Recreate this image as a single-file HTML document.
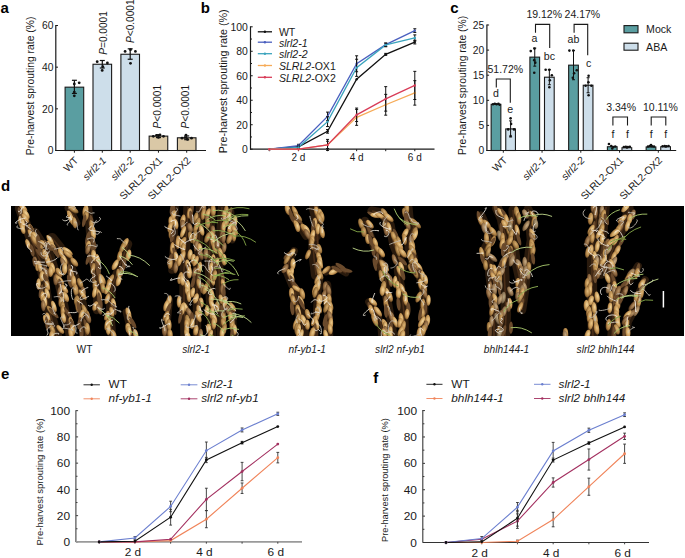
<!DOCTYPE html>
<html><head><meta charset="utf-8"><style>
html,body{margin:0;padding:0;background:#fff;width:685px;height:558px;overflow:hidden}
svg{display:block}
text{font-family:"Liberation Sans", sans-serif}
</style></head><body>
<svg width="685" height="558" viewBox="0 0 685 558" font-family='"Liberation Sans", sans-serif'>
<rect width="685" height="558" fill="#fff"/>
<text x="0.40" y="12.80" font-size="15" text-anchor="start" font-weight="bold" fill="#000">a</text>
<text transform="translate(34.10,85.90) rotate(-90)" font-size="10.35" text-anchor="middle" font-weight="normal" fill="#1a1a1a">Pre-harvest sprouting rate (%)</text>
<line x1="55.80" y1="150.50" x2="58.00" y2="150.50" stroke="#1a1a1a" stroke-width="1"/>
<text x="53.40" y="154.30" font-size="10.3" text-anchor="end" font-weight="normal" fill="#1a1a1a">0</text>
<line x1="55.80" y1="108.83" x2="58.00" y2="108.83" stroke="#1a1a1a" stroke-width="1"/>
<text x="53.40" y="112.63" font-size="10.3" text-anchor="end" font-weight="normal" fill="#1a1a1a">20</text>
<line x1="55.80" y1="67.17" x2="58.00" y2="67.17" stroke="#1a1a1a" stroke-width="1"/>
<text x="53.40" y="70.97" font-size="10.3" text-anchor="end" font-weight="normal" fill="#1a1a1a">40</text>
<line x1="55.80" y1="25.50" x2="58.00" y2="25.50" stroke="#1a1a1a" stroke-width="1"/>
<text x="53.40" y="29.30" font-size="10.3" text-anchor="end" font-weight="normal" fill="#1a1a1a">60</text>
<rect x="65.10" y="87.17" width="18.60" height="63.33" fill="#5a9ea1" stroke="#1a1a1a" stroke-width="1.1"/>
<rect x="93.00" y="64.25" width="18.60" height="86.25" fill="#cddeea" stroke="#1a1a1a" stroke-width="1.1"/>
<rect x="120.90" y="54.25" width="18.60" height="96.25" fill="#cddeea" stroke="#1a1a1a" stroke-width="1.1"/>
<rect x="149.15" y="136.12" width="18.60" height="14.38" fill="#dac8a6" stroke="#1a1a1a" stroke-width="1.1"/>
<rect x="177.40" y="137.79" width="18.60" height="12.71" fill="#dac8a6" stroke="#1a1a1a" stroke-width="1.1"/>
<line x1="74.40" y1="80.29" x2="74.40" y2="93.42" stroke="#111" stroke-width="1.2"/>
<line x1="71.90" y1="80.29" x2="76.90" y2="80.29" stroke="#111" stroke-width="1.2"/>
<line x1="71.90" y1="93.42" x2="76.90" y2="93.42" stroke="#111" stroke-width="1.2"/>
<circle cx="74.30" cy="84.00" r="1.4" fill="#111"/>
<circle cx="79.20" cy="82.80" r="1.4" fill="#111"/>
<circle cx="74.30" cy="92.10" r="1.4" fill="#111"/>
<circle cx="74.30" cy="95.80" r="1.4" fill="#111"/>
<line x1="102.30" y1="60.50" x2="102.30" y2="68.00" stroke="#111" stroke-width="1.2"/>
<line x1="99.80" y1="60.50" x2="104.80" y2="60.50" stroke="#111" stroke-width="1.2"/>
<line x1="99.80" y1="68.00" x2="104.80" y2="68.00" stroke="#111" stroke-width="1.2"/>
<circle cx="97.20" cy="61.70" r="1.4" fill="#111"/>
<circle cx="107.40" cy="63.00" r="1.4" fill="#111"/>
<circle cx="102.20" cy="70.40" r="1.4" fill="#111"/>
<circle cx="102.80" cy="66.70" r="1.4" fill="#111"/>
<line x1="130.20" y1="48.83" x2="130.20" y2="59.25" stroke="#111" stroke-width="1.2"/>
<line x1="127.70" y1="48.83" x2="132.70" y2="48.83" stroke="#111" stroke-width="1.2"/>
<line x1="127.70" y1="59.25" x2="132.70" y2="59.25" stroke="#111" stroke-width="1.2"/>
<circle cx="125.10" cy="51.40" r="1.4" fill="#111"/>
<circle cx="135.40" cy="51.40" r="1.4" fill="#111"/>
<circle cx="130.50" cy="49.70" r="1.4" fill="#111"/>
<circle cx="130.50" cy="63.30" r="1.4" fill="#111"/>
<line x1="158.45" y1="134.67" x2="158.45" y2="137.58" stroke="#111" stroke-width="1.2"/>
<line x1="155.95" y1="134.67" x2="160.95" y2="134.67" stroke="#111" stroke-width="1.2"/>
<line x1="155.95" y1="137.58" x2="160.95" y2="137.58" stroke="#111" stroke-width="1.2"/>
<circle cx="153.30" cy="136.33" r="1.4" fill="#111"/>
<circle cx="163.50" cy="136.33" r="1.4" fill="#111"/>
<circle cx="156.50" cy="135.29" r="1.4" fill="#111"/>
<circle cx="160.00" cy="134.88" r="1.4" fill="#111"/>
<circle cx="158.40" cy="137.38" r="1.4" fill="#111"/>
<line x1="186.70" y1="135.92" x2="186.70" y2="139.67" stroke="#111" stroke-width="1.2"/>
<line x1="184.20" y1="135.92" x2="189.20" y2="135.92" stroke="#111" stroke-width="1.2"/>
<line x1="184.20" y1="139.67" x2="189.20" y2="139.67" stroke="#111" stroke-width="1.2"/>
<circle cx="182.00" cy="138.21" r="1.4" fill="#111"/>
<circle cx="191.50" cy="138.21" r="1.4" fill="#111"/>
<circle cx="186.00" cy="135.08" r="1.4" fill="#111"/>
<circle cx="187.50" cy="139.46" r="1.4" fill="#111"/>
<circle cx="185.00" cy="137.58" r="1.4" fill="#111"/>
<line x1="55.30" y1="150.50" x2="206.00" y2="150.50" stroke="#1a1a1a" stroke-width="1.2"/>
<line x1="55.80" y1="25.00" x2="55.80" y2="151.00" stroke="#1a1a1a" stroke-width="1.2"/>
<line x1="74.40" y1="150.50" x2="74.40" y2="152.70" stroke="#1a1a1a" stroke-width="1"/>
<text transform="translate(79.00,161.10) rotate(-45)" font-size="10.3" text-anchor="end" font-weight="normal" fill="#1a1a1a">WT</text>
<line x1="102.30" y1="150.50" x2="102.30" y2="152.70" stroke="#1a1a1a" stroke-width="1"/>
<text transform="translate(106.90,161.10) rotate(-45)" font-size="10.3" text-anchor="end" font-weight="normal" fill="#1a1a1a" font-style="italic">slrl2-1</text>
<line x1="130.20" y1="150.50" x2="130.20" y2="152.70" stroke="#1a1a1a" stroke-width="1"/>
<text transform="translate(134.80,161.10) rotate(-45)" font-size="10.3" text-anchor="end" font-weight="normal" fill="#1a1a1a" font-style="italic">slrl2-2</text>
<line x1="158.45" y1="150.50" x2="158.45" y2="152.70" stroke="#1a1a1a" stroke-width="1"/>
<text transform="translate(163.05,161.10) rotate(-45)" font-size="10.3" text-anchor="end" font-weight="normal" fill="#1a1a1a">SLRL2-OX1</text>
<line x1="186.70" y1="150.50" x2="186.70" y2="152.70" stroke="#1a1a1a" stroke-width="1"/>
<text transform="translate(191.30,161.10) rotate(-45)" font-size="10.3" text-anchor="end" font-weight="normal" fill="#1a1a1a">SLRL2-OX2</text>
<text transform="translate(107.00,54.70) rotate(-90)" font-size="10.1" text-anchor="start" font-weight="normal" fill="#1a1a1a"><tspan font-style="italic">P</tspan>=0.0001</text>
<text transform="translate(134.20,43.00) rotate(-90)" font-size="10.1" text-anchor="start" font-weight="normal" fill="#1a1a1a"><tspan font-style="italic">P</tspan>&lt;0.0001</text>
<text transform="translate(161.20,128.40) rotate(-90)" font-size="10.1" text-anchor="start" font-weight="normal" fill="#1a1a1a"><tspan font-style="italic">P</tspan>&lt;0.0001</text>
<text transform="translate(189.30,128.40) rotate(-90)" font-size="10.1" text-anchor="start" font-weight="normal" fill="#1a1a1a"><tspan font-style="italic">P</tspan>&lt;0.0001</text>
<text x="200.70" y="12.50" font-size="15" text-anchor="start" font-weight="bold" fill="#000">b</text>
<text transform="translate(227.40,81.30) rotate(-90)" font-size="10.75" text-anchor="middle" font-weight="normal" fill="#1a1a1a">Pre-harvest sprouting rate (%)</text>
<line x1="250.50" y1="149.20" x2="252.70" y2="149.20" stroke="#1a1a1a" stroke-width="1"/>
<text x="247.80" y="153.20" font-size="10.4" text-anchor="end" font-weight="normal" fill="#1a1a1a">0</text>
<line x1="250.50" y1="136.96" x2="252.00" y2="136.96" stroke="#1a1a1a" stroke-width="1"/>
<line x1="250.50" y1="124.72" x2="252.70" y2="124.72" stroke="#1a1a1a" stroke-width="1"/>
<text x="247.80" y="128.72" font-size="10.4" text-anchor="end" font-weight="normal" fill="#1a1a1a">20</text>
<line x1="250.50" y1="112.48" x2="252.00" y2="112.48" stroke="#1a1a1a" stroke-width="1"/>
<line x1="250.50" y1="100.24" x2="252.70" y2="100.24" stroke="#1a1a1a" stroke-width="1"/>
<text x="247.80" y="104.24" font-size="10.4" text-anchor="end" font-weight="normal" fill="#1a1a1a">40</text>
<line x1="250.50" y1="88.00" x2="252.00" y2="88.00" stroke="#1a1a1a" stroke-width="1"/>
<line x1="250.50" y1="75.76" x2="252.70" y2="75.76" stroke="#1a1a1a" stroke-width="1"/>
<text x="247.80" y="79.76" font-size="10.4" text-anchor="end" font-weight="normal" fill="#1a1a1a">60</text>
<line x1="250.50" y1="63.52" x2="252.00" y2="63.52" stroke="#1a1a1a" stroke-width="1"/>
<line x1="250.50" y1="51.28" x2="252.70" y2="51.28" stroke="#1a1a1a" stroke-width="1"/>
<text x="247.80" y="55.28" font-size="10.4" text-anchor="end" font-weight="normal" fill="#1a1a1a">80</text>
<line x1="250.50" y1="39.04" x2="252.00" y2="39.04" stroke="#1a1a1a" stroke-width="1"/>
<line x1="250.50" y1="26.80" x2="252.70" y2="26.80" stroke="#1a1a1a" stroke-width="1"/>
<text x="247.80" y="30.80" font-size="10.4" text-anchor="end" font-weight="normal" fill="#1a1a1a">100</text>
<line x1="250.50" y1="26.30" x2="250.50" y2="149.70" stroke="#1a1a1a" stroke-width="1.2"/>
<line x1="250.00" y1="149.20" x2="434.50" y2="149.20" stroke="#1a1a1a" stroke-width="1.2"/>
<line x1="269.40" y1="149.20" x2="269.40" y2="151.20" stroke="#1a1a1a" stroke-width="1"/>
<line x1="298.48" y1="149.20" x2="298.48" y2="151.20" stroke="#1a1a1a" stroke-width="1"/>
<line x1="327.56" y1="149.20" x2="327.56" y2="151.20" stroke="#1a1a1a" stroke-width="1"/>
<line x1="356.64" y1="149.20" x2="356.64" y2="151.20" stroke="#1a1a1a" stroke-width="1"/>
<line x1="385.72" y1="149.20" x2="385.72" y2="151.20" stroke="#1a1a1a" stroke-width="1"/>
<line x1="414.80" y1="149.20" x2="414.80" y2="151.20" stroke="#1a1a1a" stroke-width="1"/>
<text x="298.48" y="160.80" font-size="10" text-anchor="middle" font-weight="normal" fill="#1a1a1a">2 d</text>
<text x="356.64" y="160.80" font-size="10" text-anchor="middle" font-weight="normal" fill="#1a1a1a">4 d</text>
<text x="414.80" y="160.80" font-size="10" text-anchor="middle" font-weight="normal" fill="#1a1a1a">6 d</text>
<polyline points="269.40,149.20 298.48,146.75 327.56,131.33 356.64,79.19 385.72,54.34 414.80,42.10" fill="none" stroke="#111" stroke-width="1.3"/>
<polyline points="269.40,149.20 298.48,145.53 327.56,116.40 356.64,63.76 385.72,44.67 414.80,30.59" fill="none" stroke="#4a5fbf" stroke-width="1.3"/>
<polyline points="269.40,149.20 298.48,147.36 327.56,121.66 356.64,67.80 385.72,44.92 414.80,37.94" fill="none" stroke="#3ba4bd" stroke-width="1.3"/>
<polyline points="269.40,149.20 298.48,149.20 327.56,144.92 356.64,117.38 385.72,104.77 414.80,92.90" fill="none" stroke="#f6ab58" stroke-width="1.3"/>
<polyline points="269.40,149.20 298.48,149.20 327.56,144.92 356.64,114.81 385.72,98.89 414.80,85.43" fill="none" stroke="#d83c58" stroke-width="1.3"/>
<circle cx="269.40" cy="149.20" r="1.2" fill="#111"/>
<line x1="298.48" y1="145.53" x2="298.48" y2="147.98" stroke="#111" stroke-width="1"/>
<line x1="296.98" y1="145.53" x2="299.98" y2="145.53" stroke="#111" stroke-width="1"/>
<line x1="296.98" y1="147.98" x2="299.98" y2="147.98" stroke="#111" stroke-width="1"/>
<circle cx="298.48" cy="146.75" r="1.2" fill="#111"/>
<line x1="327.56" y1="129.49" x2="327.56" y2="133.17" stroke="#111" stroke-width="1"/>
<line x1="326.06" y1="129.49" x2="329.06" y2="129.49" stroke="#111" stroke-width="1"/>
<line x1="326.06" y1="133.17" x2="329.06" y2="133.17" stroke="#111" stroke-width="1"/>
<circle cx="327.56" cy="131.33" r="1.2" fill="#111"/>
<circle cx="356.64" cy="79.19" r="1.2" fill="#111"/>
<line x1="385.72" y1="53.36" x2="385.72" y2="55.32" stroke="#111" stroke-width="1"/>
<line x1="384.22" y1="53.36" x2="387.22" y2="53.36" stroke="#111" stroke-width="1"/>
<line x1="384.22" y1="55.32" x2="387.22" y2="55.32" stroke="#111" stroke-width="1"/>
<circle cx="385.72" cy="54.34" r="1.2" fill="#111"/>
<line x1="414.80" y1="40.26" x2="414.80" y2="43.94" stroke="#111" stroke-width="1"/>
<line x1="413.30" y1="40.26" x2="416.30" y2="40.26" stroke="#111" stroke-width="1"/>
<line x1="413.30" y1="43.94" x2="416.30" y2="43.94" stroke="#111" stroke-width="1"/>
<circle cx="414.80" cy="42.10" r="1.2" fill="#111"/>
<circle cx="269.40" cy="149.20" r="1.2" fill="#4a5fbf"/>
<line x1="298.48" y1="144.30" x2="298.48" y2="146.75" stroke="#111" stroke-width="1"/>
<line x1="296.98" y1="144.30" x2="299.98" y2="144.30" stroke="#111" stroke-width="1"/>
<line x1="296.98" y1="146.75" x2="299.98" y2="146.75" stroke="#111" stroke-width="1"/>
<circle cx="298.48" cy="145.53" r="1.2" fill="#4a5fbf"/>
<line x1="327.56" y1="112.11" x2="327.56" y2="120.68" stroke="#111" stroke-width="1"/>
<line x1="326.06" y1="112.11" x2="329.06" y2="112.11" stroke="#111" stroke-width="1"/>
<line x1="326.06" y1="120.68" x2="329.06" y2="120.68" stroke="#111" stroke-width="1"/>
<circle cx="327.56" cy="116.40" r="1.2" fill="#4a5fbf"/>
<line x1="356.64" y1="55.81" x2="356.64" y2="71.72" stroke="#111" stroke-width="1"/>
<line x1="355.14" y1="55.81" x2="358.14" y2="55.81" stroke="#111" stroke-width="1"/>
<line x1="355.14" y1="71.72" x2="358.14" y2="71.72" stroke="#111" stroke-width="1"/>
<circle cx="356.64" cy="63.76" r="1.2" fill="#4a5fbf"/>
<line x1="385.72" y1="43.08" x2="385.72" y2="46.26" stroke="#111" stroke-width="1"/>
<line x1="384.22" y1="43.08" x2="387.22" y2="43.08" stroke="#111" stroke-width="1"/>
<line x1="384.22" y1="46.26" x2="387.22" y2="46.26" stroke="#111" stroke-width="1"/>
<circle cx="385.72" cy="44.67" r="1.2" fill="#4a5fbf"/>
<line x1="414.80" y1="28.76" x2="414.80" y2="32.43" stroke="#111" stroke-width="1"/>
<line x1="413.30" y1="28.76" x2="416.30" y2="28.76" stroke="#111" stroke-width="1"/>
<line x1="413.30" y1="32.43" x2="416.30" y2="32.43" stroke="#111" stroke-width="1"/>
<circle cx="414.80" cy="30.59" r="1.2" fill="#4a5fbf"/>
<circle cx="269.40" cy="149.20" r="1.2" fill="#3ba4bd"/>
<line x1="298.48" y1="146.14" x2="298.48" y2="148.59" stroke="#111" stroke-width="1"/>
<line x1="296.98" y1="146.14" x2="299.98" y2="146.14" stroke="#111" stroke-width="1"/>
<line x1="296.98" y1="148.59" x2="299.98" y2="148.59" stroke="#111" stroke-width="1"/>
<circle cx="298.48" cy="147.36" r="1.2" fill="#3ba4bd"/>
<line x1="327.56" y1="116.76" x2="327.56" y2="126.56" stroke="#111" stroke-width="1"/>
<line x1="326.06" y1="116.76" x2="329.06" y2="116.76" stroke="#111" stroke-width="1"/>
<line x1="326.06" y1="126.56" x2="329.06" y2="126.56" stroke="#111" stroke-width="1"/>
<circle cx="327.56" cy="121.66" r="1.2" fill="#3ba4bd"/>
<line x1="356.64" y1="59.24" x2="356.64" y2="76.37" stroke="#111" stroke-width="1"/>
<line x1="355.14" y1="59.24" x2="358.14" y2="59.24" stroke="#111" stroke-width="1"/>
<line x1="355.14" y1="76.37" x2="358.14" y2="76.37" stroke="#111" stroke-width="1"/>
<circle cx="356.64" cy="67.80" r="1.2" fill="#3ba4bd"/>
<line x1="385.72" y1="43.08" x2="385.72" y2="46.75" stroke="#111" stroke-width="1"/>
<line x1="384.22" y1="43.08" x2="387.22" y2="43.08" stroke="#111" stroke-width="1"/>
<line x1="384.22" y1="46.75" x2="387.22" y2="46.75" stroke="#111" stroke-width="1"/>
<circle cx="385.72" cy="44.92" r="1.2" fill="#3ba4bd"/>
<line x1="414.80" y1="34.88" x2="414.80" y2="41.00" stroke="#111" stroke-width="1"/>
<line x1="413.30" y1="34.88" x2="416.30" y2="34.88" stroke="#111" stroke-width="1"/>
<line x1="413.30" y1="41.00" x2="416.30" y2="41.00" stroke="#111" stroke-width="1"/>
<circle cx="414.80" cy="37.94" r="1.2" fill="#3ba4bd"/>
<circle cx="269.40" cy="149.20" r="1.2" fill="#f6ab58"/>
<circle cx="298.48" cy="149.20" r="1.2" fill="#f6ab58"/>
<line x1="327.56" y1="139.41" x2="327.56" y2="150.42" stroke="#111" stroke-width="1"/>
<line x1="326.06" y1="139.41" x2="329.06" y2="139.41" stroke="#111" stroke-width="1"/>
<line x1="326.06" y1="150.42" x2="329.06" y2="150.42" stroke="#111" stroke-width="1"/>
<circle cx="327.56" cy="144.92" r="1.2" fill="#f6ab58"/>
<line x1="356.64" y1="109.42" x2="356.64" y2="125.33" stroke="#111" stroke-width="1"/>
<line x1="355.14" y1="109.42" x2="358.14" y2="109.42" stroke="#111" stroke-width="1"/>
<line x1="355.14" y1="125.33" x2="358.14" y2="125.33" stroke="#111" stroke-width="1"/>
<circle cx="356.64" cy="117.38" r="1.2" fill="#f6ab58"/>
<line x1="385.72" y1="94.36" x2="385.72" y2="115.17" stroke="#111" stroke-width="1"/>
<line x1="384.22" y1="94.36" x2="387.22" y2="94.36" stroke="#111" stroke-width="1"/>
<line x1="384.22" y1="115.17" x2="387.22" y2="115.17" stroke="#111" stroke-width="1"/>
<circle cx="385.72" cy="104.77" r="1.2" fill="#f6ab58"/>
<line x1="414.80" y1="80.66" x2="414.80" y2="105.14" stroke="#111" stroke-width="1"/>
<line x1="413.30" y1="80.66" x2="416.30" y2="80.66" stroke="#111" stroke-width="1"/>
<line x1="413.30" y1="105.14" x2="416.30" y2="105.14" stroke="#111" stroke-width="1"/>
<circle cx="414.80" cy="92.90" r="1.2" fill="#f6ab58"/>
<circle cx="269.40" cy="149.20" r="1.2" fill="#d83c58"/>
<circle cx="298.48" cy="149.20" r="1.2" fill="#d83c58"/>
<line x1="327.56" y1="141.24" x2="327.56" y2="148.59" stroke="#111" stroke-width="1"/>
<line x1="326.06" y1="141.24" x2="329.06" y2="141.24" stroke="#111" stroke-width="1"/>
<line x1="326.06" y1="148.59" x2="329.06" y2="148.59" stroke="#111" stroke-width="1"/>
<circle cx="327.56" cy="144.92" r="1.2" fill="#d83c58"/>
<line x1="356.64" y1="108.07" x2="356.64" y2="121.54" stroke="#111" stroke-width="1"/>
<line x1="355.14" y1="108.07" x2="358.14" y2="108.07" stroke="#111" stroke-width="1"/>
<line x1="355.14" y1="121.54" x2="358.14" y2="121.54" stroke="#111" stroke-width="1"/>
<circle cx="356.64" cy="114.81" r="1.2" fill="#d83c58"/>
<line x1="385.72" y1="86.65" x2="385.72" y2="111.13" stroke="#111" stroke-width="1"/>
<line x1="384.22" y1="86.65" x2="387.22" y2="86.65" stroke="#111" stroke-width="1"/>
<line x1="384.22" y1="111.13" x2="387.22" y2="111.13" stroke="#111" stroke-width="1"/>
<circle cx="385.72" cy="98.89" r="1.2" fill="#d83c58"/>
<line x1="414.80" y1="71.35" x2="414.80" y2="99.51" stroke="#111" stroke-width="1"/>
<line x1="413.30" y1="71.35" x2="416.30" y2="71.35" stroke="#111" stroke-width="1"/>
<line x1="413.30" y1="99.51" x2="416.30" y2="99.51" stroke="#111" stroke-width="1"/>
<circle cx="414.80" cy="85.43" r="1.2" fill="#d83c58"/>
<line x1="257.80" y1="31.80" x2="272.00" y2="31.80" stroke="#111" stroke-width="1.3"/>
<circle cx="264.90" cy="31.80" r="1.2" fill="#111"/>
<text x="278.90" y="36.30" font-size="10.55" text-anchor="start" font-weight="normal" fill="#1a1a1a">WT</text>
<line x1="257.80" y1="42.20" x2="272.00" y2="42.20" stroke="#4a5fbf" stroke-width="1.3"/>
<circle cx="264.90" cy="42.20" r="1.2" fill="#4a5fbf"/>
<text x="278.90" y="46.70" font-size="10.55" text-anchor="start" font-weight="normal" fill="#1a1a1a"><tspan font-style="italic">slrl2-1</tspan></text>
<line x1="257.80" y1="53.70" x2="272.00" y2="53.70" stroke="#3ba4bd" stroke-width="1.3"/>
<circle cx="264.90" cy="53.70" r="1.2" fill="#3ba4bd"/>
<text x="278.90" y="58.20" font-size="10.55" text-anchor="start" font-weight="normal" fill="#1a1a1a"><tspan font-style="italic">slrl2-2</tspan></text>
<line x1="257.80" y1="65.50" x2="272.00" y2="65.50" stroke="#f6ab58" stroke-width="1.3"/>
<circle cx="264.90" cy="65.50" r="1.2" fill="#f6ab58"/>
<text x="278.90" y="70.00" font-size="10.55" text-anchor="start" font-weight="normal" fill="#1a1a1a"><tspan font-style="italic">SLRL2</tspan>-OX1</text>
<line x1="257.80" y1="77.30" x2="272.00" y2="77.30" stroke="#d83c58" stroke-width="1.3"/>
<circle cx="264.90" cy="77.30" r="1.2" fill="#d83c58"/>
<text x="278.90" y="81.80" font-size="10.55" text-anchor="start" font-weight="normal" fill="#1a1a1a"><tspan font-style="italic">SLRL2</tspan>-OX2</text>
<text x="450.20" y="12.70" font-size="15" text-anchor="start" font-weight="bold" fill="#000">c</text>
<text transform="translate(466.20,85.30) rotate(-90)" font-size="10.4" text-anchor="middle" font-weight="normal" fill="#1a1a1a">Pre-harvest sprouting rate (%)</text>
<line x1="486.90" y1="150.50" x2="489.10" y2="150.50" stroke="#1a1a1a" stroke-width="1"/>
<text x="484.30" y="154.30" font-size="10.3" text-anchor="end" font-weight="normal" fill="#1a1a1a">0</text>
<line x1="486.90" y1="125.40" x2="489.10" y2="125.40" stroke="#1a1a1a" stroke-width="1"/>
<text x="484.30" y="129.20" font-size="10.3" text-anchor="end" font-weight="normal" fill="#1a1a1a">5</text>
<line x1="486.90" y1="100.30" x2="489.10" y2="100.30" stroke="#1a1a1a" stroke-width="1"/>
<text x="484.30" y="104.10" font-size="10.3" text-anchor="end" font-weight="normal" fill="#1a1a1a">10</text>
<line x1="486.90" y1="75.20" x2="489.10" y2="75.20" stroke="#1a1a1a" stroke-width="1"/>
<text x="484.30" y="79.00" font-size="10.3" text-anchor="end" font-weight="normal" fill="#1a1a1a">15</text>
<line x1="486.90" y1="50.10" x2="489.10" y2="50.10" stroke="#1a1a1a" stroke-width="1"/>
<text x="484.30" y="53.90" font-size="10.3" text-anchor="end" font-weight="normal" fill="#1a1a1a">20</text>
<line x1="486.90" y1="25.00" x2="489.10" y2="25.00" stroke="#1a1a1a" stroke-width="1"/>
<text x="484.30" y="28.80" font-size="10.3" text-anchor="end" font-weight="normal" fill="#1a1a1a">25</text>
<rect x="491.15" y="104.32" width="9.70" height="46.18" fill="#5a9ea1" stroke="#1a1a1a" stroke-width="1.1"/>
<rect x="505.75" y="128.91" width="9.70" height="21.59" fill="#cddeea" stroke="#1a1a1a" stroke-width="1.1"/>
<line x1="510.60" y1="120.88" x2="510.60" y2="136.95" stroke="#111" stroke-width="1"/>
<line x1="509.10" y1="120.88" x2="512.10" y2="120.88" stroke="#111" stroke-width="1"/>
<line x1="509.10" y1="136.95" x2="512.10" y2="136.95" stroke="#111" stroke-width="1"/>
<circle cx="493.00" cy="104.32" r="1.3" fill="#111"/>
<circle cx="494.80" cy="103.81" r="1.3" fill="#111"/>
<circle cx="496.60" cy="104.32" r="1.3" fill="#111"/>
<circle cx="498.40" cy="103.81" r="1.3" fill="#111"/>
<circle cx="499.60" cy="104.82" r="1.3" fill="#111"/>
<circle cx="510.60" cy="118.37" r="1.3" fill="#111"/>
<circle cx="508.20" cy="129.42" r="1.3" fill="#111"/>
<circle cx="514.00" cy="129.42" r="1.3" fill="#111"/>
<circle cx="510.60" cy="135.94" r="1.3" fill="#111"/>
<circle cx="511.10" cy="123.89" r="1.3" fill="#111"/>
<rect x="529.90" y="57.13" width="9.70" height="93.37" fill="#5a9ea1" stroke="#1a1a1a" stroke-width="1.1"/>
<rect x="544.50" y="77.21" width="9.70" height="73.29" fill="#cddeea" stroke="#1a1a1a" stroke-width="1.1"/>
<line x1="534.75" y1="48.09" x2="534.75" y2="66.16" stroke="#111" stroke-width="1"/>
<line x1="533.25" y1="48.09" x2="536.25" y2="48.09" stroke="#111" stroke-width="1"/>
<line x1="533.25" y1="66.16" x2="536.25" y2="66.16" stroke="#111" stroke-width="1"/>
<line x1="549.35" y1="69.68" x2="549.35" y2="84.74" stroke="#111" stroke-width="1"/>
<line x1="547.85" y1="69.68" x2="550.85" y2="69.68" stroke="#111" stroke-width="1"/>
<line x1="547.85" y1="84.74" x2="550.85" y2="84.74" stroke="#111" stroke-width="1"/>
<circle cx="530.75" cy="51.10" r="1.3" fill="#111"/>
<circle cx="534.45" cy="48.59" r="1.3" fill="#111"/>
<circle cx="534.25" cy="60.14" r="1.3" fill="#111"/>
<circle cx="534.25" cy="72.69" r="1.3" fill="#111"/>
<circle cx="535.25" cy="62.65" r="1.3" fill="#111"/>
<circle cx="545.65" cy="69.68" r="1.3" fill="#111"/>
<circle cx="549.35" cy="69.68" r="1.3" fill="#111"/>
<circle cx="549.85" cy="80.22" r="1.3" fill="#111"/>
<circle cx="549.35" cy="87.25" r="1.3" fill="#111"/>
<circle cx="551.85" cy="75.20" r="1.3" fill="#111"/>
<rect x="568.65" y="65.16" width="9.70" height="85.34" fill="#5a9ea1" stroke="#1a1a1a" stroke-width="1.1"/>
<rect x="583.25" y="85.24" width="9.70" height="65.26" fill="#cddeea" stroke="#1a1a1a" stroke-width="1.1"/>
<line x1="573.50" y1="50.60" x2="573.50" y2="79.72" stroke="#111" stroke-width="1"/>
<line x1="572.00" y1="50.60" x2="575.00" y2="50.60" stroke="#111" stroke-width="1"/>
<line x1="572.00" y1="79.72" x2="575.00" y2="79.72" stroke="#111" stroke-width="1"/>
<line x1="588.10" y1="77.71" x2="588.10" y2="92.77" stroke="#111" stroke-width="1"/>
<line x1="586.60" y1="77.71" x2="589.60" y2="77.71" stroke="#111" stroke-width="1"/>
<line x1="586.60" y1="92.77" x2="589.60" y2="92.77" stroke="#111" stroke-width="1"/>
<circle cx="569.40" cy="50.60" r="1.3" fill="#111"/>
<circle cx="573.30" cy="50.60" r="1.3" fill="#111"/>
<circle cx="576.80" cy="70.18" r="1.3" fill="#111"/>
<circle cx="572.80" cy="77.71" r="1.3" fill="#111"/>
<circle cx="574.10" cy="73.19" r="1.3" fill="#111"/>
<circle cx="588.60" cy="75.70" r="1.3" fill="#111"/>
<circle cx="588.40" cy="82.23" r="1.3" fill="#111"/>
<circle cx="591.40" cy="85.74" r="1.3" fill="#111"/>
<circle cx="588.60" cy="95.28" r="1.3" fill="#111"/>
<circle cx="585.60" cy="85.74" r="1.3" fill="#111"/>
<rect x="607.40" y="146.74" width="9.70" height="3.76" fill="#5a9ea1" stroke="#1a1a1a" stroke-width="1.1"/>
<rect x="622.00" y="147.74" width="9.70" height="2.76" fill="#cddeea" stroke="#1a1a1a" stroke-width="1.1"/>
<circle cx="608.95" cy="143.97" r="1.3" fill="#111"/>
<circle cx="611.25" cy="145.98" r="1.3" fill="#111"/>
<circle cx="613.25" cy="146.99" r="1.3" fill="#111"/>
<circle cx="615.25" cy="146.48" r="1.3" fill="#111"/>
<circle cx="612.25" cy="148.49" r="1.3" fill="#111"/>
<circle cx="623.85" cy="146.99" r="1.3" fill="#111"/>
<circle cx="625.85" cy="146.74" r="1.3" fill="#111"/>
<circle cx="627.85" cy="146.99" r="1.3" fill="#111"/>
<circle cx="629.85" cy="146.74" r="1.3" fill="#111"/>
<circle cx="626.85" cy="147.49" r="1.3" fill="#111"/>
<rect x="646.15" y="146.99" width="9.70" height="3.51" fill="#5a9ea1" stroke="#1a1a1a" stroke-width="1.1"/>
<rect x="660.75" y="146.74" width="9.70" height="3.76" fill="#cddeea" stroke="#1a1a1a" stroke-width="1.1"/>
<circle cx="648.00" cy="146.48" r="1.3" fill="#111"/>
<circle cx="650.00" cy="145.98" r="1.3" fill="#111"/>
<circle cx="652.00" cy="146.23" r="1.3" fill="#111"/>
<circle cx="654.00" cy="146.48" r="1.3" fill="#111"/>
<circle cx="651.00" cy="144.98" r="1.3" fill="#111"/>
<circle cx="662.60" cy="146.23" r="1.3" fill="#111"/>
<circle cx="664.60" cy="145.98" r="1.3" fill="#111"/>
<circle cx="666.60" cy="146.23" r="1.3" fill="#111"/>
<circle cx="668.60" cy="145.98" r="1.3" fill="#111"/>
<circle cx="665.60" cy="146.48" r="1.3" fill="#111"/>
<line x1="486.90" y1="24.50" x2="486.90" y2="151.00" stroke="#1a1a1a" stroke-width="1.2"/>
<line x1="486.40" y1="150.50" x2="676.20" y2="150.50" stroke="#1a1a1a" stroke-width="1.2"/>
<line x1="503.30" y1="150.50" x2="503.30" y2="152.70" stroke="#1a1a1a" stroke-width="1"/>
<text transform="translate(507.90,161.00) rotate(-45)" font-size="10.3" text-anchor="end" font-weight="normal" fill="#1a1a1a">WT</text>
<line x1="542.05" y1="150.50" x2="542.05" y2="152.70" stroke="#1a1a1a" stroke-width="1"/>
<text transform="translate(546.65,161.00) rotate(-45)" font-size="10.3" text-anchor="end" font-weight="normal" fill="#1a1a1a" font-style="italic">slrl2-1</text>
<line x1="580.80" y1="150.50" x2="580.80" y2="152.70" stroke="#1a1a1a" stroke-width="1"/>
<text transform="translate(585.40,161.00) rotate(-45)" font-size="10.3" text-anchor="end" font-weight="normal" fill="#1a1a1a" font-style="italic">slrl2-2</text>
<line x1="619.55" y1="150.50" x2="619.55" y2="152.70" stroke="#1a1a1a" stroke-width="1"/>
<text transform="translate(624.15,161.00) rotate(-45)" font-size="10.3" text-anchor="end" font-weight="normal" fill="#1a1a1a">SLRL2-OX1</text>
<line x1="658.30" y1="150.50" x2="658.30" y2="152.70" stroke="#1a1a1a" stroke-width="1"/>
<text transform="translate(662.90,161.00) rotate(-45)" font-size="10.3" text-anchor="end" font-weight="normal" fill="#1a1a1a">SLRL2-OX2</text>
<text x="496.00" y="97.10" font-size="10.6" text-anchor="middle" font-weight="normal" fill="#1a1a1a">d</text>
<text x="510.30" y="113.20" font-size="10.6" text-anchor="middle" font-weight="normal" fill="#1a1a1a">e</text>
<text x="534.50" y="41.60" font-size="10.6" text-anchor="middle" font-weight="normal" fill="#1a1a1a">a</text>
<text x="549.40" y="59.90" font-size="10.6" text-anchor="middle" font-weight="normal" fill="#1a1a1a">bc</text>
<text x="573.50" y="43.00" font-size="10.6" text-anchor="middle" font-weight="normal" fill="#1a1a1a">ab</text>
<text x="588.60" y="67.40" font-size="10.6" text-anchor="middle" font-weight="normal" fill="#1a1a1a">c</text>
<text x="612.90" y="138.40" font-size="10.6" text-anchor="middle" font-weight="normal" fill="#1a1a1a">f</text>
<text x="627.50" y="138.40" font-size="10.6" text-anchor="middle" font-weight="normal" fill="#1a1a1a">f</text>
<text x="651.20" y="138.40" font-size="10.6" text-anchor="middle" font-weight="normal" fill="#1a1a1a">f</text>
<text x="665.80" y="138.40" font-size="10.6" text-anchor="middle" font-weight="normal" fill="#1a1a1a">f</text>
<rect x="624.00" y="25.60" width="14.00" height="7.20" fill="#5a9ea1" stroke="#1a1a1a" stroke-width="1.1"/>
<rect x="624.00" y="43.20" width="14.00" height="7.00" fill="#cddeea" stroke="#1a1a1a" stroke-width="1.1"/>
<text x="646.10" y="33.20" font-size="10.6" text-anchor="start" font-weight="normal" fill="#1a1a1a">Mock</text>
<text x="646.10" y="50.70" font-size="10.6" text-anchor="start" font-weight="normal" fill="#1a1a1a">ABA</text>
<polyline points="496.3,87.4 496.3,79.0 510.3,79.0 510.3,102.7" fill="none" stroke="#1a1a1a" stroke-width="1.1"/>
<text x="505.30" y="72.60" font-size="10.5" text-anchor="middle" font-weight="normal" fill="#1a1a1a">51.72%</text>
<polyline points="535.5,32.7 535.5,24.4 549.7,24.4 549.7,48.0" fill="none" stroke="#1a1a1a" stroke-width="1.1"/>
<text x="544.20" y="18.40" font-size="10.5" text-anchor="middle" font-weight="normal" fill="#1a1a1a">19.12%</text>
<polyline points="574.1,32.7 574.1,24.4 587.7,24.4 587.7,55.2" fill="none" stroke="#1a1a1a" stroke-width="1.1"/>
<text x="582.40" y="18.40" font-size="10.5" text-anchor="middle" font-weight="normal" fill="#1a1a1a">24.17%</text>
<polyline points="612.9,125.6 612.9,117.0 627.5,117.0 627.5,125.6" fill="none" stroke="#1a1a1a" stroke-width="1.1"/>
<text x="621.10" y="111.00" font-size="10.5" text-anchor="middle" font-weight="normal" fill="#1a1a1a">3.34%</text>
<polyline points="651.2,125.6 651.2,117.0 665.8,117.0 665.8,125.6" fill="none" stroke="#1a1a1a" stroke-width="1.1"/>
<text x="660.40" y="111.00" font-size="10.5" text-anchor="middle" font-weight="normal" fill="#1a1a1a">10.11%</text>
<text x="1.00" y="191.20" font-size="15" text-anchor="start" font-weight="bold" fill="#000">d</text>
<rect x="11" y="206" width="673" height="130" fill="#000"/>
<defs>
<radialGradient id="g0" cx="0.42" cy="0.38" r="0.65"><stop offset="0" stop-color="#ecc98a"/><stop offset="0.6" stop-color="#c19252"/><stop offset="1" stop-color="#6e4a22"/></radialGradient>
<radialGradient id="g1" cx="0.42" cy="0.38" r="0.65"><stop offset="0" stop-color="#e0b878"/><stop offset="0.6" stop-color="#b08448"/><stop offset="1" stop-color="#62401c"/></radialGradient>
<radialGradient id="g2" cx="0.42" cy="0.38" r="0.65"><stop offset="0" stop-color="#f3d69c"/><stop offset="0.6" stop-color="#c99c5a"/><stop offset="1" stop-color="#7a5428"/></radialGradient>
<radialGradient id="g3" cx="0.42" cy="0.38" r="0.65"><stop offset="0" stop-color="#d6ac6e"/><stop offset="0.6" stop-color="#a27a42"/><stop offset="1" stop-color="#563a18"/></radialGradient>
<radialGradient id="g4" cx="0.42" cy="0.38" r="0.65"><stop offset="0" stop-color="#c8ac84"/><stop offset="0.6" stop-color="#957550"/><stop offset="1" stop-color="#4e3a24"/></radialGradient>
<radialGradient id="g5" cx="0.42" cy="0.38" r="0.65"><stop offset="0" stop-color="#b89466"/><stop offset="0.6" stop-color="#86603a"/><stop offset="1" stop-color="#442c16"/></radialGradient>
<radialGradient id="g6" cx="0.42" cy="0.38" r="0.65"><stop offset="0" stop-color="#bca882"/><stop offset="0.6" stop-color="#8a7456"/><stop offset="1" stop-color="#483a28"/></radialGradient>
<clipPath id="pc"><rect x="11" y="206" width="673" height="130"/></clipPath>
</defs>
<g clip-path="url(#pc)">
<path d="M20.0,208.0 L31.0,239.0 L41.0,263.0 L45.0,287.0 L48.0,306.0 L55.0,330.0 L57.0,336.0" fill="none" stroke="#4a3018" stroke-width="10.2" stroke-linecap="round" stroke-linejoin="round" opacity="0.55"/>
<path d="M52.0,238.0 L60.0,248.0 L68.0,262.0 L76.0,282.0 L82.0,305.0 L86.0,336.0" fill="none" stroke="#4a3018" stroke-width="10.2" stroke-linecap="round" stroke-linejoin="round" opacity="0.55"/>
<path d="M35.0,232.0 L50.0,255.0 L58.0,280.0 L64.0,305.0 L70.0,336.0" fill="none" stroke="#4a3018" stroke-width="8.5" stroke-linecap="round" stroke-linejoin="round" opacity="0.55"/>
<path d="M68.0,208.0 L73.0,215.0 L77.0,223.0" fill="none" stroke="#4a3018" stroke-width="6.8" stroke-linecap="round" stroke-linejoin="round" opacity="0.55"/>
<path d="M88.0,208.0 L90.0,230.0 L92.0,260.0" fill="none" stroke="#4a3018" stroke-width="8.5" stroke-linecap="round" stroke-linejoin="round" opacity="0.55"/>
<path d="M95.0,258.0 L98.0,285.0 L97.0,310.0" fill="none" stroke="#4a3018" stroke-width="8.5" stroke-linecap="round" stroke-linejoin="round" opacity="0.55"/>
<path d="M128.0,244.0 L120.0,265.0 L112.0,287.0 L110.0,310.0 L112.0,336.0" fill="none" stroke="#4a3018" stroke-width="8.5" stroke-linecap="round" stroke-linejoin="round" opacity="0.55"/>
<path d="M126.0,312.0 L132.0,336.0" fill="none" stroke="#4a3018" stroke-width="6.8" stroke-linecap="round" stroke-linejoin="round" opacity="0.55"/>
<path d="M175.0,207.0 L174.0,240.0 L172.0,270.0" fill="none" stroke="#4a3018" stroke-width="7.6" stroke-linecap="round" stroke-linejoin="round" opacity="0.55"/>
<path d="M188.0,207.0 L186.0,240.0 L184.0,270.0 L184.0,300.0 L185.0,336.0" fill="none" stroke="#4a3018" stroke-width="9.3" stroke-linecap="round" stroke-linejoin="round" opacity="0.55"/>
<path d="M200.0,207.0 L199.0,240.0 L197.0,270.0 L197.0,300.0 L197.0,336.0" fill="none" stroke="#4a3018" stroke-width="8.5" stroke-linecap="round" stroke-linejoin="round" opacity="0.55"/>
<path d="M212.0,207.0 L210.0,240.0 L209.0,270.0 L210.0,300.0 L212.0,336.0" fill="none" stroke="#4a3018" stroke-width="8.5" stroke-linecap="round" stroke-linejoin="round" opacity="0.55"/>
<path d="M222.0,207.0 L220.0,240.0 L219.0,270.0 L220.0,300.0 L221.0,336.0" fill="none" stroke="#4a3018" stroke-width="8.5" stroke-linecap="round" stroke-linejoin="round" opacity="0.55"/>
<path d="M231.0,212.0 L232.0,240.0" fill="none" stroke="#4a3018" stroke-width="6.8" stroke-linecap="round" stroke-linejoin="round" opacity="0.55"/>
<path d="M230.0,305.0 L233.0,320.0 L234.0,336.0" fill="none" stroke="#4a3018" stroke-width="6.8" stroke-linecap="round" stroke-linejoin="round" opacity="0.55"/>
<path d="M170.0,300.0 L168.0,320.0 L167.0,336.0" fill="none" stroke="#4a3018" stroke-width="6.0" stroke-linecap="round" stroke-linejoin="round" opacity="0.55"/>
<path d="M289.0,208.0 L294.0,218.0 L301.0,228.0 L306.0,236.0" fill="none" stroke="#4a3018" stroke-width="7.6" stroke-linecap="round" stroke-linejoin="round" opacity="0.55"/>
<path d="M314.0,208.0 L317.0,222.0 L316.0,236.0" fill="none" stroke="#4a3018" stroke-width="10.2" stroke-linecap="round" stroke-linejoin="round" opacity="0.55"/>
<path d="M313.0,240.0 L314.0,258.0 L316.0,275.0" fill="none" stroke="#4a3018" stroke-width="10.2" stroke-linecap="round" stroke-linejoin="round" opacity="0.55"/>
<path d="M294.0,251.0 L289.0,261.0 L287.0,273.0 L292.0,285.0 L298.0,291.0" fill="none" stroke="#4a3018" stroke-width="7.6" stroke-linecap="round" stroke-linejoin="round" opacity="0.55"/>
<path d="M295.0,292.0 L298.0,305.0 L302.0,318.0 L303.0,336.0" fill="none" stroke="#4a3018" stroke-width="11.9" stroke-linecap="round" stroke-linejoin="round" opacity="0.55"/>
<path d="M317.0,210.0 L318.0,260.0 L317.0,336.0" fill="none" stroke="#4a3018" stroke-width="1.7" stroke-linecap="round" stroke-linejoin="round" opacity="0.55"/>
<path d="M326.0,272.0 L337.0,268.0 L346.0,273.0" fill="none" stroke="#4a3018" stroke-width="6.8" stroke-linecap="round" stroke-linejoin="round" opacity="0.55"/>
<path d="M327.0,285.0 L328.0,305.0 L329.0,336.0" fill="none" stroke="#4a3018" stroke-width="8.5" stroke-linecap="round" stroke-linejoin="round" opacity="0.55"/>
<path d="M320.0,278.0 L317.0,300.0 L315.0,336.0" fill="none" stroke="#4a3018" stroke-width="6.8" stroke-linecap="round" stroke-linejoin="round" opacity="0.55"/>
<path d="M365.0,221.0 L369.0,233.0 L376.0,251.0 L379.0,262.0 L384.0,271.0" fill="none" stroke="#4a3018" stroke-width="8.5" stroke-linecap="round" stroke-linejoin="round" opacity="0.55"/>
<path d="M372.0,211.0 L382.0,213.0 L390.0,225.0 L394.0,245.0 L398.0,255.0 L403.0,267.0" fill="none" stroke="#4a3018" stroke-width="9.3" stroke-linecap="round" stroke-linejoin="round" opacity="0.55"/>
<path d="M408.0,208.0 L409.0,219.0 L414.0,227.0 L409.0,238.0 L409.0,248.0 L413.0,257.0 L413.0,267.0 L418.0,273.0" fill="none" stroke="#4a3018" stroke-width="9.3" stroke-linecap="round" stroke-linejoin="round" opacity="0.55"/>
<path d="M369.0,302.0 L376.0,313.0 L381.0,324.0 L382.0,336.0" fill="none" stroke="#4a3018" stroke-width="7.6" stroke-linecap="round" stroke-linejoin="round" opacity="0.55"/>
<path d="M380.0,266.0 L386.0,281.0 L386.0,295.0 L388.0,304.0 L392.0,327.0 L393.0,336.0" fill="none" stroke="#4a3018" stroke-width="8.5" stroke-linecap="round" stroke-linejoin="round" opacity="0.55"/>
<path d="M398.0,270.0 L402.0,295.0 L404.0,313.0 L405.0,336.0" fill="none" stroke="#4a3018" stroke-width="8.5" stroke-linecap="round" stroke-linejoin="round" opacity="0.55"/>
<path d="M413.0,266.0 L419.0,273.0 L423.0,288.0 L424.0,304.0 L424.0,317.0 L421.0,336.0" fill="none" stroke="#4a3018" stroke-width="8.5" stroke-linecap="round" stroke-linejoin="round" opacity="0.55"/>
<path d="M481.0,216.0 L491.0,238.0 L484.0,251.0 L489.0,262.0 L490.0,275.0 L492.0,290.0 L494.0,310.0 L494.0,336.0" fill="none" stroke="#4a3018" stroke-width="9.3" stroke-linecap="round" stroke-linejoin="round" opacity="0.55"/>
<path d="M497.0,208.0 L502.0,219.0 L504.0,230.0 L507.0,241.0 L509.0,255.0 L504.0,266.0 L505.0,290.0 L506.0,315.0 L505.0,336.0" fill="none" stroke="#4a3018" stroke-width="10.2" stroke-linecap="round" stroke-linejoin="round" opacity="0.55"/>
<path d="M513.0,210.0 L514.0,222.0 L515.0,233.0 L514.0,245.0 L516.0,262.0 L520.0,280.0 L521.0,300.0" fill="none" stroke="#4a3018" stroke-width="9.3" stroke-linecap="round" stroke-linejoin="round" opacity="0.55"/>
<path d="M528.0,209.0 L533.0,219.0 L530.0,229.0 L531.0,240.0 L529.0,252.0 L527.0,270.0 L525.0,290.0 L522.0,310.0" fill="none" stroke="#4a3018" stroke-width="8.5" stroke-linecap="round" stroke-linejoin="round" opacity="0.55"/>
<path d="M597.0,207.0 L596.0,226.0 L593.0,240.0 L592.0,260.0 L592.0,290.0 L592.0,315.0 L593.0,336.0" fill="none" stroke="#4a3018" stroke-width="10.2" stroke-linecap="round" stroke-linejoin="round" opacity="0.55"/>
<path d="M606.0,207.0 L603.0,240.0 L600.0,260.0 L601.0,275.0" fill="none" stroke="#4a3018" stroke-width="7.6" stroke-linecap="round" stroke-linejoin="round" opacity="0.55"/>
<path d="M629.0,208.0 L626.0,219.0 L622.0,230.0 L618.0,238.0 L613.0,249.0 L607.0,265.0 L612.0,282.0 L614.0,300.0 L613.0,320.0 L612.0,336.0" fill="none" stroke="#4a3018" stroke-width="9.3" stroke-linecap="round" stroke-linejoin="round" opacity="0.55"/>
<path d="M638.0,266.0 L629.0,281.0 L622.0,292.0 L618.0,302.0" fill="none" stroke="#4a3018" stroke-width="7.6" stroke-linecap="round" stroke-linejoin="round" opacity="0.55"/>
<path d="M645.0,280.0 L640.0,291.0 L636.0,307.0 L628.0,322.0 L626.0,336.0" fill="none" stroke="#4a3018" stroke-width="7.6" stroke-linecap="round" stroke-linejoin="round" opacity="0.55"/>
<path d="M566.0,331.0 L567.0,336.0" fill="none" stroke="#4a3018" stroke-width="3.4" stroke-linecap="round" stroke-linejoin="round" opacity="0.55"/>
<path d="M20.0,208.0 L31.0,239.0 L41.0,263.0 L45.0,287.0 L48.0,306.0 L55.0,330.0 L57.0,336.0" fill="none" stroke="#4a2e18" stroke-width="1.6" stroke-linejoin="round"/>
<path d="M52.0,238.0 L60.0,248.0 L68.0,262.0 L76.0,282.0 L82.0,305.0 L86.0,336.0" fill="none" stroke="#4a2e18" stroke-width="1.6" stroke-linejoin="round"/>
<path d="M35.0,232.0 L50.0,255.0 L58.0,280.0 L64.0,305.0 L70.0,336.0" fill="none" stroke="#4a2e18" stroke-width="1.6" stroke-linejoin="round"/>
<path d="M68.0,208.0 L73.0,215.0 L77.0,223.0" fill="none" stroke="#4a2e18" stroke-width="1.6" stroke-linejoin="round"/>
<path d="M88.0,208.0 L90.0,230.0 L92.0,260.0" fill="none" stroke="#4a2e18" stroke-width="1.6" stroke-linejoin="round"/>
<path d="M95.0,258.0 L98.0,285.0 L97.0,310.0" fill="none" stroke="#4a2e18" stroke-width="1.6" stroke-linejoin="round"/>
<path d="M128.0,244.0 L120.0,265.0 L112.0,287.0 L110.0,310.0 L112.0,336.0" fill="none" stroke="#4a2e18" stroke-width="1.6" stroke-linejoin="round"/>
<path d="M126.0,312.0 L132.0,336.0" fill="none" stroke="#4a2e18" stroke-width="1.6" stroke-linejoin="round"/>
<path d="M175.0,207.0 L174.0,240.0 L172.0,270.0" fill="none" stroke="#4a2e18" stroke-width="1.6" stroke-linejoin="round"/>
<path d="M188.0,207.0 L186.0,240.0 L184.0,270.0 L184.0,300.0 L185.0,336.0" fill="none" stroke="#4a2e18" stroke-width="1.6" stroke-linejoin="round"/>
<path d="M200.0,207.0 L199.0,240.0 L197.0,270.0 L197.0,300.0 L197.0,336.0" fill="none" stroke="#4a2e18" stroke-width="1.6" stroke-linejoin="round"/>
<path d="M212.0,207.0 L210.0,240.0 L209.0,270.0 L210.0,300.0 L212.0,336.0" fill="none" stroke="#4a2e18" stroke-width="1.6" stroke-linejoin="round"/>
<path d="M222.0,207.0 L220.0,240.0 L219.0,270.0 L220.0,300.0 L221.0,336.0" fill="none" stroke="#4a2e18" stroke-width="1.6" stroke-linejoin="round"/>
<path d="M231.0,212.0 L232.0,240.0" fill="none" stroke="#4a2e18" stroke-width="1.6" stroke-linejoin="round"/>
<path d="M230.0,305.0 L233.0,320.0 L234.0,336.0" fill="none" stroke="#4a2e18" stroke-width="1.6" stroke-linejoin="round"/>
<path d="M170.0,300.0 L168.0,320.0 L167.0,336.0" fill="none" stroke="#4a2e18" stroke-width="1.6" stroke-linejoin="round"/>
<path d="M289.0,208.0 L294.0,218.0 L301.0,228.0 L306.0,236.0" fill="none" stroke="#4a2e18" stroke-width="1.6" stroke-linejoin="round"/>
<path d="M314.0,208.0 L317.0,222.0 L316.0,236.0" fill="none" stroke="#4a2e18" stroke-width="1.6" stroke-linejoin="round"/>
<path d="M313.0,240.0 L314.0,258.0 L316.0,275.0" fill="none" stroke="#4a2e18" stroke-width="1.6" stroke-linejoin="round"/>
<path d="M294.0,251.0 L289.0,261.0 L287.0,273.0 L292.0,285.0 L298.0,291.0" fill="none" stroke="#4a2e18" stroke-width="1.6" stroke-linejoin="round"/>
<path d="M295.0,292.0 L298.0,305.0 L302.0,318.0 L303.0,336.0" fill="none" stroke="#4a2e18" stroke-width="1.6" stroke-linejoin="round"/>
<path d="M317.0,210.0 L318.0,260.0 L317.0,336.0" fill="none" stroke="#4a2e18" stroke-width="1.6" stroke-linejoin="round"/>
<path d="M326.0,272.0 L337.0,268.0 L346.0,273.0" fill="none" stroke="#4a2e18" stroke-width="1.6" stroke-linejoin="round"/>
<path d="M327.0,285.0 L328.0,305.0 L329.0,336.0" fill="none" stroke="#4a2e18" stroke-width="1.6" stroke-linejoin="round"/>
<path d="M320.0,278.0 L317.0,300.0 L315.0,336.0" fill="none" stroke="#4a2e18" stroke-width="1.6" stroke-linejoin="round"/>
<path d="M365.0,221.0 L369.0,233.0 L376.0,251.0 L379.0,262.0 L384.0,271.0" fill="none" stroke="#4a2e18" stroke-width="1.6" stroke-linejoin="round"/>
<path d="M372.0,211.0 L382.0,213.0 L390.0,225.0 L394.0,245.0 L398.0,255.0 L403.0,267.0" fill="none" stroke="#4a2e18" stroke-width="1.6" stroke-linejoin="round"/>
<path d="M408.0,208.0 L409.0,219.0 L414.0,227.0 L409.0,238.0 L409.0,248.0 L413.0,257.0 L413.0,267.0 L418.0,273.0" fill="none" stroke="#4a2e18" stroke-width="1.6" stroke-linejoin="round"/>
<path d="M369.0,302.0 L376.0,313.0 L381.0,324.0 L382.0,336.0" fill="none" stroke="#4a2e18" stroke-width="1.6" stroke-linejoin="round"/>
<path d="M380.0,266.0 L386.0,281.0 L386.0,295.0 L388.0,304.0 L392.0,327.0 L393.0,336.0" fill="none" stroke="#4a2e18" stroke-width="1.6" stroke-linejoin="round"/>
<path d="M398.0,270.0 L402.0,295.0 L404.0,313.0 L405.0,336.0" fill="none" stroke="#4a2e18" stroke-width="1.6" stroke-linejoin="round"/>
<path d="M413.0,266.0 L419.0,273.0 L423.0,288.0 L424.0,304.0 L424.0,317.0 L421.0,336.0" fill="none" stroke="#4a2e18" stroke-width="1.6" stroke-linejoin="round"/>
<path d="M481.0,216.0 L491.0,238.0 L484.0,251.0 L489.0,262.0 L490.0,275.0 L492.0,290.0 L494.0,310.0 L494.0,336.0" fill="none" stroke="#4a2e18" stroke-width="1.6" stroke-linejoin="round"/>
<path d="M497.0,208.0 L502.0,219.0 L504.0,230.0 L507.0,241.0 L509.0,255.0 L504.0,266.0 L505.0,290.0 L506.0,315.0 L505.0,336.0" fill="none" stroke="#4a2e18" stroke-width="1.6" stroke-linejoin="round"/>
<path d="M513.0,210.0 L514.0,222.0 L515.0,233.0 L514.0,245.0 L516.0,262.0 L520.0,280.0 L521.0,300.0" fill="none" stroke="#4a2e18" stroke-width="1.6" stroke-linejoin="round"/>
<path d="M528.0,209.0 L533.0,219.0 L530.0,229.0 L531.0,240.0 L529.0,252.0 L527.0,270.0 L525.0,290.0 L522.0,310.0" fill="none" stroke="#4a2e18" stroke-width="1.6" stroke-linejoin="round"/>
<path d="M597.0,207.0 L596.0,226.0 L593.0,240.0 L592.0,260.0 L592.0,290.0 L592.0,315.0 L593.0,336.0" fill="none" stroke="#4a2e18" stroke-width="1.6" stroke-linejoin="round"/>
<path d="M606.0,207.0 L603.0,240.0 L600.0,260.0 L601.0,275.0" fill="none" stroke="#4a2e18" stroke-width="1.6" stroke-linejoin="round"/>
<path d="M629.0,208.0 L626.0,219.0 L622.0,230.0 L618.0,238.0 L613.0,249.0 L607.0,265.0 L612.0,282.0 L614.0,300.0 L613.0,320.0 L612.0,336.0" fill="none" stroke="#4a2e18" stroke-width="1.6" stroke-linejoin="round"/>
<path d="M638.0,266.0 L629.0,281.0 L622.0,292.0 L618.0,302.0" fill="none" stroke="#4a2e18" stroke-width="1.6" stroke-linejoin="round"/>
<path d="M645.0,280.0 L640.0,291.0 L636.0,307.0 L628.0,322.0 L626.0,336.0" fill="none" stroke="#4a2e18" stroke-width="1.6" stroke-linejoin="round"/>
<path d="M566.0,331.0 L567.0,336.0" fill="none" stroke="#4a2e18" stroke-width="1.6" stroke-linejoin="round"/>
<ellipse cx="23.3" cy="208.0" rx="5.1" ry="2.5" transform="rotate(45 23.3 208.0)" fill="url(#g0)"/>
<ellipse cx="20.3" cy="213.1" rx="6.2" ry="1.9" transform="rotate(72 20.3 213.1)" fill="#6a4a2c"/>
<ellipse cx="26.0" cy="214.3" rx="5.6" ry="2.7" transform="rotate(59 26.0 214.3)" fill="url(#g2)"/>
<ellipse cx="25.3" cy="218.2" rx="5.4" ry="2.5" transform="rotate(56 25.3 218.2)" fill="url(#g0)"/>
<ellipse cx="20.7" cy="222.2" rx="6.0" ry="2.7" transform="rotate(81 20.7 222.2)" fill="url(#g3)"/>
<ellipse cx="22.6" cy="224.0" rx="5.3" ry="2.4" transform="rotate(82 22.6 224.0)" fill="url(#g2)"/>
<ellipse cx="22.7" cy="229.0" rx="5.1" ry="2.3" transform="rotate(73 22.7 229.0)" fill="url(#g2)"/>
<ellipse cx="31.2" cy="229.3" rx="5.9" ry="2.5" transform="rotate(66 31.2 229.3)" fill="url(#g3)"/>
<ellipse cx="32.1" cy="230.7" rx="6.1" ry="1.8" transform="rotate(73 32.1 230.7)" fill="#6a4a2c"/>
<ellipse cx="31.3" cy="234.8" rx="6.0" ry="2.3" transform="rotate(60 31.3 234.8)" fill="url(#g0)"/>
<ellipse cx="35.4" cy="236.8" rx="5.1" ry="2.7" transform="rotate(54 35.4 236.8)" fill="url(#g0)"/>
<ellipse cx="28.0" cy="244.2" rx="5.4" ry="2.3" transform="rotate(69 28.0 244.2)" fill="url(#g0)"/>
<ellipse cx="35.0" cy="242.7" rx="6.8" ry="2.1" transform="rotate(53 35.0 242.7)" fill="#6a4a2c"/>
<ellipse cx="39.2" cy="245.0" rx="5.9" ry="2.3" transform="rotate(49 39.2 245.0)" fill="url(#g1)"/>
<ellipse cx="32.1" cy="250.6" rx="6.2" ry="2.1" transform="rotate(78 32.1 250.6)" fill="#6a4a2c"/>
<ellipse cx="41.0" cy="252.3" rx="7.2" ry="1.7" transform="rotate(61 41.0 252.3)" fill="#6a4a2c"/>
<ellipse cx="40.0" cy="253.9" rx="6.3" ry="1.9" transform="rotate(50 40.0 253.9)" fill="#6a4a2c"/>
<ellipse cx="34.9" cy="261.8" rx="5.2" ry="2.5" transform="rotate(83 34.9 261.8)" fill="url(#g5)"/>
<ellipse cx="36.1" cy="264.1" rx="6.3" ry="1.8" transform="rotate(66 36.1 264.1)" fill="#6a4a2c"/>
<ellipse cx="37.8" cy="265.8" rx="5.3" ry="2.5" transform="rotate(98 37.8 265.8)" fill="url(#g2)"/>
<ellipse cx="39.8" cy="267.4" rx="5.1" ry="2.4" transform="rotate(78 39.8 267.4)" fill="url(#g0)"/>
<ellipse cx="47.2" cy="271.3" rx="6.2" ry="2.0" transform="rotate(56 47.2 271.3)" fill="#6a4a2c"/>
<ellipse cx="45.8" cy="273.3" rx="6.2" ry="2.3" transform="rotate(74 45.8 273.3)" fill="url(#g5)"/>
<ellipse cx="41.8" cy="276.2" rx="5.2" ry="2.5" transform="rotate(95 41.8 276.2)" fill="url(#g2)"/>
<ellipse cx="46.3" cy="279.5" rx="6.3" ry="2.0" transform="rotate(63 46.3 279.5)" fill="#6a4a2c"/>
<ellipse cx="38.5" cy="284.0" rx="5.8" ry="2.3" transform="rotate(92 38.5 284.0)" fill="url(#g2)"/>
<ellipse cx="47.3" cy="285.7" rx="5.0" ry="2.3" transform="rotate(74 47.3 285.7)" fill="url(#g0)"/>
<ellipse cx="41.1" cy="291.2" rx="7.0" ry="2.0" transform="rotate(102 41.1 291.2)" fill="#6a4a2c"/>
<ellipse cx="47.3" cy="293.4" rx="5.5" ry="2.3" transform="rotate(71 47.3 293.4)" fill="url(#g2)"/>
<ellipse cx="42.4" cy="296.5" rx="5.2" ry="2.4" transform="rotate(90 42.4 296.5)" fill="url(#g0)"/>
<ellipse cx="44.7" cy="300.1" rx="6.4" ry="1.7" transform="rotate(101 44.7 300.1)" fill="#6a4a2c"/>
<ellipse cx="44.6" cy="301.8" rx="5.7" ry="2.6" transform="rotate(84 44.6 301.8)" fill="url(#g2)"/>
<ellipse cx="43.2" cy="305.6" rx="5.8" ry="2.3" transform="rotate(87 43.2 305.6)" fill="url(#g5)"/>
<ellipse cx="53.9" cy="306.4" rx="6.0" ry="2.3" transform="rotate(71 53.9 306.4)" fill="url(#g2)"/>
<ellipse cx="51.0" cy="310.7" rx="6.2" ry="2.4" transform="rotate(50 51.0 310.7)" fill="url(#g3)"/>
<ellipse cx="53.7" cy="313.0" rx="6.9" ry="1.9" transform="rotate(47 53.7 313.0)" fill="#6a4a2c"/>
<ellipse cx="47.8" cy="318.2" rx="5.9" ry="2.6" transform="rotate(79 47.8 318.2)" fill="url(#g0)"/>
<ellipse cx="46.0" cy="320.2" rx="5.6" ry="2.6" transform="rotate(68 46.0 320.2)" fill="url(#g2)"/>
<ellipse cx="46.8" cy="323.3" rx="7.2" ry="1.7" transform="rotate(85 46.8 323.3)" fill="#6a4a2c"/>
<ellipse cx="50.8" cy="326.5" rx="6.9" ry="1.9" transform="rotate(79 50.8 326.5)" fill="#6a4a2c"/>
<ellipse cx="52.4" cy="329.8" rx="6.1" ry="2.3" transform="rotate(69 52.4 329.8)" fill="url(#g3)"/>
<ellipse cx="60.3" cy="329.4" rx="5.3" ry="2.4" transform="rotate(51 60.3 329.4)" fill="url(#g0)"/>
<ellipse cx="51.6" cy="336.9" rx="6.1" ry="2.7" transform="rotate(91 51.6 336.9)" fill="url(#g0)"/>
<ellipse cx="50.2" cy="240.3" rx="6.2" ry="2.4" transform="rotate(58 50.2 240.3)" fill="url(#g2)"/>
<ellipse cx="50.1" cy="245.2" rx="5.2" ry="2.3" transform="rotate(55 50.1 245.2)" fill="url(#g2)"/>
<ellipse cx="52.8" cy="246.7" rx="5.5" ry="2.6" transform="rotate(61 52.8 246.7)" fill="url(#g0)"/>
<ellipse cx="53.9" cy="249.1" rx="5.5" ry="2.4" transform="rotate(59 53.9 249.1)" fill="url(#g5)"/>
<ellipse cx="55.8" cy="252.5" rx="6.2" ry="1.9" transform="rotate(58 55.8 252.5)" fill="#6a4a2c"/>
<ellipse cx="60.7" cy="252.5" rx="5.2" ry="2.5" transform="rotate(71 60.7 252.5)" fill="url(#g0)"/>
<ellipse cx="67.6" cy="251.2" rx="6.2" ry="2.4" transform="rotate(37 67.6 251.2)" fill="url(#g2)"/>
<ellipse cx="68.2" cy="254.6" rx="5.8" ry="2.3" transform="rotate(39 68.2 254.6)" fill="url(#g1)"/>
<ellipse cx="64.3" cy="260.1" rx="5.6" ry="2.6" transform="rotate(66 64.3 260.1)" fill="url(#g2)"/>
<ellipse cx="63.4" cy="263.5" rx="6.2" ry="2.4" transform="rotate(66 63.4 263.5)" fill="url(#g5)"/>
<ellipse cx="74.3" cy="262.2" rx="5.3" ry="2.7" transform="rotate(51 74.3 262.2)" fill="url(#g1)"/>
<ellipse cx="64.7" cy="268.7" rx="6.2" ry="2.7" transform="rotate(91 64.7 268.7)" fill="url(#g2)"/>
<ellipse cx="70.0" cy="270.7" rx="6.5" ry="1.8" transform="rotate(80 70.0 270.7)" fill="#6a4a2c"/>
<ellipse cx="71.2" cy="274.2" rx="5.7" ry="2.5" transform="rotate(79 71.2 274.2)" fill="url(#g2)"/>
<ellipse cx="70.8" cy="275.6" rx="5.5" ry="2.5" transform="rotate(80 70.8 275.6)" fill="url(#g5)"/>
<ellipse cx="69.6" cy="281.2" rx="6.7" ry="2.1" transform="rotate(74 69.6 281.2)" fill="#6a4a2c"/>
<ellipse cx="73.5" cy="281.3" rx="6.0" ry="2.6" transform="rotate(89 73.5 281.3)" fill="url(#g0)"/>
<ellipse cx="80.1" cy="283.2" rx="5.5" ry="2.6" transform="rotate(67 80.1 283.2)" fill="url(#g3)"/>
<ellipse cx="75.7" cy="288.8" rx="6.1" ry="2.4" transform="rotate(74 75.7 288.8)" fill="url(#g0)"/>
<ellipse cx="75.3" cy="289.8" rx="5.9" ry="2.3" transform="rotate(85 75.3 289.8)" fill="url(#g1)"/>
<ellipse cx="83.1" cy="292.2" rx="5.6" ry="2.7" transform="rotate(85 83.1 292.2)" fill="url(#g5)"/>
<ellipse cx="82.8" cy="294.7" rx="6.2" ry="2.3" transform="rotate(56 82.8 294.7)" fill="url(#g0)"/>
<ellipse cx="77.5" cy="300.3" rx="5.1" ry="2.3" transform="rotate(82 77.5 300.3)" fill="url(#g3)"/>
<ellipse cx="76.8" cy="302.6" rx="5.9" ry="2.7" transform="rotate(77 76.8 302.6)" fill="url(#g3)"/>
<ellipse cx="77.8" cy="306.3" rx="6.2" ry="2.5" transform="rotate(87 77.8 306.3)" fill="url(#g1)"/>
<ellipse cx="78.9" cy="307.8" rx="6.7" ry="2.0" transform="rotate(76 78.9 307.8)" fill="#6a4a2c"/>
<ellipse cx="84.6" cy="310.0" rx="6.2" ry="2.3" transform="rotate(67 84.6 310.0)" fill="url(#g3)"/>
<ellipse cx="81.4" cy="314.5" rx="5.6" ry="2.3" transform="rotate(110 81.4 314.5)" fill="url(#g2)"/>
<ellipse cx="87.8" cy="316.3" rx="5.8" ry="2.3" transform="rotate(82 87.8 316.3)" fill="url(#g3)"/>
<ellipse cx="88.1" cy="317.9" rx="5.6" ry="2.7" transform="rotate(70 88.1 317.9)" fill="url(#g5)"/>
<ellipse cx="79.4" cy="323.1" rx="6.2" ry="1.9" transform="rotate(99 79.4 323.1)" fill="#6a4a2c"/>
<ellipse cx="86.2" cy="326.0" rx="7.2" ry="1.7" transform="rotate(75 86.2 326.0)" fill="#6a4a2c"/>
<ellipse cx="87.2" cy="328.7" rx="6.2" ry="2.7" transform="rotate(87 87.2 328.7)" fill="url(#g1)"/>
<ellipse cx="81.2" cy="331.4" rx="6.8" ry="2.1" transform="rotate(83 81.2 331.4)" fill="#6a4a2c"/>
<ellipse cx="81.4" cy="334.8" rx="7.0" ry="1.7" transform="rotate(99 81.4 334.8)" fill="#6a4a2c"/>
<ellipse cx="34.3" cy="236.8" rx="5.1" ry="2.7" transform="rotate(73 34.3 236.8)" fill="url(#g2)"/>
<ellipse cx="34.0" cy="239.5" rx="6.0" ry="2.5" transform="rotate(66 34.0 239.5)" fill="url(#g1)"/>
<ellipse cx="38.4" cy="241.3" rx="7.2" ry="2.1" transform="rotate(83 38.4 241.3)" fill="#6a4a2c"/>
<ellipse cx="44.0" cy="243.8" rx="5.1" ry="2.4" transform="rotate(36 44.0 243.8)" fill="url(#g1)"/>
<ellipse cx="48.0" cy="245.4" rx="6.5" ry="1.8" transform="rotate(55 48.0 245.4)" fill="#6a4a2c"/>
<ellipse cx="45.2" cy="253.9" rx="5.2" ry="2.3" transform="rotate(66 45.2 253.9)" fill="url(#g0)"/>
<ellipse cx="45.9" cy="256.5" rx="5.4" ry="2.3" transform="rotate(54 45.9 256.5)" fill="url(#g2)"/>
<ellipse cx="46.7" cy="257.9" rx="5.6" ry="2.4" transform="rotate(83 46.7 257.9)" fill="url(#g0)"/>
<ellipse cx="48.2" cy="262.1" rx="5.5" ry="2.6" transform="rotate(75 48.2 262.1)" fill="url(#g0)"/>
<ellipse cx="52.3" cy="268.0" rx="5.5" ry="2.7" transform="rotate(79 52.3 268.0)" fill="url(#g2)"/>
<ellipse cx="50.7" cy="271.4" rx="5.5" ry="2.6" transform="rotate(91 50.7 271.4)" fill="url(#g0)"/>
<ellipse cx="59.0" cy="272.5" rx="5.1" ry="2.6" transform="rotate(60 59.0 272.5)" fill="url(#g1)"/>
<ellipse cx="55.9" cy="279.5" rx="5.8" ry="2.7" transform="rotate(94 55.9 279.5)" fill="url(#g5)"/>
<ellipse cx="59.9" cy="280.1" rx="6.1" ry="2.6" transform="rotate(49 59.9 280.1)" fill="url(#g0)"/>
<ellipse cx="60.7" cy="284.7" rx="6.4" ry="1.8" transform="rotate(74 60.7 284.7)" fill="#6a4a2c"/>
<ellipse cx="64.5" cy="289.1" rx="5.1" ry="2.5" transform="rotate(54 64.5 289.1)" fill="url(#g0)"/>
<ellipse cx="59.6" cy="292.5" rx="6.2" ry="2.5" transform="rotate(95 59.6 292.5)" fill="url(#g5)"/>
<ellipse cx="65.7" cy="296.9" rx="5.5" ry="2.7" transform="rotate(65 65.7 296.9)" fill="url(#g0)"/>
<ellipse cx="61.1" cy="301.8" rx="5.5" ry="2.7" transform="rotate(97 61.1 301.8)" fill="url(#g1)"/>
<ellipse cx="62.6" cy="306.6" rx="5.7" ry="2.3" transform="rotate(90 62.6 306.6)" fill="url(#g3)"/>
<ellipse cx="62.8" cy="310.2" rx="5.2" ry="2.3" transform="rotate(98 62.8 310.2)" fill="url(#g1)"/>
<ellipse cx="67.9" cy="312.9" rx="6.9" ry="1.7" transform="rotate(56 67.9 312.9)" fill="#6a4a2c"/>
<ellipse cx="63.5" cy="317.7" rx="5.5" ry="2.4" transform="rotate(79 63.5 317.7)" fill="url(#g2)"/>
<ellipse cx="71.1" cy="322.3" rx="5.4" ry="2.6" transform="rotate(75 71.1 322.3)" fill="url(#g0)"/>
<ellipse cx="72.6" cy="325.1" rx="7.0" ry="2.1" transform="rotate(71 72.6 325.1)" fill="#6a4a2c"/>
<ellipse cx="72.5" cy="330.0" rx="5.5" ry="2.7" transform="rotate(79 72.5 330.0)" fill="url(#g1)"/>
<ellipse cx="70.8" cy="333.4" rx="5.8" ry="2.5" transform="rotate(80 70.8 333.4)" fill="url(#g0)"/>
<ellipse cx="72.7" cy="207.7" rx="5.2" ry="2.7" transform="rotate(59 72.7 207.7)" fill="url(#g0)"/>
<ellipse cx="73.3" cy="209.5" rx="6.0" ry="2.6" transform="rotate(34 73.3 209.5)" fill="url(#g3)"/>
<ellipse cx="70.1" cy="216.0" rx="6.0" ry="2.4" transform="rotate(67 70.1 216.0)" fill="url(#g2)"/>
<ellipse cx="70.3" cy="217.1" rx="5.8" ry="2.3" transform="rotate(66 70.3 217.1)" fill="url(#g0)"/>
<ellipse cx="71.8" cy="220.0" rx="5.8" ry="2.6" transform="rotate(68 71.8 220.0)" fill="url(#g2)"/>
<ellipse cx="74.5" cy="222.8" rx="5.7" ry="2.5" transform="rotate(81 74.5 222.8)" fill="url(#g1)"/>
<ellipse cx="85.7" cy="210.3" rx="5.1" ry="2.6" transform="rotate(97 85.7 210.3)" fill="url(#g2)"/>
<ellipse cx="84.8" cy="212.0" rx="5.5" ry="2.5" transform="rotate(94 84.8 212.0)" fill="url(#g0)"/>
<ellipse cx="86.0" cy="215.8" rx="5.4" ry="2.7" transform="rotate(99 86.0 215.8)" fill="url(#g3)"/>
<ellipse cx="84.2" cy="220.8" rx="6.4" ry="1.8" transform="rotate(102 84.2 220.8)" fill="#6a4a2c"/>
<ellipse cx="91.8" cy="221.3" rx="6.7" ry="1.8" transform="rotate(78 91.8 221.3)" fill="#6a4a2c"/>
<ellipse cx="91.5" cy="226.0" rx="6.0" ry="2.3" transform="rotate(81 91.5 226.0)" fill="url(#g1)"/>
<ellipse cx="92.7" cy="229.9" rx="5.8" ry="2.7" transform="rotate(73 92.7 229.9)" fill="url(#g0)"/>
<ellipse cx="93.1" cy="232.4" rx="5.8" ry="2.4" transform="rotate(80 93.1 232.4)" fill="url(#g1)"/>
<ellipse cx="93.1" cy="234.2" rx="5.5" ry="2.6" transform="rotate(79 93.1 234.2)" fill="url(#g2)"/>
<ellipse cx="87.7" cy="238.0" rx="7.2" ry="2.0" transform="rotate(104 87.7 238.0)" fill="#6a4a2c"/>
<ellipse cx="93.4" cy="242.4" rx="7.2" ry="2.1" transform="rotate(71 93.4 242.4)" fill="#6a4a2c"/>
<ellipse cx="88.1" cy="245.9" rx="5.3" ry="2.6" transform="rotate(102 88.1 245.9)" fill="url(#g2)"/>
<ellipse cx="87.9" cy="249.1" rx="5.5" ry="2.4" transform="rotate(105 87.9 249.1)" fill="url(#g5)"/>
<ellipse cx="93.7" cy="251.2" rx="7.2" ry="2.0" transform="rotate(75 93.7 251.2)" fill="#6a4a2c"/>
<ellipse cx="93.8" cy="255.8" rx="5.9" ry="2.7" transform="rotate(83 93.8 255.8)" fill="url(#g2)"/>
<ellipse cx="88.1" cy="259.1" rx="6.0" ry="1.8" transform="rotate(108 88.1 259.1)" fill="#6a4a2c"/>
<ellipse cx="97.8" cy="260.0" rx="6.0" ry="2.4" transform="rotate(78 97.8 260.0)" fill="url(#g0)"/>
<ellipse cx="91.4" cy="263.0" rx="6.4" ry="1.9" transform="rotate(84 91.4 263.0)" fill="#6a4a2c"/>
<ellipse cx="98.0" cy="267.0" rx="6.2" ry="1.7" transform="rotate(65 98.0 267.0)" fill="#6a4a2c"/>
<ellipse cx="92.9" cy="268.6" rx="5.8" ry="2.4" transform="rotate(102 92.9 268.6)" fill="url(#g3)"/>
<ellipse cx="98.7" cy="273.2" rx="7.0" ry="1.9" transform="rotate(72 98.7 273.2)" fill="#6a4a2c"/>
<ellipse cx="93.7" cy="276.7" rx="6.6" ry="1.8" transform="rotate(93 93.7 276.7)" fill="#6a4a2c"/>
<ellipse cx="102.1" cy="279.3" rx="6.1" ry="2.7" transform="rotate(62 102.1 279.3)" fill="url(#g1)"/>
<ellipse cx="101.2" cy="281.6" rx="6.0" ry="2.5" transform="rotate(75 101.2 281.6)" fill="url(#g2)"/>
<ellipse cx="94.7" cy="285.0" rx="5.3" ry="2.3" transform="rotate(91 94.7 285.0)" fill="url(#g3)"/>
<ellipse cx="102.8" cy="288.0" rx="5.3" ry="2.4" transform="rotate(84 102.8 288.0)" fill="url(#g3)"/>
<ellipse cx="94.7" cy="291.8" rx="6.2" ry="2.4" transform="rotate(103 94.7 291.8)" fill="url(#g2)"/>
<ellipse cx="99.2" cy="294.7" rx="5.9" ry="2.3" transform="rotate(71 99.2 294.7)" fill="url(#g0)"/>
<ellipse cx="99.3" cy="299.3" rx="7.0" ry="1.9" transform="rotate(84 99.3 299.3)" fill="#6a4a2c"/>
<ellipse cx="100.4" cy="302.9" rx="6.8" ry="2.1" transform="rotate(82 100.4 302.9)" fill="#6a4a2c"/>
<ellipse cx="95.2" cy="306.0" rx="5.0" ry="2.6" transform="rotate(109 95.2 306.0)" fill="url(#g0)"/>
<ellipse cx="99.2" cy="309.4" rx="5.6" ry="2.3" transform="rotate(70 99.2 309.4)" fill="url(#g5)"/>
<ellipse cx="124.9" cy="243.4" rx="6.1" ry="2.6" transform="rotate(121 124.9 243.4)" fill="url(#g0)"/>
<ellipse cx="122.4" cy="247.5" rx="6.2" ry="2.4" transform="rotate(114 122.4 247.5)" fill="url(#g3)"/>
<ellipse cx="128.4" cy="255.1" rx="5.7" ry="2.7" transform="rotate(104 128.4 255.1)" fill="url(#g2)"/>
<ellipse cx="119.5" cy="256.0" rx="5.2" ry="2.4" transform="rotate(101 119.5 256.0)" fill="url(#g1)"/>
<ellipse cx="124.2" cy="263.8" rx="6.5" ry="2.1" transform="rotate(95 124.2 263.8)" fill="#6a4a2c"/>
<ellipse cx="115.2" cy="264.7" rx="5.9" ry="2.6" transform="rotate(118 115.2 264.7)" fill="url(#g2)"/>
<ellipse cx="120.9" cy="271.9" rx="5.4" ry="2.5" transform="rotate(93 120.9 271.9)" fill="url(#g5)"/>
<ellipse cx="118.4" cy="274.2" rx="5.5" ry="2.3" transform="rotate(84 118.4 274.2)" fill="url(#g3)"/>
<ellipse cx="118.5" cy="280.8" rx="5.6" ry="2.6" transform="rotate(105 118.5 280.8)" fill="url(#g2)"/>
<ellipse cx="110.3" cy="279.8" rx="6.2" ry="2.5" transform="rotate(121 110.3 279.8)" fill="url(#g3)"/>
<ellipse cx="108.7" cy="285.5" rx="6.2" ry="2.4" transform="rotate(108 108.7 285.5)" fill="url(#g2)"/>
<ellipse cx="107.2" cy="289.4" rx="5.3" ry="2.7" transform="rotate(111 107.2 289.4)" fill="url(#g2)"/>
<ellipse cx="108.6" cy="296.6" rx="6.4" ry="2.1" transform="rotate(101 108.6 296.6)" fill="#6a4a2c"/>
<ellipse cx="107.2" cy="298.9" rx="5.5" ry="2.4" transform="rotate(106 107.2 298.9)" fill="url(#g0)"/>
<ellipse cx="113.5" cy="304.0" rx="5.8" ry="2.6" transform="rotate(81 113.5 304.0)" fill="url(#g2)"/>
<ellipse cx="114.3" cy="309.0" rx="6.0" ry="1.8" transform="rotate(78 114.3 309.0)" fill="#6a4a2c"/>
<ellipse cx="111.7" cy="311.9" rx="5.0" ry="2.3" transform="rotate(77 111.7 311.9)" fill="url(#g0)"/>
<ellipse cx="106.9" cy="315.7" rx="5.1" ry="2.3" transform="rotate(110 106.9 315.7)" fill="url(#g0)"/>
<ellipse cx="108.7" cy="322.5" rx="5.6" ry="2.7" transform="rotate(103 108.7 322.5)" fill="url(#g1)"/>
<ellipse cx="106.7" cy="325.3" rx="5.3" ry="2.3" transform="rotate(98 106.7 325.3)" fill="url(#g2)"/>
<ellipse cx="108.3" cy="329.5" rx="5.4" ry="2.5" transform="rotate(91 108.3 329.5)" fill="url(#g2)"/>
<ellipse cx="113.5" cy="334.7" rx="5.5" ry="2.7" transform="rotate(70 113.5 334.7)" fill="url(#g1)"/>
<ellipse cx="128.4" cy="313.1" rx="5.9" ry="2.6" transform="rotate(72 128.4 313.1)" fill="url(#g0)"/>
<ellipse cx="129.5" cy="318.4" rx="5.7" ry="2.4" transform="rotate(76 129.5 318.4)" fill="url(#g0)"/>
<ellipse cx="132.5" cy="322.3" rx="7.0" ry="2.0" transform="rotate(60 132.5 322.3)" fill="#6a4a2c"/>
<ellipse cx="128.0" cy="328.1" rx="5.1" ry="2.7" transform="rotate(85 128.0 328.1)" fill="url(#g2)"/>
<ellipse cx="129.2" cy="330.7" rx="5.0" ry="2.4" transform="rotate(78 129.2 330.7)" fill="url(#g2)"/>
<ellipse cx="135.6" cy="334.3" rx="5.4" ry="2.6" transform="rotate(78 135.6 334.3)" fill="url(#g2)"/>
<ellipse cx="172.2" cy="208.4" rx="6.8" ry="2.1" transform="rotate(102 172.2 208.4)" fill="#6a4a2c"/>
<ellipse cx="173.3" cy="211.4" rx="6.3" ry="1.8" transform="rotate(95 173.3 211.4)" fill="#6a4a2c"/>
<ellipse cx="173.4" cy="215.3" rx="5.2" ry="2.6" transform="rotate(107 173.4 215.3)" fill="url(#g0)"/>
<ellipse cx="170.7" cy="221.7" rx="5.5" ry="2.4" transform="rotate(87 170.7 221.7)" fill="url(#g0)"/>
<ellipse cx="175.6" cy="223.7" rx="5.6" ry="2.6" transform="rotate(76 175.6 223.7)" fill="url(#g2)"/>
<ellipse cx="170.0" cy="227.3" rx="5.4" ry="2.4" transform="rotate(104 170.0 227.3)" fill="url(#g0)"/>
<ellipse cx="170.9" cy="233.9" rx="5.0" ry="2.4" transform="rotate(92 170.9 233.9)" fill="url(#g1)"/>
<ellipse cx="172.1" cy="236.1" rx="6.5" ry="2.1" transform="rotate(98 172.1 236.1)" fill="#6a4a2c"/>
<ellipse cx="178.4" cy="240.8" rx="5.2" ry="2.4" transform="rotate(86 178.4 240.8)" fill="url(#g1)"/>
<ellipse cx="177.7" cy="243.4" rx="5.5" ry="2.3" transform="rotate(88 177.7 243.4)" fill="url(#g0)"/>
<ellipse cx="172.3" cy="248.1" rx="6.1" ry="2.3" transform="rotate(93 172.3 248.1)" fill="url(#g0)"/>
<ellipse cx="175.4" cy="253.7" rx="6.8" ry="1.9" transform="rotate(67 175.4 253.7)" fill="#6a4a2c"/>
<ellipse cx="176.3" cy="257.4" rx="5.7" ry="2.5" transform="rotate(78 176.3 257.4)" fill="url(#g2)"/>
<ellipse cx="169.9" cy="259.3" rx="6.3" ry="2.0" transform="rotate(111 169.9 259.3)" fill="#6a4a2c"/>
<ellipse cx="170.2" cy="263.6" rx="5.3" ry="2.4" transform="rotate(95 170.2 263.6)" fill="url(#g1)"/>
<ellipse cx="175.7" cy="267.4" rx="6.1" ry="2.6" transform="rotate(95 175.7 267.4)" fill="url(#g5)"/>
<ellipse cx="191.7" cy="209.4" rx="6.6" ry="2.0" transform="rotate(97 191.7 209.4)" fill="#6a4a2c"/>
<ellipse cx="189.3" cy="213.3" rx="5.3" ry="2.4" transform="rotate(98 189.3 213.3)" fill="url(#g0)"/>
<ellipse cx="191.6" cy="217.2" rx="6.8" ry="2.1" transform="rotate(78 191.6 217.2)" fill="#6a4a2c"/>
<ellipse cx="182.8" cy="220.4" rx="5.9" ry="2.7" transform="rotate(101 182.8 220.4)" fill="url(#g0)"/>
<ellipse cx="182.6" cy="224.9" rx="5.1" ry="2.5" transform="rotate(91 182.6 224.9)" fill="url(#g5)"/>
<ellipse cx="190.0" cy="228.1" rx="5.2" ry="2.7" transform="rotate(75 190.0 228.1)" fill="url(#g5)"/>
<ellipse cx="183.0" cy="231.8" rx="6.2" ry="2.3" transform="rotate(111 183.0 231.8)" fill="url(#g2)"/>
<ellipse cx="190.8" cy="237.4" rx="6.0" ry="2.6" transform="rotate(75 190.8 237.4)" fill="url(#g3)"/>
<ellipse cx="183.1" cy="241.7" rx="5.1" ry="2.4" transform="rotate(115 183.1 241.7)" fill="url(#g1)"/>
<ellipse cx="182.0" cy="244.4" rx="5.6" ry="2.7" transform="rotate(92 182.0 244.4)" fill="url(#g0)"/>
<ellipse cx="183.2" cy="248.0" rx="5.7" ry="2.5" transform="rotate(100 183.2 248.0)" fill="url(#g1)"/>
<ellipse cx="190.0" cy="254.6" rx="5.4" ry="2.6" transform="rotate(95 190.0 254.6)" fill="url(#g2)"/>
<ellipse cx="182.3" cy="256.4" rx="6.1" ry="2.6" transform="rotate(111 182.3 256.4)" fill="url(#g0)"/>
<ellipse cx="179.4" cy="260.7" rx="5.9" ry="2.4" transform="rotate(101 179.4 260.7)" fill="url(#g0)"/>
<ellipse cx="188.0" cy="265.1" rx="5.7" ry="2.7" transform="rotate(77 188.0 265.1)" fill="url(#g2)"/>
<ellipse cx="188.8" cy="270.1" rx="7.1" ry="1.9" transform="rotate(80 188.8 270.1)" fill="#6a4a2c"/>
<ellipse cx="189.3" cy="272.5" rx="6.0" ry="2.7" transform="rotate(89 189.3 272.5)" fill="url(#g2)"/>
<ellipse cx="180.2" cy="278.0" rx="6.1" ry="2.6" transform="rotate(104 180.2 278.0)" fill="url(#g0)"/>
<ellipse cx="182.2" cy="280.1" rx="5.7" ry="2.7" transform="rotate(82 182.2 280.1)" fill="url(#g2)"/>
<ellipse cx="188.0" cy="285.7" rx="5.9" ry="2.4" transform="rotate(86 188.0 285.7)" fill="url(#g2)"/>
<ellipse cx="187.6" cy="288.4" rx="6.2" ry="2.3" transform="rotate(66 187.6 288.4)" fill="url(#g2)"/>
<ellipse cx="187.8" cy="292.3" rx="5.3" ry="2.6" transform="rotate(70 187.8 292.3)" fill="url(#g2)"/>
<ellipse cx="188.9" cy="296.5" rx="5.7" ry="2.4" transform="rotate(88 188.9 296.5)" fill="url(#g2)"/>
<ellipse cx="179.0" cy="301.8" rx="6.0" ry="2.3" transform="rotate(91 179.0 301.8)" fill="url(#g2)"/>
<ellipse cx="185.4" cy="307.1" rx="5.3" ry="2.4" transform="rotate(63 185.4 307.1)" fill="url(#g2)"/>
<ellipse cx="182.2" cy="309.2" rx="6.1" ry="2.7" transform="rotate(95 182.2 309.2)" fill="url(#g2)"/>
<ellipse cx="189.3" cy="312.7" rx="5.5" ry="2.6" transform="rotate(67 189.3 312.7)" fill="url(#g5)"/>
<ellipse cx="180.4" cy="316.8" rx="7.1" ry="1.7" transform="rotate(102 180.4 316.8)" fill="#6a4a2c"/>
<ellipse cx="187.7" cy="320.5" rx="5.8" ry="2.6" transform="rotate(78 187.7 320.5)" fill="url(#g3)"/>
<ellipse cx="186.7" cy="324.4" rx="5.2" ry="2.5" transform="rotate(89 186.7 324.4)" fill="url(#g0)"/>
<ellipse cx="186.7" cy="330.0" rx="5.9" ry="2.5" transform="rotate(89 186.7 330.0)" fill="url(#g0)"/>
<ellipse cx="187.6" cy="335.4" rx="6.1" ry="2.6" transform="rotate(66 187.6 335.4)" fill="url(#g2)"/>
<ellipse cx="203.6" cy="207.6" rx="5.9" ry="2.7" transform="rotate(83 203.6 207.6)" fill="url(#g5)"/>
<ellipse cx="203.2" cy="214.3" rx="5.8" ry="2.4" transform="rotate(98 203.2 214.3)" fill="url(#g1)"/>
<ellipse cx="195.9" cy="217.7" rx="5.6" ry="2.5" transform="rotate(101 195.9 217.7)" fill="url(#g3)"/>
<ellipse cx="197.6" cy="222.8" rx="5.5" ry="2.6" transform="rotate(107 197.6 222.8)" fill="url(#g3)"/>
<ellipse cx="196.1" cy="227.0" rx="5.9" ry="2.4" transform="rotate(110 196.1 227.0)" fill="url(#g1)"/>
<ellipse cx="201.6" cy="230.4" rx="5.5" ry="2.5" transform="rotate(75 201.6 230.4)" fill="url(#g2)"/>
<ellipse cx="195.2" cy="235.6" rx="5.0" ry="2.3" transform="rotate(92 195.2 235.6)" fill="url(#g3)"/>
<ellipse cx="194.3" cy="239.5" rx="5.5" ry="2.5" transform="rotate(91 194.3 239.5)" fill="url(#g3)"/>
<ellipse cx="196.2" cy="245.2" rx="6.2" ry="2.3" transform="rotate(101 196.2 245.2)" fill="url(#g5)"/>
<ellipse cx="199.7" cy="248.7" rx="5.5" ry="2.7" transform="rotate(85 199.7 248.7)" fill="url(#g2)"/>
<ellipse cx="200.6" cy="254.5" rx="5.7" ry="2.6" transform="rotate(70 200.6 254.5)" fill="url(#g5)"/>
<ellipse cx="193.3" cy="259.1" rx="5.1" ry="2.6" transform="rotate(92 193.3 259.1)" fill="url(#g2)"/>
<ellipse cx="195.6" cy="261.0" rx="5.6" ry="2.5" transform="rotate(114 195.6 261.0)" fill="url(#g0)"/>
<ellipse cx="199.6" cy="267.7" rx="6.1" ry="2.5" transform="rotate(97 199.6 267.7)" fill="url(#g0)"/>
<ellipse cx="194.4" cy="272.5" rx="5.3" ry="2.3" transform="rotate(102 194.4 272.5)" fill="url(#g5)"/>
<ellipse cx="198.6" cy="277.0" rx="6.1" ry="1.7" transform="rotate(96 198.6 277.0)" fill="#6a4a2c"/>
<ellipse cx="193.2" cy="281.7" rx="6.3" ry="1.9" transform="rotate(103 193.2 281.7)" fill="#6a4a2c"/>
<ellipse cx="199.3" cy="284.4" rx="5.8" ry="2.6" transform="rotate(74 199.3 284.4)" fill="url(#g1)"/>
<ellipse cx="202.0" cy="287.9" rx="5.4" ry="2.4" transform="rotate(93 202.0 287.9)" fill="url(#g5)"/>
<ellipse cx="192.5" cy="292.6" rx="5.1" ry="2.3" transform="rotate(102 192.5 292.6)" fill="url(#g2)"/>
<ellipse cx="195.9" cy="298.4" rx="5.4" ry="2.7" transform="rotate(107 195.9 298.4)" fill="url(#g2)"/>
<ellipse cx="201.2" cy="302.5" rx="5.0" ry="2.5" transform="rotate(84 201.2 302.5)" fill="url(#g0)"/>
<ellipse cx="199.3" cy="306.6" rx="6.6" ry="1.7" transform="rotate(86 199.3 306.6)" fill="#6a4a2c"/>
<ellipse cx="199.1" cy="311.0" rx="6.1" ry="2.6" transform="rotate(77 199.1 311.0)" fill="url(#g0)"/>
<ellipse cx="198.3" cy="316.6" rx="6.2" ry="2.5" transform="rotate(68 198.3 316.6)" fill="url(#g0)"/>
<ellipse cx="192.1" cy="318.9" rx="6.9" ry="2.1" transform="rotate(88 192.1 318.9)" fill="#6a4a2c"/>
<ellipse cx="192.2" cy="323.7" rx="5.1" ry="2.4" transform="rotate(95 192.2 323.7)" fill="url(#g2)"/>
<ellipse cx="195.8" cy="330.4" rx="5.1" ry="2.6" transform="rotate(98 195.8 330.4)" fill="url(#g0)"/>
<ellipse cx="200.6" cy="334.8" rx="6.0" ry="2.5" transform="rotate(93 200.6 334.8)" fill="url(#g5)"/>
<ellipse cx="213.1" cy="210.5" rx="5.9" ry="2.7" transform="rotate(89 213.1 210.5)" fill="url(#g1)"/>
<ellipse cx="207.4" cy="213.8" rx="6.0" ry="2.5" transform="rotate(113 207.4 213.8)" fill="url(#g0)"/>
<ellipse cx="207.0" cy="219.8" rx="5.0" ry="2.3" transform="rotate(88 207.0 219.8)" fill="url(#g5)"/>
<ellipse cx="207.5" cy="223.6" rx="5.3" ry="2.6" transform="rotate(92 207.5 223.6)" fill="url(#g3)"/>
<ellipse cx="213.1" cy="230.7" rx="5.2" ry="2.4" transform="rotate(84 213.1 230.7)" fill="url(#g5)"/>
<ellipse cx="212.8" cy="235.8" rx="5.1" ry="2.4" transform="rotate(66 212.8 235.8)" fill="url(#g0)"/>
<ellipse cx="207.4" cy="237.4" rx="5.8" ry="2.6" transform="rotate(114 207.4 237.4)" fill="url(#g3)"/>
<ellipse cx="213.1" cy="242.5" rx="6.1" ry="2.6" transform="rotate(78 213.1 242.5)" fill="url(#g2)"/>
<ellipse cx="214.7" cy="247.9" rx="6.2" ry="2.6" transform="rotate(73 214.7 247.9)" fill="url(#g1)"/>
<ellipse cx="205.8" cy="254.0" rx="5.7" ry="2.7" transform="rotate(91 205.8 254.0)" fill="url(#g5)"/>
<ellipse cx="213.1" cy="260.2" rx="6.2" ry="2.6" transform="rotate(93 213.1 260.2)" fill="url(#g2)"/>
<ellipse cx="213.9" cy="263.3" rx="6.5" ry="1.7" transform="rotate(86 213.9 263.3)" fill="#6a4a2c"/>
<ellipse cx="211.1" cy="268.2" rx="6.0" ry="2.5" transform="rotate(96 211.1 268.2)" fill="url(#g2)"/>
<ellipse cx="213.2" cy="275.4" rx="7.0" ry="1.7" transform="rotate(85 213.2 275.4)" fill="#6a4a2c"/>
<ellipse cx="212.5" cy="279.7" rx="6.1" ry="2.3" transform="rotate(78 212.5 279.7)" fill="url(#g2)"/>
<ellipse cx="207.6" cy="284.3" rx="6.8" ry="2.1" transform="rotate(107 207.6 284.3)" fill="#6a4a2c"/>
<ellipse cx="205.0" cy="289.0" rx="5.8" ry="2.7" transform="rotate(108 205.0 289.0)" fill="url(#g1)"/>
<ellipse cx="212.0" cy="294.2" rx="6.1" ry="2.3" transform="rotate(74 212.0 294.2)" fill="url(#g0)"/>
<ellipse cx="211.1" cy="299.1" rx="5.3" ry="2.6" transform="rotate(93 211.1 299.1)" fill="url(#g2)"/>
<ellipse cx="212.2" cy="305.0" rx="5.3" ry="2.4" transform="rotate(65 212.2 305.0)" fill="url(#g2)"/>
<ellipse cx="207.0" cy="310.8" rx="5.7" ry="2.5" transform="rotate(91 207.0 310.8)" fill="url(#g2)"/>
<ellipse cx="212.0" cy="312.7" rx="6.0" ry="2.6" transform="rotate(95 212.0 312.7)" fill="url(#g2)"/>
<ellipse cx="214.3" cy="318.7" rx="5.1" ry="2.6" transform="rotate(74 214.3 318.7)" fill="url(#g2)"/>
<ellipse cx="213.7" cy="323.3" rx="6.1" ry="2.5" transform="rotate(89 213.7 323.3)" fill="url(#g0)"/>
<ellipse cx="208.6" cy="328.8" rx="5.0" ry="2.7" transform="rotate(85 208.6 328.8)" fill="url(#g2)"/>
<ellipse cx="210.3" cy="334.7" rx="5.2" ry="2.3" transform="rotate(106 210.3 334.7)" fill="url(#g2)"/>
<ellipse cx="226.3" cy="210.9" rx="5.4" ry="2.6" transform="rotate(91 226.3 210.9)" fill="url(#g3)"/>
<ellipse cx="224.8" cy="216.1" rx="5.6" ry="2.5" transform="rotate(78 224.8 216.1)" fill="url(#g2)"/>
<ellipse cx="225.7" cy="219.9" rx="6.1" ry="2.7" transform="rotate(73 225.7 219.9)" fill="url(#g2)"/>
<ellipse cx="225.2" cy="222.9" rx="5.7" ry="2.6" transform="rotate(101 225.2 222.9)" fill="url(#g1)"/>
<ellipse cx="223.4" cy="227.6" rx="6.0" ry="2.3" transform="rotate(91 223.4 227.6)" fill="url(#g0)"/>
<ellipse cx="222.0" cy="235.4" rx="5.6" ry="2.3" transform="rotate(97 222.0 235.4)" fill="url(#g5)"/>
<ellipse cx="223.4" cy="237.7" rx="5.8" ry="2.5" transform="rotate(93 223.4 237.7)" fill="url(#g5)"/>
<ellipse cx="217.3" cy="244.6" rx="5.0" ry="2.7" transform="rotate(90 217.3 244.6)" fill="url(#g5)"/>
<ellipse cx="224.1" cy="247.7" rx="5.5" ry="2.4" transform="rotate(97 224.1 247.7)" fill="url(#g5)"/>
<ellipse cx="220.6" cy="253.5" rx="5.9" ry="2.5" transform="rotate(76 220.6 253.5)" fill="url(#g0)"/>
<ellipse cx="224.0" cy="259.5" rx="6.1" ry="2.7" transform="rotate(86 224.0 259.5)" fill="url(#g2)"/>
<ellipse cx="216.5" cy="262.7" rx="5.4" ry="2.4" transform="rotate(104 216.5 262.7)" fill="url(#g2)"/>
<ellipse cx="214.4" cy="268.2" rx="7.0" ry="2.1" transform="rotate(99 214.4 268.2)" fill="#6a4a2c"/>
<ellipse cx="214.5" cy="275.9" rx="5.8" ry="2.6" transform="rotate(101 214.5 275.9)" fill="url(#g1)"/>
<ellipse cx="223.1" cy="279.2" rx="6.3" ry="1.8" transform="rotate(83 223.1 279.2)" fill="#6a4a2c"/>
<ellipse cx="223.1" cy="284.2" rx="5.4" ry="2.3" transform="rotate(79 223.1 284.2)" fill="url(#g0)"/>
<ellipse cx="222.4" cy="289.5" rx="6.2" ry="2.4" transform="rotate(90 222.4 289.5)" fill="url(#g5)"/>
<ellipse cx="224.0" cy="292.1" rx="6.0" ry="1.7" transform="rotate(87 224.0 292.1)" fill="#6a4a2c"/>
<ellipse cx="221.2" cy="299.4" rx="5.1" ry="2.4" transform="rotate(75 221.2 299.4)" fill="url(#g0)"/>
<ellipse cx="224.6" cy="302.3" rx="6.0" ry="2.7" transform="rotate(95 224.6 302.3)" fill="url(#g0)"/>
<ellipse cx="217.2" cy="306.9" rx="5.6" ry="2.5" transform="rotate(87 217.2 306.9)" fill="url(#g3)"/>
<ellipse cx="223.3" cy="311.9" rx="7.2" ry="2.1" transform="rotate(70 223.3 311.9)" fill="#6a4a2c"/>
<ellipse cx="223.5" cy="317.5" rx="5.6" ry="2.5" transform="rotate(79 223.5 317.5)" fill="url(#g3)"/>
<ellipse cx="223.8" cy="324.1" rx="5.8" ry="2.6" transform="rotate(72 223.8 324.1)" fill="url(#g1)"/>
<ellipse cx="224.2" cy="329.3" rx="5.3" ry="2.3" transform="rotate(96 224.2 329.3)" fill="url(#g3)"/>
<ellipse cx="222.0" cy="333.1" rx="5.6" ry="2.5" transform="rotate(95 222.0 333.1)" fill="url(#g2)"/>
<ellipse cx="229.6" cy="213.0" rx="6.3" ry="2.1" transform="rotate(110 229.6 213.0)" fill="#6a4a2c"/>
<ellipse cx="228.8" cy="216.7" rx="5.3" ry="2.5" transform="rotate(97 228.8 216.7)" fill="url(#g2)"/>
<ellipse cx="234.9" cy="221.7" rx="6.2" ry="2.5" transform="rotate(95 234.9 221.7)" fill="url(#g0)"/>
<ellipse cx="233.2" cy="225.3" rx="5.5" ry="2.5" transform="rotate(88 233.2 225.3)" fill="url(#g5)"/>
<ellipse cx="230.0" cy="228.0" rx="6.0" ry="2.7" transform="rotate(102 230.0 228.0)" fill="url(#g0)"/>
<ellipse cx="234.7" cy="230.5" rx="5.3" ry="2.4" transform="rotate(64 234.7 230.5)" fill="url(#g0)"/>
<ellipse cx="233.8" cy="236.0" rx="5.6" ry="2.4" transform="rotate(86 233.8 236.0)" fill="url(#g1)"/>
<ellipse cx="229.3" cy="238.8" rx="5.4" ry="2.6" transform="rotate(110 229.3 238.8)" fill="url(#g3)"/>
<ellipse cx="232.5" cy="307.1" rx="5.4" ry="2.5" transform="rotate(57 232.5 307.1)" fill="url(#g1)"/>
<ellipse cx="228.1" cy="310.4" rx="5.6" ry="2.6" transform="rotate(73 228.1 310.4)" fill="url(#g5)"/>
<ellipse cx="232.6" cy="313.7" rx="7.2" ry="1.7" transform="rotate(54 232.6 313.7)" fill="#6a4a2c"/>
<ellipse cx="230.6" cy="317.7" rx="6.2" ry="2.5" transform="rotate(84 230.6 317.7)" fill="url(#g0)"/>
<ellipse cx="232.1" cy="323.3" rx="5.9" ry="2.7" transform="rotate(94 232.1 323.3)" fill="url(#g5)"/>
<ellipse cx="232.1" cy="326.2" rx="5.1" ry="2.6" transform="rotate(88 232.1 326.2)" fill="url(#g1)"/>
<ellipse cx="234.5" cy="329.6" rx="5.4" ry="2.6" transform="rotate(87 234.5 329.6)" fill="url(#g2)"/>
<ellipse cx="231.9" cy="335.2" rx="7.0" ry="1.8" transform="rotate(94 231.9 335.2)" fill="#6a4a2c"/>
<ellipse cx="168.9" cy="300.5" rx="5.5" ry="2.6" transform="rotate(105 168.9 300.5)" fill="url(#g0)"/>
<ellipse cx="166.1" cy="305.8" rx="5.7" ry="2.6" transform="rotate(105 166.1 305.8)" fill="url(#g2)"/>
<ellipse cx="168.1" cy="309.7" rx="7.1" ry="2.1" transform="rotate(112 168.1 309.7)" fill="#6a4a2c"/>
<ellipse cx="165.9" cy="315.9" rx="5.4" ry="2.5" transform="rotate(117 165.9 315.9)" fill="url(#g1)"/>
<ellipse cx="166.9" cy="319.4" rx="5.5" ry="2.4" transform="rotate(99 166.9 319.4)" fill="url(#g0)"/>
<ellipse cx="169.1" cy="325.0" rx="6.1" ry="2.5" transform="rotate(87 169.1 325.0)" fill="url(#g1)"/>
<ellipse cx="164.4" cy="330.4" rx="6.0" ry="2.6" transform="rotate(90 164.4 330.4)" fill="url(#g5)"/>
<ellipse cx="170.0" cy="334.2" rx="5.0" ry="2.7" transform="rotate(83 170.0 334.2)" fill="url(#g1)"/>
<ellipse cx="287.7" cy="209.8" rx="5.4" ry="2.7" transform="rotate(74 287.7 209.8)" fill="url(#g0)"/>
<ellipse cx="295.1" cy="211.6" rx="6.1" ry="2.3" transform="rotate(64 295.1 211.6)" fill="url(#g1)"/>
<ellipse cx="291.3" cy="215.7" rx="7.0" ry="1.8" transform="rotate(72 291.3 215.7)" fill="#6a4a2c"/>
<ellipse cx="297.8" cy="216.9" rx="6.2" ry="2.5" transform="rotate(50 297.8 216.9)" fill="url(#g3)"/>
<ellipse cx="296.7" cy="219.9" rx="7.1" ry="1.7" transform="rotate(31 296.7 219.9)" fill="#6a4a2c"/>
<ellipse cx="296.8" cy="225.6" rx="5.9" ry="2.4" transform="rotate(64 296.8 225.6)" fill="url(#g0)"/>
<ellipse cx="297.2" cy="226.8" rx="5.3" ry="2.4" transform="rotate(77 297.2 226.8)" fill="url(#g2)"/>
<ellipse cx="304.0" cy="228.0" rx="5.2" ry="2.7" transform="rotate(57 304.0 228.0)" fill="url(#g1)"/>
<ellipse cx="306.4" cy="229.5" rx="5.5" ry="2.7" transform="rotate(57 306.4 229.5)" fill="url(#g2)"/>
<ellipse cx="307.5" cy="234.5" rx="6.2" ry="2.5" transform="rotate(63 307.5 234.5)" fill="url(#g5)"/>
<ellipse cx="316.5" cy="210.0" rx="6.9" ry="2.1" transform="rotate(80 316.5 210.0)" fill="#6a4a2c"/>
<ellipse cx="316.8" cy="211.9" rx="5.2" ry="2.6" transform="rotate(73 316.8 211.9)" fill="url(#g0)"/>
<ellipse cx="320.3" cy="213.8" rx="5.2" ry="2.6" transform="rotate(73 320.3 213.8)" fill="url(#g0)"/>
<ellipse cx="321.9" cy="216.7" rx="5.6" ry="2.5" transform="rotate(80 321.9 216.7)" fill="url(#g1)"/>
<ellipse cx="319.7" cy="218.8" rx="6.0" ry="2.6" transform="rotate(62 319.7 218.8)" fill="url(#g1)"/>
<ellipse cx="314.9" cy="223.0" rx="5.2" ry="2.4" transform="rotate(90 314.9 223.0)" fill="url(#g0)"/>
<ellipse cx="313.2" cy="226.5" rx="6.6" ry="1.9" transform="rotate(97 313.2 226.5)" fill="#6a4a2c"/>
<ellipse cx="317.9" cy="229.0" rx="5.6" ry="2.6" transform="rotate(93 317.9 229.0)" fill="url(#g2)"/>
<ellipse cx="322.0" cy="232.3" rx="6.1" ry="2.6" transform="rotate(77 322.0 232.3)" fill="url(#g0)"/>
<ellipse cx="312.5" cy="235.0" rx="5.4" ry="2.5" transform="rotate(104 312.5 235.0)" fill="url(#g2)"/>
<ellipse cx="311.8" cy="241.4" rx="6.0" ry="2.6" transform="rotate(99 311.8 241.4)" fill="url(#g0)"/>
<ellipse cx="311.9" cy="244.0" rx="6.0" ry="2.3" transform="rotate(82 311.9 244.0)" fill="url(#g1)"/>
<ellipse cx="319.2" cy="248.9" rx="5.1" ry="2.7" transform="rotate(74 319.2 248.9)" fill="url(#g3)"/>
<ellipse cx="315.5" cy="249.9" rx="6.9" ry="1.7" transform="rotate(67 315.5 249.9)" fill="#6a4a2c"/>
<ellipse cx="307.9" cy="254.5" rx="5.2" ry="2.3" transform="rotate(112 307.9 254.5)" fill="url(#g1)"/>
<ellipse cx="318.9" cy="257.1" rx="5.0" ry="2.5" transform="rotate(75 318.9 257.1)" fill="url(#g0)"/>
<ellipse cx="320.0" cy="261.2" rx="5.2" ry="2.4" transform="rotate(80 320.0 261.2)" fill="url(#g2)"/>
<ellipse cx="320.0" cy="263.8" rx="5.2" ry="2.4" transform="rotate(68 320.0 263.8)" fill="url(#g2)"/>
<ellipse cx="317.9" cy="267.8" rx="6.1" ry="2.6" transform="rotate(74 317.9 267.8)" fill="url(#g5)"/>
<ellipse cx="319.1" cy="270.7" rx="5.5" ry="2.3" transform="rotate(89 319.1 270.7)" fill="url(#g3)"/>
<ellipse cx="319.9" cy="274.0" rx="6.1" ry="2.6" transform="rotate(66 319.9 274.0)" fill="url(#g3)"/>
<ellipse cx="291.6" cy="252.9" rx="5.3" ry="2.6" transform="rotate(128 291.6 252.9)" fill="url(#g2)"/>
<ellipse cx="287.7" cy="256.0" rx="5.1" ry="2.7" transform="rotate(137 287.7 256.0)" fill="url(#g5)"/>
<ellipse cx="287.1" cy="259.0" rx="6.1" ry="2.3" transform="rotate(118 287.1 259.0)" fill="url(#g3)"/>
<ellipse cx="292.9" cy="264.1" rx="5.8" ry="2.7" transform="rotate(91 292.9 264.1)" fill="url(#g2)"/>
<ellipse cx="284.9" cy="268.5" rx="5.1" ry="2.7" transform="rotate(118 284.9 268.5)" fill="url(#g5)"/>
<ellipse cx="291.3" cy="272.5" rx="6.2" ry="2.5" transform="rotate(102 291.3 272.5)" fill="url(#g0)"/>
<ellipse cx="289.8" cy="274.0" rx="5.2" ry="2.5" transform="rotate(65 289.8 274.0)" fill="url(#g2)"/>
<ellipse cx="291.5" cy="277.3" rx="5.5" ry="2.6" transform="rotate(72 291.5 277.3)" fill="url(#g2)"/>
<ellipse cx="293.0" cy="281.7" rx="7.2" ry="1.8" transform="rotate(64 293.0 281.7)" fill="#6a4a2c"/>
<ellipse cx="296.1" cy="286.5" rx="6.4" ry="2.1" transform="rotate(54 296.1 286.5)" fill="#6a4a2c"/>
<ellipse cx="297.4" cy="289.1" rx="6.0" ry="2.3" transform="rotate(32 297.4 289.1)" fill="url(#g0)"/>
<ellipse cx="291.6" cy="293.7" rx="6.0" ry="2.7" transform="rotate(86 291.6 293.7)" fill="url(#g0)"/>
<ellipse cx="302.3" cy="293.8" rx="5.8" ry="2.6" transform="rotate(76 302.3 293.8)" fill="url(#g1)"/>
<ellipse cx="293.8" cy="299.2" rx="6.2" ry="1.9" transform="rotate(72 293.8 299.2)" fill="#6a4a2c"/>
<ellipse cx="293.1" cy="300.2" rx="5.1" ry="2.5" transform="rotate(81 293.1 300.2)" fill="url(#g1)"/>
<ellipse cx="301.1" cy="301.0" rx="5.8" ry="2.3" transform="rotate(63 301.1 301.0)" fill="url(#g0)"/>
<ellipse cx="301.5" cy="303.5" rx="7.2" ry="1.8" transform="rotate(62 301.5 303.5)" fill="#6a4a2c"/>
<ellipse cx="292.1" cy="308.2" rx="7.2" ry="2.0" transform="rotate(84 292.1 308.2)" fill="#6a4a2c"/>
<ellipse cx="297.7" cy="309.7" rx="5.2" ry="2.5" transform="rotate(85 297.7 309.7)" fill="url(#g1)"/>
<ellipse cx="298.4" cy="311.2" rx="5.2" ry="2.3" transform="rotate(73 298.4 311.2)" fill="url(#g2)"/>
<ellipse cx="298.2" cy="314.8" rx="6.5" ry="1.7" transform="rotate(81 298.2 314.8)" fill="#6a4a2c"/>
<ellipse cx="307.7" cy="314.0" rx="5.2" ry="2.5" transform="rotate(73 307.7 314.0)" fill="url(#g1)"/>
<ellipse cx="298.7" cy="318.7" rx="5.9" ry="2.4" transform="rotate(86 298.7 318.7)" fill="url(#g3)"/>
<ellipse cx="303.6" cy="320.3" rx="6.1" ry="2.7" transform="rotate(67 303.6 320.3)" fill="url(#g2)"/>
<ellipse cx="295.5" cy="324.2" rx="5.7" ry="2.3" transform="rotate(105 295.5 324.2)" fill="url(#g0)"/>
<ellipse cx="307.3" cy="324.8" rx="5.0" ry="2.5" transform="rotate(87 307.3 324.8)" fill="url(#g0)"/>
<ellipse cx="296.8" cy="328.6" rx="6.2" ry="2.5" transform="rotate(93 296.8 328.6)" fill="url(#g3)"/>
<ellipse cx="298.5" cy="329.4" rx="5.6" ry="2.4" transform="rotate(99 298.5 329.4)" fill="url(#g2)"/>
<ellipse cx="298.4" cy="333.1" rx="5.5" ry="2.6" transform="rotate(90 298.4 333.1)" fill="url(#g2)"/>
<ellipse cx="300.9" cy="334.6" rx="5.6" ry="2.4" transform="rotate(107 300.9 334.6)" fill="url(#g2)"/>
<ellipse cx="326.4" cy="269.8" rx="5.3" ry="2.3" transform="rotate(-43 326.4 269.8)" fill="url(#g1)"/>
<ellipse cx="333.9" cy="271.7" rx="5.6" ry="2.7" transform="rotate(-25 333.9 271.7)" fill="url(#g2)"/>
<ellipse cx="336.7" cy="269.2" rx="6.0" ry="2.0" transform="rotate(29 336.7 269.2)" fill="#6a4a2c"/>
<ellipse cx="341.1" cy="266.8" rx="6.6" ry="2.0" transform="rotate(33 341.1 266.8)" fill="#6a4a2c"/>
<ellipse cx="346.3" cy="270.4" rx="6.4" ry="1.9" transform="rotate(13 346.3 270.4)" fill="#6a4a2c"/>
<ellipse cx="325.1" cy="286.6" rx="5.0" ry="2.6" transform="rotate(97 325.1 286.6)" fill="url(#g5)"/>
<ellipse cx="328.5" cy="290.3" rx="5.8" ry="2.6" transform="rotate(78 328.5 290.3)" fill="url(#g5)"/>
<ellipse cx="323.5" cy="295.6" rx="6.1" ry="2.4" transform="rotate(108 323.5 295.6)" fill="url(#g5)"/>
<ellipse cx="329.1" cy="299.1" rx="5.4" ry="2.5" transform="rotate(84 329.1 299.1)" fill="url(#g1)"/>
<ellipse cx="325.7" cy="301.8" rx="5.5" ry="2.3" transform="rotate(90 325.7 301.8)" fill="url(#g2)"/>
<ellipse cx="330.4" cy="305.5" rx="5.5" ry="2.5" transform="rotate(71 330.4 305.5)" fill="url(#g1)"/>
<ellipse cx="326.2" cy="307.4" rx="5.8" ry="2.5" transform="rotate(112 326.2 307.4)" fill="url(#g3)"/>
<ellipse cx="330.2" cy="311.3" rx="5.8" ry="2.3" transform="rotate(88 330.2 311.3)" fill="url(#g0)"/>
<ellipse cx="329.9" cy="316.5" rx="5.7" ry="2.6" transform="rotate(72 329.9 316.5)" fill="url(#g5)"/>
<ellipse cx="325.2" cy="320.4" rx="6.6" ry="2.1" transform="rotate(103 325.2 320.4)" fill="#6a4a2c"/>
<ellipse cx="330.7" cy="323.5" rx="6.0" ry="2.5" transform="rotate(93 330.7 323.5)" fill="url(#g0)"/>
<ellipse cx="325.6" cy="327.9" rx="7.1" ry="1.8" transform="rotate(104 325.6 327.9)" fill="#6a4a2c"/>
<ellipse cx="330.0" cy="329.1" rx="5.4" ry="2.6" transform="rotate(83 330.0 329.1)" fill="url(#g0)"/>
<ellipse cx="325.8" cy="335.1" rx="5.4" ry="2.4" transform="rotate(78 325.8 335.1)" fill="url(#g2)"/>
<ellipse cx="317.9" cy="278.7" rx="6.2" ry="2.4" transform="rotate(119 317.9 278.7)" fill="url(#g2)"/>
<ellipse cx="318.1" cy="285.2" rx="6.0" ry="2.5" transform="rotate(95 318.1 285.2)" fill="url(#g2)"/>
<ellipse cx="314.7" cy="289.5" rx="6.0" ry="2.3" transform="rotate(106 314.7 289.5)" fill="url(#g2)"/>
<ellipse cx="315.2" cy="292.3" rx="5.7" ry="2.4" transform="rotate(105 315.2 292.3)" fill="url(#g3)"/>
<ellipse cx="319.7" cy="299.4" rx="5.2" ry="2.6" transform="rotate(90 319.7 299.4)" fill="url(#g2)"/>
<ellipse cx="318.7" cy="301.4" rx="5.3" ry="2.3" transform="rotate(89 318.7 301.4)" fill="url(#g2)"/>
<ellipse cx="319.1" cy="308.4" rx="5.4" ry="2.6" transform="rotate(73 319.1 308.4)" fill="url(#g1)"/>
<ellipse cx="317.3" cy="312.3" rx="5.2" ry="2.4" transform="rotate(81 317.3 312.3)" fill="url(#g2)"/>
<ellipse cx="317.3" cy="314.9" rx="5.6" ry="2.3" transform="rotate(92 317.3 314.9)" fill="url(#g1)"/>
<ellipse cx="314.2" cy="320.5" rx="6.0" ry="2.4" transform="rotate(116 314.2 320.5)" fill="url(#g0)"/>
<ellipse cx="316.7" cy="324.0" rx="6.2" ry="2.3" transform="rotate(76 316.7 324.0)" fill="url(#g2)"/>
<ellipse cx="314.5" cy="329.8" rx="6.7" ry="1.8" transform="rotate(98 314.5 329.8)" fill="#6a4a2c"/>
<ellipse cx="312.1" cy="332.9" rx="5.9" ry="2.7" transform="rotate(107 312.1 332.9)" fill="url(#g0)"/>
<ellipse cx="361.0" cy="224.0" rx="5.6" ry="2.6" transform="rotate(74 361.0 224.0)" fill="url(#g3)"/>
<ellipse cx="369.9" cy="224.2" rx="5.2" ry="2.4" transform="rotate(51 369.9 224.2)" fill="url(#g0)"/>
<ellipse cx="363.7" cy="231.9" rx="5.1" ry="2.7" transform="rotate(82 363.7 231.9)" fill="url(#g3)"/>
<ellipse cx="370.4" cy="232.0" rx="6.1" ry="1.7" transform="rotate(60 370.4 232.0)" fill="#6a4a2c"/>
<ellipse cx="367.7" cy="239.0" rx="5.1" ry="2.6" transform="rotate(83 367.7 239.0)" fill="url(#g0)"/>
<ellipse cx="370.8" cy="240.6" rx="6.7" ry="2.0" transform="rotate(74 370.8 240.6)" fill="#6a4a2c"/>
<ellipse cx="375.3" cy="242.8" rx="5.4" ry="2.4" transform="rotate(72 375.3 242.8)" fill="url(#g0)"/>
<ellipse cx="373.5" cy="250.1" rx="6.3" ry="2.1" transform="rotate(88 373.5 250.1)" fill="#6a4a2c"/>
<ellipse cx="378.4" cy="249.9" rx="5.4" ry="2.7" transform="rotate(49 378.4 249.9)" fill="url(#g1)"/>
<ellipse cx="381.5" cy="252.7" rx="5.2" ry="2.6" transform="rotate(61 381.5 252.7)" fill="url(#g0)"/>
<ellipse cx="376.5" cy="259.7" rx="7.0" ry="2.1" transform="rotate(102 376.5 259.7)" fill="#6a4a2c"/>
<ellipse cx="374.8" cy="264.5" rx="6.7" ry="1.7" transform="rotate(77 374.8 264.5)" fill="#6a4a2c"/>
<ellipse cx="383.7" cy="264.0" rx="6.2" ry="2.7" transform="rotate(41 383.7 264.0)" fill="url(#g5)"/>
<ellipse cx="384.7" cy="267.0" rx="5.6" ry="2.5" transform="rotate(44 384.7 267.0)" fill="url(#g2)"/>
<ellipse cx="373.3" cy="214.9" rx="6.7" ry="1.8" transform="rotate(25 373.3 214.9)" fill="#6a4a2c"/>
<ellipse cx="376.2" cy="215.2" rx="5.9" ry="2.7" transform="rotate(4 376.2 215.2)" fill="url(#g2)"/>
<ellipse cx="380.1" cy="215.8" rx="5.9" ry="2.3" transform="rotate(27 380.1 215.8)" fill="url(#g0)"/>
<ellipse cx="384.5" cy="213.0" rx="5.4" ry="2.6" transform="rotate(56 384.5 213.0)" fill="url(#g3)"/>
<ellipse cx="388.7" cy="217.5" rx="6.1" ry="2.6" transform="rotate(41 388.7 217.5)" fill="url(#g0)"/>
<ellipse cx="386.1" cy="222.9" rx="6.5" ry="2.0" transform="rotate(60 386.1 222.9)" fill="#6a4a2c"/>
<ellipse cx="384.9" cy="227.0" rx="5.7" ry="2.3" transform="rotate(76 384.9 227.0)" fill="url(#g3)"/>
<ellipse cx="389.0" cy="227.8" rx="5.6" ry="2.5" transform="rotate(78 389.0 227.8)" fill="url(#g0)"/>
<ellipse cx="386.0" cy="230.6" rx="5.5" ry="2.4" transform="rotate(82 386.0 230.6)" fill="url(#g5)"/>
<ellipse cx="395.9" cy="234.9" rx="6.7" ry="2.0" transform="rotate(67 395.9 234.9)" fill="#6a4a2c"/>
<ellipse cx="393.6" cy="236.6" rx="5.3" ry="2.4" transform="rotate(70 393.6 236.6)" fill="url(#g1)"/>
<ellipse cx="398.7" cy="241.4" rx="5.3" ry="2.5" transform="rotate(72 398.7 241.4)" fill="url(#g3)"/>
<ellipse cx="396.6" cy="243.6" rx="5.1" ry="2.4" transform="rotate(66 396.6 243.6)" fill="url(#g1)"/>
<ellipse cx="399.4" cy="245.5" rx="5.6" ry="2.7" transform="rotate(55 399.4 245.5)" fill="url(#g0)"/>
<ellipse cx="397.7" cy="250.7" rx="6.1" ry="2.3" transform="rotate(74 397.7 250.7)" fill="url(#g3)"/>
<ellipse cx="402.7" cy="252.9" rx="5.9" ry="2.7" transform="rotate(52 402.7 252.9)" fill="url(#g0)"/>
<ellipse cx="394.5" cy="259.7" rx="5.8" ry="2.3" transform="rotate(72 394.5 259.7)" fill="url(#g5)"/>
<ellipse cx="402.4" cy="260.9" rx="6.1" ry="2.0" transform="rotate(43 402.4 260.9)" fill="#6a4a2c"/>
<ellipse cx="401.3" cy="267.1" rx="5.7" ry="2.5" transform="rotate(70 401.3 267.1)" fill="url(#g2)"/>
<ellipse cx="406.7" cy="208.8" rx="5.1" ry="2.5" transform="rotate(89 406.7 208.8)" fill="url(#g3)"/>
<ellipse cx="404.6" cy="213.1" rx="5.1" ry="2.5" transform="rotate(78 404.6 213.1)" fill="url(#g3)"/>
<ellipse cx="406.1" cy="217.1" rx="6.9" ry="2.1" transform="rotate(85 406.1 217.1)" fill="#6a4a2c"/>
<ellipse cx="406.6" cy="218.9" rx="6.7" ry="2.0" transform="rotate(107 406.6 218.9)" fill="#6a4a2c"/>
<ellipse cx="407.7" cy="224.9" rx="5.7" ry="2.5" transform="rotate(73 407.7 224.9)" fill="url(#g5)"/>
<ellipse cx="414.0" cy="222.3" rx="5.8" ry="2.6" transform="rotate(42 414.0 222.3)" fill="url(#g3)"/>
<ellipse cx="416.7" cy="224.4" rx="5.5" ry="2.4" transform="rotate(42 416.7 224.4)" fill="url(#g3)"/>
<ellipse cx="414.6" cy="232.0" rx="5.3" ry="2.6" transform="rotate(109 414.6 232.0)" fill="url(#g3)"/>
<ellipse cx="414.7" cy="235.3" rx="6.1" ry="2.7" transform="rotate(112 414.7 235.3)" fill="url(#g2)"/>
<ellipse cx="405.2" cy="233.2" rx="5.2" ry="2.6" transform="rotate(117 405.2 233.2)" fill="url(#g2)"/>
<ellipse cx="404.5" cy="239.5" rx="5.5" ry="2.4" transform="rotate(84 404.5 239.5)" fill="url(#g1)"/>
<ellipse cx="411.4" cy="241.5" rx="6.0" ry="2.5" transform="rotate(89 411.4 241.5)" fill="url(#g5)"/>
<ellipse cx="412.7" cy="246.3" rx="5.8" ry="2.5" transform="rotate(85 412.7 246.3)" fill="url(#g3)"/>
<ellipse cx="412.1" cy="247.2" rx="6.0" ry="2.6" transform="rotate(70 412.1 247.2)" fill="url(#g2)"/>
<ellipse cx="412.6" cy="250.3" rx="6.1" ry="2.7" transform="rotate(61 412.6 250.3)" fill="url(#g3)"/>
<ellipse cx="409.5" cy="254.8" rx="5.4" ry="2.6" transform="rotate(91 409.5 254.8)" fill="url(#g2)"/>
<ellipse cx="415.1" cy="258.5" rx="7.0" ry="1.8" transform="rotate(70 415.1 258.5)" fill="#6a4a2c"/>
<ellipse cx="411.3" cy="259.2" rx="5.4" ry="2.5" transform="rotate(97 411.3 259.2)" fill="url(#g3)"/>
<ellipse cx="415.6" cy="263.1" rx="5.7" ry="2.5" transform="rotate(89 415.6 263.1)" fill="url(#g2)"/>
<ellipse cx="411.2" cy="268.9" rx="5.2" ry="2.6" transform="rotate(61 411.2 268.9)" fill="url(#g3)"/>
<ellipse cx="416.5" cy="267.5" rx="5.7" ry="2.3" transform="rotate(35 416.5 267.5)" fill="url(#g5)"/>
<ellipse cx="415.2" cy="272.8" rx="6.2" ry="2.4" transform="rotate(66 415.2 272.8)" fill="url(#g3)"/>
<ellipse cx="372.9" cy="301.9" rx="5.3" ry="2.6" transform="rotate(42 372.9 301.9)" fill="url(#g2)"/>
<ellipse cx="370.0" cy="308.4" rx="6.7" ry="1.7" transform="rotate(73 370.0 308.4)" fill="#6a4a2c"/>
<ellipse cx="371.1" cy="310.0" rx="5.3" ry="2.3" transform="rotate(73 371.1 310.0)" fill="url(#g0)"/>
<ellipse cx="377.9" cy="311.4" rx="6.2" ry="2.5" transform="rotate(54 377.9 311.4)" fill="url(#g0)"/>
<ellipse cx="374.4" cy="318.4" rx="5.5" ry="2.7" transform="rotate(69 374.4 318.4)" fill="url(#g0)"/>
<ellipse cx="374.9" cy="320.8" rx="6.1" ry="2.5" transform="rotate(66 374.9 320.8)" fill="url(#g1)"/>
<ellipse cx="384.6" cy="323.9" rx="5.3" ry="2.5" transform="rotate(68 384.6 323.9)" fill="url(#g0)"/>
<ellipse cx="385.0" cy="326.6" rx="5.3" ry="2.3" transform="rotate(94 385.0 326.6)" fill="url(#g2)"/>
<ellipse cx="385.8" cy="331.4" rx="5.7" ry="2.5" transform="rotate(79 385.8 331.4)" fill="url(#g5)"/>
<ellipse cx="384.3" cy="333.6" rx="5.6" ry="2.3" transform="rotate(76 384.3 333.6)" fill="url(#g0)"/>
<ellipse cx="383.0" cy="266.0" rx="6.1" ry="2.5" transform="rotate(64 383.0 266.0)" fill="url(#g0)"/>
<ellipse cx="384.7" cy="271.4" rx="6.0" ry="2.7" transform="rotate(66 384.7 271.4)" fill="url(#g0)"/>
<ellipse cx="381.2" cy="276.0" rx="6.2" ry="2.5" transform="rotate(80 381.2 276.0)" fill="url(#g3)"/>
<ellipse cx="388.5" cy="276.7" rx="5.9" ry="2.3" transform="rotate(54 388.5 276.7)" fill="url(#g5)"/>
<ellipse cx="390.6" cy="281.3" rx="5.7" ry="2.4" transform="rotate(84 390.6 281.3)" fill="url(#g5)"/>
<ellipse cx="383.4" cy="286.6" rx="6.0" ry="2.7" transform="rotate(97 383.4 286.6)" fill="url(#g3)"/>
<ellipse cx="382.3" cy="290.7" rx="5.2" ry="2.7" transform="rotate(93 382.3 290.7)" fill="url(#g2)"/>
<ellipse cx="387.7" cy="293.5" rx="5.7" ry="2.3" transform="rotate(74 387.7 293.5)" fill="url(#g2)"/>
<ellipse cx="390.3" cy="296.9" rx="5.1" ry="2.3" transform="rotate(77 390.3 296.9)" fill="url(#g1)"/>
<ellipse cx="385.6" cy="301.4" rx="6.0" ry="2.5" transform="rotate(87 385.6 301.4)" fill="url(#g5)"/>
<ellipse cx="386.2" cy="306.0" rx="6.2" ry="2.3" transform="rotate(78 386.2 306.0)" fill="url(#g0)"/>
<ellipse cx="386.7" cy="307.9" rx="5.8" ry="2.5" transform="rotate(81 386.7 307.9)" fill="url(#g1)"/>
<ellipse cx="386.1" cy="310.9" rx="6.9" ry="2.1" transform="rotate(89 386.1 310.9)" fill="#6a4a2c"/>
<ellipse cx="391.2" cy="315.7" rx="5.4" ry="2.7" transform="rotate(63 391.2 315.7)" fill="url(#g5)"/>
<ellipse cx="392.1" cy="318.8" rx="5.7" ry="2.5" transform="rotate(67 392.1 318.8)" fill="url(#g5)"/>
<ellipse cx="395.3" cy="322.1" rx="5.7" ry="2.3" transform="rotate(69 395.3 322.1)" fill="url(#g2)"/>
<ellipse cx="390.9" cy="327.9" rx="6.2" ry="1.8" transform="rotate(97 390.9 327.9)" fill="#6a4a2c"/>
<ellipse cx="390.3" cy="331.6" rx="5.4" ry="2.3" transform="rotate(94 390.3 331.6)" fill="url(#g2)"/>
<ellipse cx="390.1" cy="335.2" rx="6.1" ry="2.6" transform="rotate(77 390.1 335.2)" fill="url(#g2)"/>
<ellipse cx="399.8" cy="271.5" rx="6.2" ry="2.5" transform="rotate(63 399.8 271.5)" fill="url(#g0)"/>
<ellipse cx="402.6" cy="274.1" rx="6.5" ry="2.1" transform="rotate(74 402.6 274.1)" fill="#6a4a2c"/>
<ellipse cx="395.0" cy="281.8" rx="6.0" ry="2.4" transform="rotate(93 395.0 281.8)" fill="url(#g2)"/>
<ellipse cx="397.7" cy="285.8" rx="5.2" ry="2.5" transform="rotate(81 397.7 285.8)" fill="url(#g2)"/>
<ellipse cx="402.0" cy="288.5" rx="5.5" ry="2.5" transform="rotate(67 402.0 288.5)" fill="url(#g0)"/>
<ellipse cx="398.4" cy="293.2" rx="5.6" ry="2.7" transform="rotate(91 398.4 293.2)" fill="url(#g2)"/>
<ellipse cx="405.3" cy="296.3" rx="5.3" ry="2.4" transform="rotate(84 405.3 296.3)" fill="url(#g1)"/>
<ellipse cx="405.5" cy="300.7" rx="5.1" ry="2.5" transform="rotate(76 405.5 300.7)" fill="url(#g0)"/>
<ellipse cx="398.5" cy="303.9" rx="6.8" ry="2.0" transform="rotate(84 398.5 303.9)" fill="#6a4a2c"/>
<ellipse cx="408.4" cy="308.8" rx="6.9" ry="2.1" transform="rotate(87 408.4 308.8)" fill="#6a4a2c"/>
<ellipse cx="406.9" cy="314.1" rx="5.3" ry="2.5" transform="rotate(94 406.9 314.1)" fill="url(#g0)"/>
<ellipse cx="401.1" cy="319.0" rx="5.9" ry="2.6" transform="rotate(85 401.1 319.0)" fill="url(#g0)"/>
<ellipse cx="399.8" cy="322.9" rx="5.0" ry="2.4" transform="rotate(102 399.8 322.9)" fill="url(#g0)"/>
<ellipse cx="403.2" cy="326.4" rx="5.9" ry="2.4" transform="rotate(103 403.2 326.4)" fill="url(#g1)"/>
<ellipse cx="400.6" cy="331.1" rx="5.7" ry="2.4" transform="rotate(115 400.6 331.1)" fill="url(#g0)"/>
<ellipse cx="402.3" cy="335.0" rx="5.2" ry="2.7" transform="rotate(102 402.3 335.0)" fill="url(#g0)"/>
<ellipse cx="413.0" cy="269.7" rx="6.4" ry="1.7" transform="rotate(60 413.0 269.7)" fill="#6a4a2c"/>
<ellipse cx="419.2" cy="267.3" rx="6.1" ry="2.4" transform="rotate(60 419.2 267.3)" fill="url(#g0)"/>
<ellipse cx="421.4" cy="273.0" rx="6.2" ry="1.9" transform="rotate(61 421.4 273.0)" fill="#6a4a2c"/>
<ellipse cx="422.8" cy="276.5" rx="5.9" ry="2.6" transform="rotate(83 422.8 276.5)" fill="url(#g2)"/>
<ellipse cx="425.5" cy="279.5" rx="5.4" ry="2.4" transform="rotate(79 425.5 279.5)" fill="url(#g2)"/>
<ellipse cx="420.7" cy="284.4" rx="5.9" ry="2.6" transform="rotate(78 420.7 284.4)" fill="url(#g2)"/>
<ellipse cx="424.1" cy="288.2" rx="5.3" ry="2.7" transform="rotate(77 424.1 288.2)" fill="url(#g3)"/>
<ellipse cx="424.5" cy="293.1" rx="6.0" ry="2.3" transform="rotate(70 424.5 293.1)" fill="url(#g5)"/>
<ellipse cx="418.6" cy="297.0" rx="5.9" ry="2.6" transform="rotate(112 418.6 297.0)" fill="url(#g1)"/>
<ellipse cx="428.4" cy="300.3" rx="5.5" ry="2.3" transform="rotate(92 428.4 300.3)" fill="url(#g2)"/>
<ellipse cx="422.9" cy="304.8" rx="6.0" ry="2.5" transform="rotate(92 422.9 304.8)" fill="url(#g1)"/>
<ellipse cx="425.3" cy="308.3" rx="6.4" ry="1.8" transform="rotate(91 425.3 308.3)" fill="#6a4a2c"/>
<ellipse cx="422.2" cy="312.8" rx="5.3" ry="2.7" transform="rotate(88 422.2 312.8)" fill="url(#g1)"/>
<ellipse cx="420.1" cy="314.5" rx="6.7" ry="1.7" transform="rotate(100 420.1 314.5)" fill="#6a4a2c"/>
<ellipse cx="427.4" cy="320.6" rx="5.9" ry="2.7" transform="rotate(97 427.4 320.6)" fill="url(#g0)"/>
<ellipse cx="421.6" cy="321.7" rx="6.2" ry="2.3" transform="rotate(120 421.6 321.7)" fill="url(#g2)"/>
<ellipse cx="425.5" cy="326.1" rx="5.8" ry="2.5" transform="rotate(101 425.5 326.1)" fill="url(#g5)"/>
<ellipse cx="423.2" cy="330.6" rx="5.8" ry="2.7" transform="rotate(101 423.2 330.6)" fill="url(#g1)"/>
<ellipse cx="419.1" cy="333.0" rx="5.9" ry="2.5" transform="rotate(99 419.1 333.0)" fill="url(#g0)"/>
<ellipse cx="479.6" cy="217.5" rx="6.8" ry="2.1" transform="rotate(72 479.6 217.5)" fill="#6a4a2c"/>
<ellipse cx="480.8" cy="221.2" rx="5.1" ry="2.5" transform="rotate(65 480.8 221.2)" fill="url(#g1)"/>
<ellipse cx="486.9" cy="224.1" rx="5.6" ry="2.6" transform="rotate(49 486.9 224.1)" fill="url(#g1)"/>
<ellipse cx="484.2" cy="228.2" rx="5.4" ry="2.7" transform="rotate(77 484.2 228.2)" fill="url(#g4)"/>
<ellipse cx="493.0" cy="231.6" rx="5.8" ry="2.7" transform="rotate(55 493.0 231.6)" fill="url(#g1)"/>
<ellipse cx="486.4" cy="238.2" rx="6.2" ry="2.6" transform="rotate(87 486.4 238.2)" fill="url(#g1)"/>
<ellipse cx="492.8" cy="241.1" rx="5.6" ry="2.5" transform="rotate(111 492.8 241.1)" fill="url(#g1)"/>
<ellipse cx="491.8" cy="242.8" rx="6.3" ry="1.8" transform="rotate(123 491.8 242.8)" fill="#6a4a2c"/>
<ellipse cx="488.1" cy="247.1" rx="5.3" ry="2.4" transform="rotate(117 488.1 247.1)" fill="url(#g3)"/>
<ellipse cx="488.2" cy="251.5" rx="5.4" ry="2.3" transform="rotate(108 488.2 251.5)" fill="url(#g3)"/>
<ellipse cx="481.8" cy="252.9" rx="6.1" ry="2.4" transform="rotate(76 481.8 252.9)" fill="url(#g1)"/>
<ellipse cx="483.0" cy="259.8" rx="6.4" ry="2.1" transform="rotate(69 483.0 259.8)" fill="#6a4a2c"/>
<ellipse cx="492.6" cy="257.6" rx="5.9" ry="2.4" transform="rotate(42 492.6 257.6)" fill="url(#g4)"/>
<ellipse cx="485.5" cy="265.2" rx="5.2" ry="2.4" transform="rotate(86 485.5 265.2)" fill="url(#g3)"/>
<ellipse cx="492.7" cy="268.9" rx="5.7" ry="2.4" transform="rotate(64 492.7 268.9)" fill="url(#g0)"/>
<ellipse cx="494.7" cy="270.1" rx="5.6" ry="2.5" transform="rotate(80 494.7 270.1)" fill="url(#g0)"/>
<ellipse cx="492.1" cy="274.5" rx="5.1" ry="2.4" transform="rotate(69 492.1 274.5)" fill="url(#g5)"/>
<ellipse cx="493.8" cy="277.5" rx="5.6" ry="2.4" transform="rotate(61 493.8 277.5)" fill="url(#g0)"/>
<ellipse cx="495.1" cy="283.9" rx="7.2" ry="1.8" transform="rotate(78 495.1 283.9)" fill="#6a4a2c"/>
<ellipse cx="489.5" cy="286.7" rx="5.4" ry="2.4" transform="rotate(98 489.5 286.7)" fill="url(#g5)"/>
<ellipse cx="494.3" cy="289.4" rx="5.5" ry="2.5" transform="rotate(81 494.3 289.4)" fill="url(#g4)"/>
<ellipse cx="488.8" cy="294.3" rx="6.1" ry="2.4" transform="rotate(75 488.8 294.3)" fill="url(#g5)"/>
<ellipse cx="495.2" cy="298.5" rx="5.7" ry="2.4" transform="rotate(68 495.2 298.5)" fill="url(#g0)"/>
<ellipse cx="490.6" cy="301.5" rx="6.2" ry="1.8" transform="rotate(94 490.6 301.5)" fill="#6a4a2c"/>
<ellipse cx="495.8" cy="307.3" rx="5.8" ry="2.5" transform="rotate(74 495.8 307.3)" fill="url(#g4)"/>
<ellipse cx="491.7" cy="310.5" rx="5.6" ry="2.3" transform="rotate(103 491.7 310.5)" fill="url(#g1)"/>
<ellipse cx="498.0" cy="315.1" rx="6.6" ry="2.1" transform="rotate(87 498.0 315.1)" fill="#6a4a2c"/>
<ellipse cx="497.5" cy="318.9" rx="6.2" ry="2.7" transform="rotate(69 497.5 318.9)" fill="url(#g6)"/>
<ellipse cx="491.4" cy="321.6" rx="5.9" ry="2.3" transform="rotate(93 491.4 321.6)" fill="url(#g4)"/>
<ellipse cx="489.0" cy="327.1" rx="5.2" ry="2.4" transform="rotate(89 489.0 327.1)" fill="url(#g3)"/>
<ellipse cx="499.1" cy="331.4" rx="6.1" ry="2.5" transform="rotate(94 499.1 331.4)" fill="url(#g1)"/>
<ellipse cx="489.8" cy="333.3" rx="6.5" ry="2.0" transform="rotate(95 489.8 333.3)" fill="#6a4a2c"/>
<ellipse cx="496.2" cy="210.0" rx="6.3" ry="2.0" transform="rotate(74 496.2 210.0)" fill="#6a4a2c"/>
<ellipse cx="500.8" cy="212.5" rx="5.4" ry="2.3" transform="rotate(54 500.8 212.5)" fill="url(#g0)"/>
<ellipse cx="504.8" cy="214.4" rx="6.6" ry="1.7" transform="rotate(56 504.8 214.4)" fill="#6a4a2c"/>
<ellipse cx="506.4" cy="220.2" rx="6.0" ry="2.5" transform="rotate(80 506.4 220.2)" fill="url(#g0)"/>
<ellipse cx="504.5" cy="224.5" rx="5.1" ry="2.6" transform="rotate(63 504.5 224.5)" fill="url(#g0)"/>
<ellipse cx="501.3" cy="229.1" rx="6.4" ry="1.7" transform="rotate(84 501.3 229.1)" fill="#6a4a2c"/>
<ellipse cx="509.1" cy="231.1" rx="5.9" ry="2.6" transform="rotate(72 509.1 231.1)" fill="url(#g3)"/>
<ellipse cx="500.0" cy="236.2" rx="6.0" ry="2.6" transform="rotate(73 500.0 236.2)" fill="url(#g6)"/>
<ellipse cx="502.5" cy="238.3" rx="5.7" ry="2.4" transform="rotate(92 502.5 238.3)" fill="url(#g1)"/>
<ellipse cx="502.1" cy="243.4" rx="5.9" ry="2.5" transform="rotate(104 502.1 243.4)" fill="url(#g0)"/>
<ellipse cx="506.2" cy="246.0" rx="6.2" ry="1.9" transform="rotate(93 506.2 246.0)" fill="#6a4a2c"/>
<ellipse cx="503.1" cy="249.8" rx="6.9" ry="2.1" transform="rotate(94 503.1 249.8)" fill="#6a4a2c"/>
<ellipse cx="511.8" cy="252.3" rx="6.9" ry="2.1" transform="rotate(80 511.8 252.3)" fill="#6a4a2c"/>
<ellipse cx="507.4" cy="255.1" rx="6.2" ry="2.4" transform="rotate(127 507.4 255.1)" fill="url(#g4)"/>
<ellipse cx="503.4" cy="259.7" rx="5.6" ry="2.5" transform="rotate(127 503.4 259.7)" fill="url(#g6)"/>
<ellipse cx="503.7" cy="262.0" rx="5.8" ry="2.4" transform="rotate(111 503.7 262.0)" fill="url(#g0)"/>
<ellipse cx="499.3" cy="267.4" rx="7.2" ry="1.7" transform="rotate(106 499.3 267.4)" fill="#6a4a2c"/>
<ellipse cx="501.5" cy="271.8" rx="5.0" ry="2.7" transform="rotate(116 501.5 271.8)" fill="url(#g4)"/>
<ellipse cx="498.7" cy="275.9" rx="5.2" ry="2.7" transform="rotate(100 498.7 275.9)" fill="url(#g0)"/>
<ellipse cx="499.4" cy="279.4" rx="5.1" ry="2.7" transform="rotate(95 499.4 279.4)" fill="url(#g3)"/>
<ellipse cx="498.9" cy="280.8" rx="5.5" ry="2.5" transform="rotate(106 498.9 280.8)" fill="url(#g3)"/>
<ellipse cx="500.2" cy="285.2" rx="5.7" ry="2.4" transform="rotate(86 500.2 285.2)" fill="url(#g6)"/>
<ellipse cx="499.3" cy="288.6" rx="6.7" ry="1.7" transform="rotate(86 499.3 288.6)" fill="#6a4a2c"/>
<ellipse cx="510.3" cy="291.4" rx="5.1" ry="2.5" transform="rotate(65 510.3 291.4)" fill="url(#g4)"/>
<ellipse cx="503.1" cy="297.7" rx="5.9" ry="2.6" transform="rotate(98 503.1 297.7)" fill="url(#g6)"/>
<ellipse cx="499.9" cy="299.3" rx="5.7" ry="2.4" transform="rotate(109 499.9 299.3)" fill="url(#g4)"/>
<ellipse cx="510.0" cy="303.6" rx="5.6" ry="2.4" transform="rotate(85 510.0 303.6)" fill="url(#g0)"/>
<ellipse cx="508.0" cy="307.0" rx="5.2" ry="2.3" transform="rotate(81 508.0 307.0)" fill="url(#g5)"/>
<ellipse cx="503.8" cy="311.7" rx="5.6" ry="2.6" transform="rotate(106 503.8 311.7)" fill="url(#g4)"/>
<ellipse cx="500.9" cy="314.8" rx="5.2" ry="2.4" transform="rotate(105 500.9 314.8)" fill="url(#g5)"/>
<ellipse cx="500.9" cy="318.5" rx="6.0" ry="2.4" transform="rotate(92 500.9 318.5)" fill="url(#g3)"/>
<ellipse cx="501.8" cy="322.2" rx="6.8" ry="1.7" transform="rotate(106 501.8 322.2)" fill="#6a4a2c"/>
<ellipse cx="511.0" cy="327.7" rx="6.2" ry="2.0" transform="rotate(91 511.0 327.7)" fill="#6a4a2c"/>
<ellipse cx="503.7" cy="331.1" rx="6.1" ry="2.0" transform="rotate(107 503.7 331.1)" fill="#6a4a2c"/>
<ellipse cx="499.5" cy="333.3" rx="5.2" ry="2.3" transform="rotate(107 499.5 333.3)" fill="url(#g6)"/>
<ellipse cx="516.4" cy="211.4" rx="5.2" ry="2.7" transform="rotate(85 516.4 211.4)" fill="url(#g3)"/>
<ellipse cx="517.7" cy="214.8" rx="5.1" ry="2.4" transform="rotate(77 517.7 214.8)" fill="url(#g0)"/>
<ellipse cx="518.9" cy="218.5" rx="6.2" ry="2.4" transform="rotate(87 518.9 218.5)" fill="url(#g3)"/>
<ellipse cx="510.7" cy="223.0" rx="6.2" ry="2.3" transform="rotate(99 510.7 223.0)" fill="url(#g5)"/>
<ellipse cx="510.1" cy="227.2" rx="5.3" ry="2.6" transform="rotate(86 510.1 227.2)" fill="url(#g6)"/>
<ellipse cx="517.2" cy="230.5" rx="6.1" ry="2.3" transform="rotate(77 517.2 230.5)" fill="url(#g0)"/>
<ellipse cx="511.0" cy="234.9" rx="6.2" ry="2.5" transform="rotate(105 511.0 234.9)" fill="url(#g3)"/>
<ellipse cx="518.6" cy="238.6" rx="7.2" ry="1.8" transform="rotate(73 518.6 238.6)" fill="#6a4a2c"/>
<ellipse cx="509.7" cy="240.6" rx="5.3" ry="2.7" transform="rotate(117 509.7 240.6)" fill="url(#g1)"/>
<ellipse cx="515.6" cy="245.1" rx="5.1" ry="2.7" transform="rotate(63 515.6 245.1)" fill="url(#g3)"/>
<ellipse cx="509.9" cy="250.8" rx="5.1" ry="2.3" transform="rotate(106 509.9 250.8)" fill="url(#g3)"/>
<ellipse cx="511.4" cy="253.2" rx="6.6" ry="1.7" transform="rotate(79 511.4 253.2)" fill="#6a4a2c"/>
<ellipse cx="511.1" cy="258.3" rx="5.7" ry="2.7" transform="rotate(98 511.1 258.3)" fill="url(#g5)"/>
<ellipse cx="511.8" cy="260.6" rx="6.1" ry="2.6" transform="rotate(108 511.8 260.6)" fill="url(#g4)"/>
<ellipse cx="518.9" cy="264.0" rx="5.4" ry="2.6" transform="rotate(62 518.9 264.0)" fill="url(#g4)"/>
<ellipse cx="521.0" cy="268.6" rx="5.9" ry="2.3" transform="rotate(58 521.0 268.6)" fill="url(#g0)"/>
<ellipse cx="522.8" cy="270.3" rx="5.8" ry="2.7" transform="rotate(55 522.8 270.3)" fill="url(#g5)"/>
<ellipse cx="522.9" cy="274.7" rx="5.1" ry="2.3" transform="rotate(59 522.9 274.7)" fill="url(#g1)"/>
<ellipse cx="522.4" cy="277.3" rx="5.4" ry="2.5" transform="rotate(74 522.4 277.3)" fill="url(#g4)"/>
<ellipse cx="517.8" cy="283.1" rx="5.0" ry="2.5" transform="rotate(93 517.8 283.1)" fill="url(#g0)"/>
<ellipse cx="524.4" cy="286.6" rx="5.4" ry="2.4" transform="rotate(70 524.4 286.6)" fill="url(#g4)"/>
<ellipse cx="518.7" cy="290.1" rx="5.5" ry="2.7" transform="rotate(105 518.7 290.1)" fill="url(#g0)"/>
<ellipse cx="518.1" cy="294.8" rx="6.1" ry="2.7" transform="rotate(98 518.1 294.8)" fill="url(#g0)"/>
<ellipse cx="518.2" cy="296.9" rx="5.2" ry="2.6" transform="rotate(87 518.2 296.9)" fill="url(#g4)"/>
<ellipse cx="525.4" cy="214.0" rx="5.0" ry="2.7" transform="rotate(64 525.4 214.0)" fill="url(#g4)"/>
<ellipse cx="533.2" cy="215.6" rx="5.7" ry="2.3" transform="rotate(53 533.2 215.6)" fill="url(#g3)"/>
<ellipse cx="533.9" cy="220.8" rx="6.0" ry="2.3" transform="rotate(104 533.9 220.8)" fill="url(#g1)"/>
<ellipse cx="535.6" cy="223.8" rx="5.3" ry="2.6" transform="rotate(85 535.6 223.8)" fill="url(#g6)"/>
<ellipse cx="526.0" cy="225.8" rx="6.0" ry="2.5" transform="rotate(120 526.0 225.8)" fill="url(#g4)"/>
<ellipse cx="532.4" cy="234.2" rx="6.1" ry="2.5" transform="rotate(68 532.4 234.2)" fill="url(#g0)"/>
<ellipse cx="531.9" cy="237.2" rx="5.4" ry="2.3" transform="rotate(63 531.9 237.2)" fill="url(#g5)"/>
<ellipse cx="532.0" cy="244.6" rx="5.9" ry="2.6" transform="rotate(77 532.0 244.6)" fill="url(#g1)"/>
<ellipse cx="532.0" cy="247.1" rx="5.4" ry="2.7" transform="rotate(73 532.0 247.1)" fill="url(#g1)"/>
<ellipse cx="532.8" cy="250.8" rx="5.7" ry="2.7" transform="rotate(97 532.8 250.8)" fill="url(#g3)"/>
<ellipse cx="533.1" cy="258.6" rx="6.0" ry="1.9" transform="rotate(83 533.1 258.6)" fill="#6a4a2c"/>
<ellipse cx="524.7" cy="262.6" rx="5.8" ry="2.5" transform="rotate(88 524.7 262.6)" fill="url(#g4)"/>
<ellipse cx="528.7" cy="267.0" rx="5.0" ry="2.4" transform="rotate(89 528.7 267.0)" fill="url(#g3)"/>
<ellipse cx="524.9" cy="271.0" rx="5.5" ry="2.5" transform="rotate(103 524.9 271.0)" fill="url(#g4)"/>
<ellipse cx="527.7" cy="274.1" rx="5.4" ry="2.6" transform="rotate(82 527.7 274.1)" fill="url(#g4)"/>
<ellipse cx="521.5" cy="281.0" rx="6.8" ry="1.8" transform="rotate(88 521.5 281.0)" fill="#6a4a2c"/>
<ellipse cx="520.9" cy="283.3" rx="6.3" ry="1.9" transform="rotate(119 520.9 283.3)" fill="#6a4a2c"/>
<ellipse cx="522.0" cy="290.1" rx="5.3" ry="2.7" transform="rotate(98 522.0 290.1)" fill="url(#g4)"/>
<ellipse cx="521.8" cy="293.5" rx="6.0" ry="2.4" transform="rotate(104 521.8 293.5)" fill="url(#g0)"/>
<ellipse cx="520.1" cy="297.5" rx="5.6" ry="2.3" transform="rotate(104 520.1 297.5)" fill="url(#g3)"/>
<ellipse cx="521.6" cy="304.2" rx="6.3" ry="2.0" transform="rotate(107 521.6 304.2)" fill="#6a4a2c"/>
<ellipse cx="520.0" cy="307.3" rx="5.6" ry="2.3" transform="rotate(112 520.0 307.3)" fill="url(#g1)"/>
<ellipse cx="593.1" cy="207.5" rx="5.4" ry="2.6" transform="rotate(92 593.1 207.5)" fill="url(#g5)"/>
<ellipse cx="595.4" cy="212.8" rx="6.1" ry="2.3" transform="rotate(92 595.4 212.8)" fill="url(#g5)"/>
<ellipse cx="601.3" cy="217.4" rx="5.6" ry="2.5" transform="rotate(86 601.3 217.4)" fill="url(#g5)"/>
<ellipse cx="590.5" cy="218.7" rx="6.2" ry="2.7" transform="rotate(96 590.5 218.7)" fill="url(#g1)"/>
<ellipse cx="600.6" cy="222.4" rx="5.7" ry="2.7" transform="rotate(96 600.6 222.4)" fill="url(#g4)"/>
<ellipse cx="593.4" cy="227.5" rx="6.6" ry="1.7" transform="rotate(102 593.4 227.5)" fill="#6a4a2c"/>
<ellipse cx="591.0" cy="229.6" rx="5.5" ry="2.5" transform="rotate(122 591.0 229.6)" fill="url(#g2)"/>
<ellipse cx="590.7" cy="234.6" rx="5.8" ry="2.6" transform="rotate(101 590.7 234.6)" fill="url(#g1)"/>
<ellipse cx="592.2" cy="237.6" rx="5.7" ry="2.5" transform="rotate(95 592.2 237.6)" fill="url(#g1)"/>
<ellipse cx="587.1" cy="241.4" rx="5.8" ry="2.5" transform="rotate(107 587.1 241.4)" fill="url(#g5)"/>
<ellipse cx="597.2" cy="246.5" rx="6.0" ry="2.4" transform="rotate(100 597.2 246.5)" fill="url(#g2)"/>
<ellipse cx="591.0" cy="249.8" rx="5.4" ry="2.6" transform="rotate(96 591.0 249.8)" fill="url(#g0)"/>
<ellipse cx="587.6" cy="252.3" rx="5.6" ry="2.4" transform="rotate(100 587.6 252.3)" fill="url(#g1)"/>
<ellipse cx="594.7" cy="256.4" rx="5.4" ry="2.4" transform="rotate(84 594.7 256.4)" fill="url(#g2)"/>
<ellipse cx="596.8" cy="260.8" rx="5.8" ry="2.5" transform="rotate(89 596.8 260.8)" fill="url(#g4)"/>
<ellipse cx="595.6" cy="265.0" rx="5.2" ry="2.5" transform="rotate(84 595.6 265.0)" fill="url(#g2)"/>
<ellipse cx="595.0" cy="267.0" rx="5.2" ry="2.4" transform="rotate(88 595.0 267.0)" fill="url(#g1)"/>
<ellipse cx="596.5" cy="271.6" rx="5.6" ry="2.3" transform="rotate(68 596.5 271.6)" fill="url(#g1)"/>
<ellipse cx="595.2" cy="276.4" rx="6.8" ry="2.1" transform="rotate(89 595.2 276.4)" fill="#6a4a2c"/>
<ellipse cx="589.3" cy="279.6" rx="5.9" ry="2.4" transform="rotate(88 589.3 279.6)" fill="url(#g5)"/>
<ellipse cx="587.0" cy="283.8" rx="5.7" ry="2.5" transform="rotate(93 587.0 283.8)" fill="url(#g1)"/>
<ellipse cx="589.5" cy="287.2" rx="5.5" ry="2.4" transform="rotate(109 589.5 287.2)" fill="url(#g1)"/>
<ellipse cx="589.9" cy="289.9" rx="6.0" ry="2.3" transform="rotate(92 589.9 289.9)" fill="url(#g0)"/>
<ellipse cx="587.0" cy="292.1" rx="5.4" ry="2.7" transform="rotate(89 587.0 292.1)" fill="url(#g1)"/>
<ellipse cx="597.1" cy="297.1" rx="5.6" ry="2.6" transform="rotate(81 597.1 297.1)" fill="url(#g2)"/>
<ellipse cx="590.8" cy="300.5" rx="5.1" ry="2.7" transform="rotate(107 590.8 300.5)" fill="url(#g2)"/>
<ellipse cx="586.3" cy="305.4" rx="5.7" ry="2.7" transform="rotate(91 586.3 305.4)" fill="url(#g2)"/>
<ellipse cx="594.1" cy="308.1" rx="6.1" ry="2.6" transform="rotate(86 594.1 308.1)" fill="url(#g2)"/>
<ellipse cx="588.7" cy="312.0" rx="5.9" ry="2.7" transform="rotate(95 588.7 312.0)" fill="url(#g1)"/>
<ellipse cx="589.4" cy="316.1" rx="6.0" ry="2.5" transform="rotate(100 589.4 316.1)" fill="url(#g0)"/>
<ellipse cx="595.1" cy="318.9" rx="5.4" ry="2.5" transform="rotate(78 595.1 318.9)" fill="url(#g0)"/>
<ellipse cx="590.6" cy="324.0" rx="5.9" ry="2.6" transform="rotate(97 590.6 324.0)" fill="url(#g0)"/>
<ellipse cx="596.3" cy="325.9" rx="5.9" ry="2.4" transform="rotate(76 596.3 325.9)" fill="url(#g1)"/>
<ellipse cx="596.5" cy="328.9" rx="5.7" ry="2.7" transform="rotate(78 596.5 328.9)" fill="url(#g0)"/>
<ellipse cx="587.4" cy="334.6" rx="5.0" ry="2.6" transform="rotate(109 587.4 334.6)" fill="url(#g2)"/>
<ellipse cx="601.7" cy="210.4" rx="5.0" ry="2.3" transform="rotate(96 601.7 210.4)" fill="url(#g4)"/>
<ellipse cx="603.3" cy="214.9" rx="5.4" ry="2.6" transform="rotate(102 603.3 214.9)" fill="url(#g1)"/>
<ellipse cx="606.3" cy="219.3" rx="6.1" ry="2.1" transform="rotate(72 606.3 219.3)" fill="#6a4a2c"/>
<ellipse cx="601.3" cy="225.4" rx="5.6" ry="2.4" transform="rotate(106 601.3 225.4)" fill="url(#g4)"/>
<ellipse cx="601.9" cy="228.8" rx="5.3" ry="2.4" transform="rotate(101 601.9 228.8)" fill="url(#g1)"/>
<ellipse cx="599.3" cy="233.3" rx="6.2" ry="2.4" transform="rotate(121 599.3 233.3)" fill="url(#g2)"/>
<ellipse cx="601.9" cy="239.0" rx="6.1" ry="2.4" transform="rotate(98 601.9 239.0)" fill="url(#g2)"/>
<ellipse cx="606.8" cy="244.5" rx="6.1" ry="2.7" transform="rotate(105 606.8 244.5)" fill="url(#g5)"/>
<ellipse cx="604.4" cy="248.0" rx="7.0" ry="1.8" transform="rotate(96 604.4 248.0)" fill="#6a4a2c"/>
<ellipse cx="604.6" cy="255.1" rx="6.1" ry="2.5" transform="rotate(92 604.6 255.1)" fill="url(#g0)"/>
<ellipse cx="601.2" cy="259.7" rx="6.5" ry="2.0" transform="rotate(99 601.2 259.7)" fill="#6a4a2c"/>
<ellipse cx="601.7" cy="264.0" rx="5.6" ry="2.3" transform="rotate(78 601.7 264.0)" fill="url(#g5)"/>
<ellipse cx="604.7" cy="267.8" rx="6.6" ry="2.1" transform="rotate(88 604.7 267.8)" fill="#6a4a2c"/>
<ellipse cx="598.1" cy="273.5" rx="5.9" ry="2.3" transform="rotate(99 598.1 273.5)" fill="url(#g5)"/>
<ellipse cx="625.4" cy="207.8" rx="5.5" ry="2.6" transform="rotate(132 625.4 207.8)" fill="url(#g2)"/>
<ellipse cx="632.9" cy="214.6" rx="5.2" ry="2.5" transform="rotate(104 632.9 214.6)" fill="url(#g5)"/>
<ellipse cx="629.5" cy="219.0" rx="5.4" ry="2.7" transform="rotate(98 629.5 219.0)" fill="url(#g0)"/>
<ellipse cx="622.2" cy="219.0" rx="5.9" ry="2.5" transform="rotate(136 622.2 219.0)" fill="url(#g0)"/>
<ellipse cx="627.4" cy="225.7" rx="5.9" ry="2.4" transform="rotate(105 627.4 225.7)" fill="url(#g2)"/>
<ellipse cx="620.5" cy="225.8" rx="5.8" ry="2.7" transform="rotate(104 620.5 225.8)" fill="url(#g5)"/>
<ellipse cx="617.8" cy="229.8" rx="6.0" ry="2.6" transform="rotate(116 617.8 229.8)" fill="url(#g1)"/>
<ellipse cx="614.6" cy="232.7" rx="6.0" ry="2.6" transform="rotate(139 614.6 232.7)" fill="url(#g2)"/>
<ellipse cx="621.7" cy="241.6" rx="6.1" ry="1.7" transform="rotate(119 621.7 241.6)" fill="#6a4a2c"/>
<ellipse cx="615.2" cy="240.2" rx="5.9" ry="2.6" transform="rotate(117 615.2 240.2)" fill="url(#g0)"/>
<ellipse cx="610.3" cy="242.1" rx="5.5" ry="2.5" transform="rotate(138 610.3 242.1)" fill="url(#g0)"/>
<ellipse cx="617.3" cy="250.2" rx="5.2" ry="2.6" transform="rotate(115 617.3 250.2)" fill="url(#g0)"/>
<ellipse cx="608.2" cy="250.1" rx="5.9" ry="2.6" transform="rotate(125 608.2 250.1)" fill="url(#g4)"/>
<ellipse cx="613.6" cy="256.6" rx="5.7" ry="2.4" transform="rotate(111 613.6 256.6)" fill="url(#g0)"/>
<ellipse cx="613.7" cy="262.2" rx="6.2" ry="2.6" transform="rotate(116 613.7 262.2)" fill="url(#g4)"/>
<ellipse cx="603.3" cy="260.6" rx="5.5" ry="2.4" transform="rotate(125 603.3 260.6)" fill="url(#g2)"/>
<ellipse cx="612.2" cy="263.8" rx="5.2" ry="2.3" transform="rotate(62 612.2 263.8)" fill="url(#g0)"/>
<ellipse cx="610.5" cy="268.5" rx="5.3" ry="2.5" transform="rotate(61 610.5 268.5)" fill="url(#g5)"/>
<ellipse cx="614.3" cy="272.1" rx="5.2" ry="2.7" transform="rotate(65 614.3 272.1)" fill="url(#g5)"/>
<ellipse cx="607.5" cy="278.2" rx="5.5" ry="2.5" transform="rotate(70 607.5 278.2)" fill="url(#g2)"/>
<ellipse cx="613.5" cy="279.2" rx="6.6" ry="1.7" transform="rotate(71 613.5 279.2)" fill="#6a4a2c"/>
<ellipse cx="614.9" cy="286.0" rx="5.0" ry="2.3" transform="rotate(77 614.9 286.0)" fill="url(#g0)"/>
<ellipse cx="608.3" cy="288.4" rx="5.1" ry="2.3" transform="rotate(102 608.3 288.4)" fill="url(#g4)"/>
<ellipse cx="614.4" cy="291.9" rx="5.1" ry="2.5" transform="rotate(77 614.4 291.9)" fill="url(#g4)"/>
<ellipse cx="610.9" cy="296.6" rx="6.1" ry="2.5" transform="rotate(87 610.9 296.6)" fill="url(#g1)"/>
<ellipse cx="616.9" cy="299.2" rx="6.0" ry="2.5" transform="rotate(67 616.9 299.2)" fill="url(#g1)"/>
<ellipse cx="617.3" cy="303.3" rx="6.0" ry="2.6" transform="rotate(73 617.3 303.3)" fill="url(#g0)"/>
<ellipse cx="609.9" cy="307.9" rx="5.3" ry="2.4" transform="rotate(95 609.9 307.9)" fill="url(#g2)"/>
<ellipse cx="616.5" cy="310.3" rx="5.4" ry="2.7" transform="rotate(82 616.5 310.3)" fill="url(#g0)"/>
<ellipse cx="616.8" cy="315.9" rx="5.8" ry="2.7" transform="rotate(74 616.8 315.9)" fill="url(#g0)"/>
<ellipse cx="617.2" cy="318.3" rx="5.6" ry="2.3" transform="rotate(72 617.2 318.3)" fill="url(#g0)"/>
<ellipse cx="617.9" cy="322.9" rx="5.0" ry="2.3" transform="rotate(73 617.9 322.9)" fill="url(#g2)"/>
<ellipse cx="608.4" cy="324.9" rx="5.9" ry="2.7" transform="rotate(97 608.4 324.9)" fill="url(#g1)"/>
<ellipse cx="616.7" cy="329.4" rx="5.4" ry="2.7" transform="rotate(70 616.7 329.4)" fill="url(#g1)"/>
<ellipse cx="614.2" cy="333.3" rx="6.9" ry="1.7" transform="rotate(88 614.2 333.3)" fill="#6a4a2c"/>
<ellipse cx="638.1" cy="269.7" rx="6.8" ry="2.0" transform="rotate(97 638.1 269.7)" fill="#6a4a2c"/>
<ellipse cx="636.8" cy="273.1" rx="5.3" ry="2.7" transform="rotate(105 636.8 273.1)" fill="url(#g1)"/>
<ellipse cx="630.7" cy="272.9" rx="5.4" ry="2.6" transform="rotate(132 630.7 272.9)" fill="url(#g4)"/>
<ellipse cx="629.0" cy="276.4" rx="6.2" ry="2.5" transform="rotate(131 629.0 276.4)" fill="url(#g0)"/>
<ellipse cx="627.2" cy="281.3" rx="5.9" ry="2.4" transform="rotate(125 627.2 281.3)" fill="url(#g5)"/>
<ellipse cx="623.9" cy="283.8" rx="6.1" ry="1.7" transform="rotate(133 623.9 283.8)" fill="#6a4a2c"/>
<ellipse cx="625.1" cy="291.5" rx="6.0" ry="2.5" transform="rotate(110 625.1 291.5)" fill="url(#g5)"/>
<ellipse cx="617.5" cy="291.6" rx="6.2" ry="2.7" transform="rotate(113 617.5 291.6)" fill="url(#g5)"/>
<ellipse cx="621.5" cy="298.1" rx="6.7" ry="2.0" transform="rotate(111 621.5 298.1)" fill="#6a4a2c"/>
<ellipse cx="615.4" cy="299.5" rx="6.3" ry="1.8" transform="rotate(111 615.4 299.5)" fill="#6a4a2c"/>
<ellipse cx="642.0" cy="282.6" rx="5.5" ry="2.6" transform="rotate(131 642.0 282.6)" fill="url(#g5)"/>
<ellipse cx="641.5" cy="284.2" rx="5.0" ry="2.6" transform="rotate(119 641.5 284.2)" fill="url(#g2)"/>
<ellipse cx="641.5" cy="290.1" rx="5.4" ry="2.7" transform="rotate(117 641.5 290.1)" fill="url(#g4)"/>
<ellipse cx="641.2" cy="293.3" rx="5.2" ry="2.6" transform="rotate(99 641.2 293.3)" fill="url(#g1)"/>
<ellipse cx="636.1" cy="296.9" rx="5.8" ry="2.3" transform="rotate(101 636.1 296.9)" fill="url(#g1)"/>
<ellipse cx="638.8" cy="302.2" rx="5.3" ry="2.3" transform="rotate(102 638.8 302.2)" fill="url(#g1)"/>
<ellipse cx="632.5" cy="305.6" rx="5.9" ry="2.3" transform="rotate(129 632.5 305.6)" fill="url(#g5)"/>
<ellipse cx="636.4" cy="310.8" rx="5.6" ry="2.5" transform="rotate(115 636.4 310.8)" fill="url(#g4)"/>
<ellipse cx="631.1" cy="313.5" rx="5.7" ry="2.7" transform="rotate(143 631.1 313.5)" fill="url(#g5)"/>
<ellipse cx="627.4" cy="314.4" rx="5.5" ry="2.3" transform="rotate(133 627.4 314.4)" fill="url(#g2)"/>
<ellipse cx="625.3" cy="319.7" rx="5.7" ry="2.3" transform="rotate(123 625.3 319.7)" fill="url(#g5)"/>
<ellipse cx="626.1" cy="324.9" rx="5.8" ry="2.7" transform="rotate(112 626.1 324.9)" fill="url(#g1)"/>
<ellipse cx="624.1" cy="330.7" rx="7.1" ry="1.7" transform="rotate(93 624.1 330.7)" fill="#6a4a2c"/>
<ellipse cx="627.8" cy="332.6" rx="5.6" ry="2.6" transform="rotate(87 627.8 332.6)" fill="url(#g2)"/>
<ellipse cx="565.6" cy="333.2" rx="5.2" ry="2.6" transform="rotate(86 565.6 333.2)" fill="url(#g1)"/>
<ellipse cx="565.0" cy="335.7" rx="5.2" ry="2.4" transform="rotate(85 565.0 335.7)" fill="url(#g4)"/>
<path d="M23.3,208.0 C24.1,201.0 19.1,216.2 18.3,210.8" fill="none" stroke="#ece6da" stroke-width="0.95" opacity="0.9"/>
<path d="M20.3,213.1 C21.6,215.3 20.9,208.8 22.4,208.2" fill="none" stroke="#ece6da" stroke-width="0.95" opacity="0.9"/>
<path d="M25.3,218.2 C19.7,218.0 11.7,224.8 17.2,222.8" fill="none" stroke="#f4f0e8" stroke-width="0.95" opacity="0.9"/>
<path d="M20.7,222.2 C22.0,225.1 19.3,218.7 20.0,216.1" fill="none" stroke="#f4f0e8" stroke-width="0.95" opacity="0.9"/>
<path d="M22.6,224.0 C21.8,224.8 30.3,224.5 25.7,220.7" fill="none" stroke="#f4f0e8" stroke-width="0.95" opacity="0.9"/>
<path d="M22.7,229.0 C14.8,227.7 16.2,226.7 17.8,225.9" fill="none" stroke="#d8d2c6" stroke-width="0.95" opacity="0.9"/>
<path d="M31.2,229.3 C24.2,224.6 24.2,224.1 28.2,226.0" fill="none" stroke="#ece6da" stroke-width="0.95" opacity="0.9"/>
<path d="M32.1,230.7 C26.0,236.3 34.2,235.7 28.3,236.1" fill="none" stroke="#c4beb2" stroke-width="0.95" opacity="0.9"/>
<path d="M35.4,236.8 C39.8,234.1 33.1,232.9 36.4,229.2" fill="none" stroke="#d8d2c6" stroke-width="0.95" opacity="0.9"/>
<path d="M28.0,244.2 C25.5,249.1 33.6,250.1 30.9,251.9" fill="none" stroke="#f4f0e8" stroke-width="0.95" opacity="0.9"/>
<path d="M41.0,252.3 C41.4,259.2 48.6,255.2 49.4,250.7" fill="none" stroke="#d8d2c6" stroke-width="0.95" opacity="0.9"/>
<path d="M34.9,261.8 C29.7,261.4 47.2,262.7 44.5,262.0" fill="none" stroke="#f4f0e8" stroke-width="0.95" opacity="0.9"/>
<path d="M36.1,264.1 C29.1,261.3 51.9,267.2 46.2,265.9" fill="none" stroke="#d8d2c6" stroke-width="0.95" opacity="0.9"/>
<path d="M39.8,267.4 C46.9,269.7 45.0,271.0 46.6,274.0" fill="none" stroke="#d8d2c6" stroke-width="0.95" opacity="0.9"/>
<path d="M47.2,271.3 C42.4,268.3 43.5,264.9 40.9,270.6" fill="none" stroke="#c4beb2" stroke-width="0.95" opacity="0.9"/>
<path d="M41.8,276.2 C42.9,279.4 43.0,279.3 48.0,284.7" fill="none" stroke="#d8d2c6" stroke-width="0.95" opacity="0.9"/>
<path d="M38.5,284.0 C33.7,281.0 38.4,290.8 40.7,287.7" fill="none" stroke="#f4f0e8" stroke-width="0.95" opacity="0.9"/>
<path d="M47.3,285.7 C41.0,290.8 36.1,287.3 36.9,287.4" fill="none" stroke="#c4beb2" stroke-width="0.95" opacity="0.9"/>
<path d="M44.7,300.1 C49.1,293.5 45.3,291.0 41.5,295.3" fill="none" stroke="#ece6da" stroke-width="0.95" opacity="0.9"/>
<path d="M53.7,313.0 C58.7,318.5 50.4,308.7 53.5,305.7" fill="none" stroke="#d8d2c6" stroke-width="0.95" opacity="0.9"/>
<path d="M47.8,318.2 C50.3,321.3 44.2,310.1 42.7,314.5" fill="none" stroke="#c4beb2" stroke-width="0.95" opacity="0.9"/>
<path d="M46.0,320.2 C41.2,327.9 58.8,321.4 53.6,327.2" fill="none" stroke="#c4beb2" stroke-width="0.95" opacity="0.9"/>
<path d="M46.8,323.3 C51.9,323.4 56.2,324.3 51.5,321.8" fill="none" stroke="#d8d2c6" stroke-width="0.95" opacity="0.9"/>
<path d="M50.8,326.5 C42.8,330.5 50.8,331.0 46.8,335.5" fill="none" stroke="#d8d2c6" stroke-width="0.95" opacity="0.9"/>
<path d="M51.6,336.9 C53.4,331.1 62.3,334.0 57.9,334.1" fill="none" stroke="#d8d2c6" stroke-width="0.95" opacity="0.9"/>
<path d="M50.2,240.3 C52.5,233.5 47.9,239.9 47.9,236.1" fill="none" stroke="#d8d2c6" stroke-width="0.95" opacity="0.9"/>
<path d="M50.1,245.2 C45.3,237.5 48.0,250.9 43.5,252.3" fill="none" stroke="#d8d2c6" stroke-width="0.95" opacity="0.9"/>
<path d="M53.9,249.1 C60.2,248.7 63.7,244.9 62.6,250.9" fill="none" stroke="#c4beb2" stroke-width="0.95" opacity="0.9"/>
<path d="M60.7,252.5 C62.9,255.7 60.1,251.5 64.7,256.6" fill="none" stroke="#d8d2c6" stroke-width="0.95" opacity="0.9"/>
<path d="M63.4,263.5 C57.1,265.4 63.7,278.4 62.4,273.6" fill="none" stroke="#c4beb2" stroke-width="0.95" opacity="0.9"/>
<path d="M70.0,270.7 C76.2,271.7 79.2,272.6 76.1,274.1" fill="none" stroke="#f4f0e8" stroke-width="0.95" opacity="0.9"/>
<path d="M70.8,275.6 C68.3,271.9 76.2,266.7 70.7,265.3" fill="none" stroke="#f4f0e8" stroke-width="0.95" opacity="0.9"/>
<path d="M69.6,281.2 C76.9,279.3 56.0,282.0 59.0,282.8" fill="none" stroke="#c4beb2" stroke-width="0.95" opacity="0.9"/>
<path d="M80.1,283.2 C87.9,279.4 85.2,277.1 90.2,281.9" fill="none" stroke="#c4beb2" stroke-width="0.95" opacity="0.9"/>
<path d="M75.3,289.8 C70.4,282.8 70.3,296.9 73.3,300.0" fill="none" stroke="#d8d2c6" stroke-width="0.95" opacity="0.9"/>
<path d="M83.1,292.2 C76.0,293.8 91.1,284.6 87.2,288.3" fill="none" stroke="#ece6da" stroke-width="0.95" opacity="0.9"/>
<path d="M82.8,294.7 C75.5,302.7 83.5,299.0 89.0,296.2" fill="none" stroke="#d8d2c6" stroke-width="0.95" opacity="0.9"/>
<path d="M77.5,300.3 C78.3,302.5 78.0,300.3 82.9,304.3" fill="none" stroke="#f4f0e8" stroke-width="0.95" opacity="0.9"/>
<path d="M87.8,316.3 C85.9,310.3 78.6,323.5 81.6,320.8" fill="none" stroke="#d8d2c6" stroke-width="0.95" opacity="0.9"/>
<path d="M88.1,317.9 C90.6,317.0 81.3,308.7 82.0,314.4" fill="none" stroke="#c4beb2" stroke-width="0.95" opacity="0.9"/>
<path d="M79.4,323.1 C79.5,325.6 67.5,325.9 73.1,330.3" fill="none" stroke="#f4f0e8" stroke-width="0.95" opacity="0.9"/>
<path d="M81.2,331.4 C77.4,331.5 83.8,323.2 86.0,328.7" fill="none" stroke="#d8d2c6" stroke-width="0.95" opacity="0.9"/>
<path d="M38.4,241.3 C37.3,241.5 48.0,243.6 43.3,248.0" fill="none" stroke="#d8d2c6" stroke-width="0.95" opacity="0.9"/>
<path d="M44.0,243.8 C49.2,238.3 42.5,252.3 48.4,248.7" fill="none" stroke="#d8d2c6" stroke-width="0.95" opacity="0.9"/>
<path d="M45.2,253.9 C49.7,246.1 46.2,263.6 45.5,258.3" fill="none" stroke="#d8d2c6" stroke-width="0.95" opacity="0.9"/>
<path d="M48.2,262.1 C41.6,262.2 53.5,262.5 57.5,257.7" fill="none" stroke="#d8d2c6" stroke-width="0.95" opacity="0.9"/>
<path d="M59.0,272.5 C62.1,274.7 65.6,276.2 63.3,273.3" fill="none" stroke="#ece6da" stroke-width="0.95" opacity="0.9"/>
<path d="M60.7,284.7 C58.6,281.8 64.4,293.6 58.9,293.5" fill="none" stroke="#f4f0e8" stroke-width="0.95" opacity="0.9"/>
<path d="M64.5,289.1 C69.6,283.9 61.5,282.0 67.5,285.6" fill="none" stroke="#ece6da" stroke-width="0.95" opacity="0.9"/>
<path d="M59.6,292.5 C66.6,288.2 60.8,305.9 64.8,300.6" fill="none" stroke="#ece6da" stroke-width="0.95" opacity="0.9"/>
<path d="M61.1,301.8 C62.8,294.3 54.8,297.1 53.8,296.9" fill="none" stroke="#c4beb2" stroke-width="0.95" opacity="0.9"/>
<path d="M67.9,312.9 C71.6,311.8 73.7,313.6 77.4,311.9" fill="none" stroke="#ece6da" stroke-width="0.95" opacity="0.9"/>
<path d="M63.5,317.7 C55.6,313.5 67.4,329.2 63.1,326.8" fill="none" stroke="#c4beb2" stroke-width="0.95" opacity="0.9"/>
<path d="M71.1,322.3 C65.6,327.9 63.6,321.8 63.9,327.6" fill="none" stroke="#c4beb2" stroke-width="0.95" opacity="0.9"/>
<path d="M72.6,325.1 C79.6,325.4 72.8,334.0 77.6,333.1" fill="none" stroke="#d8d2c6" stroke-width="0.95" opacity="0.9"/>
<path d="M72.5,330.0 C76.1,331.8 63.6,326.1 62.0,329.1" fill="none" stroke="#c4beb2" stroke-width="0.95" opacity="0.9"/>
<path d="M73.3,209.5 C78.6,207.2 72.8,205.3 68.6,208.1" fill="none" stroke="#c4beb2" stroke-width="0.95" opacity="0.9"/>
<path d="M70.1,216.0 C72.6,213.8 67.6,224.0 62.5,219.7" fill="none" stroke="#ece6da" stroke-width="0.95" opacity="0.9"/>
<path d="M70.3,217.1 C71.6,222.7 64.4,224.5 68.1,225.0" fill="none" stroke="#d8d2c6" stroke-width="0.95" opacity="0.9"/>
<path d="M71.8,220.0 C71.7,215.4 62.7,219.4 67.8,215.4" fill="none" stroke="#ece6da" stroke-width="0.95" opacity="0.9"/>
<path d="M74.5,222.8 C78.2,217.3 76.5,232.2 78.7,229.8" fill="none" stroke="#c4beb2" stroke-width="0.95" opacity="0.9"/>
<path d="M85.7,210.3 C93.7,215.2 89.6,212.7 94.5,212.9" fill="none" stroke="#d8d2c6" stroke-width="0.95" opacity="0.9"/>
<path d="M91.8,221.3 C94.3,225.9 104.0,218.7 99.1,217.4" fill="none" stroke="#d8d2c6" stroke-width="0.95" opacity="0.9"/>
<path d="M91.5,226.0 C83.7,232.0 95.6,229.9 100.0,232.2" fill="none" stroke="#f4f0e8" stroke-width="0.95" opacity="0.9"/>
<path d="M92.7,229.9 C91.4,233.0 95.8,216.3 96.9,221.5" fill="none" stroke="#c4beb2" stroke-width="0.95" opacity="0.9"/>
<path d="M93.1,232.4 C100.9,238.1 98.4,228.4 101.7,232.9" fill="none" stroke="#c4beb2" stroke-width="0.95" opacity="0.9"/>
<path d="M93.4,242.4 C96.2,236.7 90.7,237.6 87.1,239.2" fill="none" stroke="#d8d2c6" stroke-width="0.95" opacity="0.9"/>
<path d="M88.1,245.9 C93.4,243.2 98.2,250.2 96.9,244.4" fill="none" stroke="#d8d2c6" stroke-width="0.95" opacity="0.9"/>
<path d="M93.8,255.8 C98.4,259.3 93.0,254.1 87.2,256.4" fill="none" stroke="#ece6da" stroke-width="0.95" opacity="0.9"/>
<path d="M97.8,260.0 C101.1,257.8 100.5,263.8 99.7,265.0" fill="none" stroke="#d8d2c6" stroke-width="0.95" opacity="0.9"/>
<path d="M91.4,263.0 C92.8,258.4 102.0,254.6 96.9,257.2" fill="none" stroke="#ece6da" stroke-width="0.95" opacity="0.9"/>
<path d="M98.0,267.0 C103.6,273.4 100.3,261.6 96.0,259.9" fill="none" stroke="#ece6da" stroke-width="0.95" opacity="0.9"/>
<path d="M92.9,268.6 C87.7,275.7 99.0,272.4 93.7,277.6" fill="none" stroke="#ece6da" stroke-width="0.95" opacity="0.9"/>
<path d="M93.7,276.7 C88.0,279.5 90.6,284.2 96.5,281.6" fill="none" stroke="#d8d2c6" stroke-width="0.95" opacity="0.9"/>
<path d="M101.2,281.6 C100.4,287.9 100.0,272.2 100.7,276.4" fill="none" stroke="#c4beb2" stroke-width="0.95" opacity="0.9"/>
<path d="M94.7,285.0 C101.0,287.7 95.6,284.2 99.1,284.4" fill="none" stroke="#f4f0e8" stroke-width="0.95" opacity="0.9"/>
<path d="M95.2,306.0 C95.4,299.9 90.7,308.9 88.1,305.1" fill="none" stroke="#f4f0e8" stroke-width="0.95" opacity="0.9"/>
<path d="M99.2,309.4 C94.1,303.1 101.6,312.1 104.6,308.3" fill="none" stroke="#ece6da" stroke-width="0.95" opacity="0.9"/>
<path d="M124.9,243.4 C118.7,237.3 121.5,239.1 116.9,238.6" fill="none" stroke="#d8d2c6" stroke-width="0.95" opacity="0.9"/>
<path d="M119.5,256.0 C123.9,263.0 128.0,268.0 126.4,264.3" fill="none" stroke="#ece6da" stroke-width="0.95" opacity="0.9"/>
<path d="M124.2,263.8 C131.5,270.6 131.2,262.7 126.4,267.7" fill="none" stroke="#d8d2c6" stroke-width="0.95" opacity="0.9"/>
<path d="M120.9,271.9 C119.0,273.2 116.4,277.5 122.3,279.3" fill="none" stroke="#d8d2c6" stroke-width="0.95" opacity="0.9"/>
<path d="M118.4,274.2 C126.2,277.1 124.2,265.6 119.0,266.6" fill="none" stroke="#f4f0e8" stroke-width="0.95" opacity="0.9"/>
<path d="M110.3,279.8 C115.9,282.9 104.3,274.7 106.9,276.5" fill="none" stroke="#f4f0e8" stroke-width="0.95" opacity="0.9"/>
<path d="M108.7,285.5 C110.0,278.9 118.7,289.7 113.7,291.8" fill="none" stroke="#d8d2c6" stroke-width="0.95" opacity="0.9"/>
<path d="M108.6,296.6 C111.0,303.4 98.1,296.9 102.3,300.6" fill="none" stroke="#c4beb2" stroke-width="0.95" opacity="0.9"/>
<path d="M107.2,298.9 C110.2,304.0 121.0,310.1 115.1,305.4" fill="none" stroke="#c4beb2" stroke-width="0.95" opacity="0.9"/>
<path d="M114.3,309.0 C118.6,310.1 123.8,314.7 119.4,310.0" fill="none" stroke="#d8d2c6" stroke-width="0.95" opacity="0.9"/>
<path d="M111.7,311.9 C114.1,314.8 104.0,311.7 103.0,315.9" fill="none" stroke="#d8d2c6" stroke-width="0.95" opacity="0.9"/>
<path d="M106.9,315.7 C114.3,314.8 114.6,307.6 113.2,310.6" fill="none" stroke="#ece6da" stroke-width="0.95" opacity="0.9"/>
<path d="M106.7,325.3 C104.5,322.6 116.1,318.7 111.7,320.7" fill="none" stroke="#ece6da" stroke-width="0.95" opacity="0.9"/>
<path d="M108.3,329.5 C101.8,325.8 117.3,332.5 113.3,336.9" fill="none" stroke="#c4beb2" stroke-width="0.95" opacity="0.9"/>
<path d="M113.5,334.7 C116.3,341.8 122.3,345.5 116.4,344.3" fill="none" stroke="#c4beb2" stroke-width="0.95" opacity="0.9"/>
<path d="M128.4,313.1 C130.9,314.2 127.1,305.1 129.3,306.4" fill="none" stroke="#ece6da" stroke-width="0.95" opacity="0.9"/>
<path d="M129.5,318.4 C126.1,323.5 127.4,312.2 128.6,313.9" fill="none" stroke="#c4beb2" stroke-width="0.95" opacity="0.9"/>
<path d="M129.2,330.7 C129.5,337.5 132.3,339.0 130.2,338.1" fill="none" stroke="#ece6da" stroke-width="0.95" opacity="0.9"/>
<path d="M135.6,334.3 C139.6,339.5 130.7,323.0 133.3,327.9" fill="none" stroke="#c4beb2" stroke-width="0.95" opacity="0.9"/>
<path d="M173.3,211.4 C167.5,214.4 180.2,215.9 180.4,216.1" fill="none" stroke="#d8d2c6" stroke-width="0.95" opacity="0.9"/>
<path d="M173.4,215.3 C177.5,210.0 178.5,209.3 176.5,208.1" fill="none" stroke="#c4beb2" stroke-width="0.95" opacity="0.9"/>
<path d="M170.7,221.7 C178.1,216.3 174.7,226.5 175.4,225.7" fill="none" stroke="#f4f0e8" stroke-width="0.95" opacity="0.9"/>
<path d="M170.9,233.9 C177.8,228.6 167.9,230.3 164.5,226.3" fill="none" stroke="#f4f0e8" stroke-width="0.95" opacity="0.9"/>
<path d="M172.1,236.1 C180.1,234.6 170.1,222.8 175.5,226.2" fill="none" stroke="#c4beb2" stroke-width="0.95" opacity="0.9"/>
<path d="M175.4,253.7 C181.9,259.6 170.6,261.9 164.9,256.4" fill="none" stroke="#ece6da" stroke-width="0.95" opacity="0.9"/>
<path d="M170.2,263.6 C163.7,264.0 171.0,259.0 174.0,259.2" fill="none" stroke="#c4beb2" stroke-width="0.95" opacity="0.9"/>
<path d="M182.6,224.9 C180.3,228.1 181.7,227.8 187.4,221.9" fill="none" stroke="#c4beb2" stroke-width="0.95" opacity="0.9"/>
<path d="M183.1,241.7 C188.2,245.3 177.1,237.4 179.2,237.8" fill="none" stroke="#f4f0e8" stroke-width="0.95" opacity="0.9"/>
<path d="M183.2,248.0 C189.1,252.4 176.0,246.1 174.4,244.5" fill="none" stroke="#f4f0e8" stroke-width="0.95" opacity="0.9"/>
<path d="M182.3,256.4 C176.5,248.5 187.4,262.2 182.9,262.8" fill="none" stroke="#c4beb2" stroke-width="0.95" opacity="0.9"/>
<path d="M188.8,270.1 C187.2,265.3 188.5,269.2 187.2,264.8" fill="none" stroke="#ece6da" stroke-width="0.95" opacity="0.9"/>
<path d="M189.3,272.5 C181.6,269.6 182.6,278.8 188.2,280.9" fill="none" stroke="#ece6da" stroke-width="0.95" opacity="0.9"/>
<path d="M180.2,278.0 C176.3,277.4 166.2,283.4 172.0,278.3" fill="none" stroke="#f4f0e8" stroke-width="0.95" opacity="0.9"/>
<path d="M188.0,285.7 C188.8,289.0 183.6,277.2 182.8,278.9" fill="none" stroke="#f4f0e8" stroke-width="0.95" opacity="0.9"/>
<path d="M179.0,301.8 C184.8,294.8 175.6,295.4 174.8,296.5" fill="none" stroke="#c4beb2" stroke-width="0.95" opacity="0.9"/>
<path d="M182.2,309.2 C174.3,315.1 177.8,311.4 180.8,313.6" fill="none" stroke="#c4beb2" stroke-width="0.95" opacity="0.9"/>
<path d="M186.7,324.4 C183.7,330.4 193.0,325.6 197.5,325.7" fill="none" stroke="#d8d2c6" stroke-width="0.95" opacity="0.9"/>
<path d="M187.6,335.4 C182.8,328.2 189.8,351.5 186.3,346.1" fill="none" stroke="#f4f0e8" stroke-width="0.95" opacity="0.9"/>
<path d="M203.6,207.6 C201.7,202.0 199.9,215.8 196.7,211.3" fill="none" stroke="#d8d2c6" stroke-width="0.95" opacity="0.9"/>
<path d="M197.6,222.8 C190.7,227.6 194.3,219.7 192.3,214.6" fill="none" stroke="#f4f0e8" stroke-width="0.95" opacity="0.9"/>
<path d="M201.6,230.4 C201.9,229.6 190.7,236.7 195.6,237.9" fill="none" stroke="#c4beb2" stroke-width="0.95" opacity="0.9"/>
<path d="M195.2,235.6 C193.3,227.9 187.2,241.1 190.8,240.2" fill="none" stroke="#ece6da" stroke-width="0.95" opacity="0.9"/>
<path d="M194.3,239.5 C196.2,237.5 180.4,243.3 185.9,244.0" fill="none" stroke="#f4f0e8" stroke-width="0.95" opacity="0.9"/>
<path d="M199.7,248.7 C199.1,254.2 192.7,244.4 193.7,244.7" fill="none" stroke="#ece6da" stroke-width="0.95" opacity="0.9"/>
<path d="M200.6,254.5 C192.9,254.4 209.4,244.5 205.3,247.9" fill="none" stroke="#c4beb2" stroke-width="0.95" opacity="0.9"/>
<path d="M195.6,261.0 C196.2,257.8 186.0,262.3 190.4,265.8" fill="none" stroke="#f4f0e8" stroke-width="0.95" opacity="0.9"/>
<path d="M199.6,267.7 C204.8,260.3 206.0,271.4 209.3,272.1" fill="none" stroke="#d8d2c6" stroke-width="0.95" opacity="0.9"/>
<path d="M194.4,272.5 C195.9,267.4 202.4,269.8 197.3,269.1" fill="none" stroke="#d8d2c6" stroke-width="0.95" opacity="0.9"/>
<path d="M198.6,277.0 C201.9,276.1 199.3,291.1 200.2,286.7" fill="none" stroke="#d8d2c6" stroke-width="0.95" opacity="0.9"/>
<path d="M195.9,298.4 C193.1,296.3 186.8,308.4 191.5,304.4" fill="none" stroke="#ece6da" stroke-width="0.95" opacity="0.9"/>
<path d="M199.3,306.6 C200.0,303.8 199.6,312.2 202.7,311.4" fill="none" stroke="#ece6da" stroke-width="0.95" opacity="0.9"/>
<path d="M198.3,316.6 C199.6,312.4 203.0,317.1 201.9,313.7" fill="none" stroke="#ece6da" stroke-width="0.95" opacity="0.9"/>
<path d="M192.2,323.7 C187.5,330.5 197.2,317.3 195.0,314.8" fill="none" stroke="#ece6da" stroke-width="0.95" opacity="0.9"/>
<path d="M200.6,334.8 C207.1,338.7 209.6,329.1 205.6,325.5" fill="none" stroke="#d8d2c6" stroke-width="0.95" opacity="0.9"/>
<path d="M212.8,235.8 C213.7,241.6 210.2,238.1 210.0,239.6" fill="none" stroke="#f4f0e8" stroke-width="0.95" opacity="0.9"/>
<path d="M213.1,260.2 C208.2,257.3 208.4,265.3 209.2,270.0" fill="none" stroke="#f4f0e8" stroke-width="0.95" opacity="0.9"/>
<path d="M213.9,263.3 C219.5,261.9 200.4,260.1 205.5,261.4" fill="none" stroke="#c4beb2" stroke-width="0.95" opacity="0.9"/>
<path d="M213.2,275.4 C207.1,273.8 215.7,269.8 211.6,266.3" fill="none" stroke="#f4f0e8" stroke-width="0.95" opacity="0.9"/>
<path d="M212.0,294.2 C204.1,296.3 211.0,286.2 215.4,288.9" fill="none" stroke="#ece6da" stroke-width="0.95" opacity="0.9"/>
<path d="M212.2,305.0 C219.4,303.5 219.3,314.0 217.3,309.4" fill="none" stroke="#ece6da" stroke-width="0.95" opacity="0.9"/>
<path d="M212.0,312.7 C219.6,316.7 209.1,314.5 203.7,309.5" fill="none" stroke="#ece6da" stroke-width="0.95" opacity="0.9"/>
<path d="M217.3,244.6 C220.0,252.3 216.2,230.8 214.9,235.7" fill="none" stroke="#f4f0e8" stroke-width="0.95" opacity="0.9"/>
<path d="M216.5,262.7 C219.0,262.2 223.5,274.8 222.0,271.7" fill="none" stroke="#f4f0e8" stroke-width="0.95" opacity="0.9"/>
<path d="M214.4,268.2 C213.2,265.6 218.9,265.9 224.1,270.4" fill="none" stroke="#c4beb2" stroke-width="0.95" opacity="0.9"/>
<path d="M223.1,284.2 C226.7,286.6 230.3,292.3 230.2,287.8" fill="none" stroke="#c4beb2" stroke-width="0.95" opacity="0.9"/>
<path d="M221.2,299.4 C226.8,293.5 230.5,299.4 224.9,301.0" fill="none" stroke="#d8d2c6" stroke-width="0.95" opacity="0.9"/>
<path d="M224.6,302.3 C222.4,304.5 225.5,313.3 225.8,308.8" fill="none" stroke="#ece6da" stroke-width="0.95" opacity="0.9"/>
<path d="M217.2,306.9 C211.1,300.0 216.4,313.6 218.1,313.9" fill="none" stroke="#f4f0e8" stroke-width="0.95" opacity="0.9"/>
<path d="M223.5,317.5 C217.1,314.0 229.9,304.4 226.5,309.6" fill="none" stroke="#c4beb2" stroke-width="0.95" opacity="0.9"/>
<path d="M229.6,213.0 C230.7,217.3 218.8,221.7 221.9,217.7" fill="none" stroke="#d8d2c6" stroke-width="0.95" opacity="0.9"/>
<path d="M228.8,216.7 C230.1,222.8 228.5,219.3 233.8,222.5" fill="none" stroke="#d8d2c6" stroke-width="0.95" opacity="0.9"/>
<path d="M230.0,228.0 C224.9,231.1 233.5,220.1 236.4,223.2" fill="none" stroke="#f4f0e8" stroke-width="0.95" opacity="0.9"/>
<path d="M234.7,230.5 C240.9,229.9 233.3,225.4 235.4,219.8" fill="none" stroke="#c4beb2" stroke-width="0.95" opacity="0.9"/>
<path d="M228.1,310.4 C231.8,306.8 230.7,305.2 235.9,311.1" fill="none" stroke="#d8d2c6" stroke-width="0.95" opacity="0.9"/>
<path d="M232.6,313.7 C238.6,311.0 235.4,319.8 230.2,322.6" fill="none" stroke="#f4f0e8" stroke-width="0.95" opacity="0.9"/>
<path d="M234.5,329.6 C242.4,335.9 234.5,334.3 238.9,339.5" fill="none" stroke="#c4beb2" stroke-width="0.95" opacity="0.9"/>
<path d="M168.9,300.5 C167.9,293.5 168.0,293.6 164.4,293.4" fill="none" stroke="#c4beb2" stroke-width="0.95" opacity="0.9"/>
<path d="M165.9,315.9 C162.5,320.2 165.7,310.2 170.1,314.9" fill="none" stroke="#ece6da" stroke-width="0.95" opacity="0.9"/>
<path d="M169.1,325.0 C172.9,319.1 156.6,332.5 160.3,327.0" fill="none" stroke="#ece6da" stroke-width="0.95" opacity="0.9"/>
<path d="M164.4,330.4 C167.3,332.9 157.8,314.5 163.1,320.5" fill="none" stroke="#d8d2c6" stroke-width="0.95" opacity="0.9"/>
<path d="M296.7,219.9 C296.1,218.4 300.1,220.0 296.4,214.6" fill="none" stroke="#f4f0e8" stroke-width="0.95" opacity="0.9"/>
<path d="M316.5,210.0 C322.2,213.4 308.8,206.2 306.2,209.6" fill="none" stroke="#c4beb2" stroke-width="0.95" opacity="0.9"/>
<path d="M319.7,218.8 C318.2,222.3 327.3,223.1 321.3,226.4" fill="none" stroke="#c4beb2" stroke-width="0.95" opacity="0.9"/>
<path d="M313.2,226.5 C311.7,224.1 309.1,214.4 310.0,216.2" fill="none" stroke="#c4beb2" stroke-width="0.95" opacity="0.9"/>
<path d="M322.0,232.3 C322.9,234.7 321.1,223.1 323.6,227.5" fill="none" stroke="#ece6da" stroke-width="0.95" opacity="0.9"/>
<path d="M319.2,248.9 C318.0,250.9 312.6,245.2 310.1,249.0" fill="none" stroke="#d8d2c6" stroke-width="0.95" opacity="0.9"/>
<path d="M315.5,249.9 C323.0,247.6 314.5,243.6 308.8,244.4" fill="none" stroke="#c4beb2" stroke-width="0.95" opacity="0.9"/>
<path d="M317.9,267.8 C320.2,268.8 316.0,262.9 312.4,264.8" fill="none" stroke="#c4beb2" stroke-width="0.95" opacity="0.9"/>
<path d="M291.6,252.9 C292.1,257.2 286.4,254.3 284.1,252.6" fill="none" stroke="#f4f0e8" stroke-width="0.95" opacity="0.9"/>
<path d="M287.7,256.0 C291.6,250.1 297.1,254.0 295.5,255.5" fill="none" stroke="#d8d2c6" stroke-width="0.95" opacity="0.9"/>
<path d="M292.9,264.1 C297.5,260.1 304.5,257.6 299.5,261.0" fill="none" stroke="#f4f0e8" stroke-width="0.95" opacity="0.9"/>
<path d="M284.9,268.5 C284.6,269.0 274.9,271.3 278.5,274.2" fill="none" stroke="#ece6da" stroke-width="0.95" opacity="0.9"/>
<path d="M293.0,281.7 C293.1,275.6 291.9,281.9 287.9,279.9" fill="none" stroke="#f4f0e8" stroke-width="0.95" opacity="0.9"/>
<path d="M293.1,300.2 C297.5,305.5 299.3,295.3 298.2,296.2" fill="none" stroke="#c4beb2" stroke-width="0.95" opacity="0.9"/>
<path d="M298.2,314.8 C296.4,317.7 294.6,318.4 297.6,323.2" fill="none" stroke="#c4beb2" stroke-width="0.95" opacity="0.9"/>
<path d="M307.7,314.0 C311.2,318.6 315.5,318.9 312.0,324.0" fill="none" stroke="#f4f0e8" stroke-width="0.95" opacity="0.9"/>
<path d="M298.7,318.7 C304.6,320.9 302.2,328.1 306.3,323.7" fill="none" stroke="#ece6da" stroke-width="0.95" opacity="0.9"/>
<path d="M298.5,329.4 C303.7,337.2 292.2,338.9 293.0,336.0" fill="none" stroke="#f4f0e8" stroke-width="0.95" opacity="0.9"/>
<path d="M300.9,334.6 C299.6,342.0 302.7,335.2 305.2,339.3" fill="none" stroke="#d8d2c6" stroke-width="0.95" opacity="0.9"/>
<path d="M323.5,295.6 C321.4,294.6 327.4,295.7 327.4,298.2" fill="none" stroke="#f4f0e8" stroke-width="0.95" opacity="0.9"/>
<path d="M330.4,305.5 C326.5,300.2 326.4,300.1 324.0,304.2" fill="none" stroke="#f4f0e8" stroke-width="0.95" opacity="0.9"/>
<path d="M318.1,285.2 C324.1,282.9 314.8,274.2 318.3,276.0" fill="none" stroke="#c4beb2" stroke-width="0.95" opacity="0.9"/>
<path d="M319.7,299.4 C319.1,304.7 329.2,297.3 326.6,298.1" fill="none" stroke="#ece6da" stroke-width="0.95" opacity="0.9"/>
<path d="M318.7,301.4 C317.8,301.4 315.1,296.8 311.1,302.6" fill="none" stroke="#d8d2c6" stroke-width="0.95" opacity="0.9"/>
<path d="M319.1,308.4 C324.0,316.1 312.2,310.0 316.4,312.3" fill="none" stroke="#f4f0e8" stroke-width="0.95" opacity="0.9"/>
<path d="M317.3,312.3 C314.1,311.7 310.0,316.1 311.6,312.7" fill="none" stroke="#c4beb2" stroke-width="0.95" opacity="0.9"/>
<path d="M317.3,314.9 C324.2,313.2 315.4,302.9 317.6,308.1" fill="none" stroke="#c4beb2" stroke-width="0.95" opacity="0.9"/>
<path d="M316.7,324.0 C322.7,322.9 321.8,338.3 320.2,333.1" fill="none" stroke="#d8d2c6" stroke-width="0.95" opacity="0.9"/>
<path d="M314.5,329.8 C319.2,332.8 316.3,326.5 320.3,331.4" fill="none" stroke="#ece6da" stroke-width="0.95" opacity="0.9"/>
<path d="M369.9,224.2 C376.9,230.5 359.8,224.1 362.9,223.3" fill="none" stroke="#c4beb2" stroke-width="0.95" opacity="0.9"/>
<path d="M370.4,232.0 C371.7,229.0 382.9,231.4 377.3,230.6" fill="none" stroke="#ece6da" stroke-width="0.95" opacity="0.9"/>
<path d="M376.5,259.7 C377.5,254.4 373.0,258.9 374.7,255.5" fill="none" stroke="#c4beb2" stroke-width="0.95" opacity="0.9"/>
<path d="M383.7,264.0 C390.9,259.6 386.1,273.4 386.5,274.1" fill="none" stroke="#c4beb2" stroke-width="0.95" opacity="0.9"/>
<path d="M384.7,267.0 C382.7,274.8 386.9,273.0 382.3,277.5" fill="none" stroke="#ece6da" stroke-width="0.95" opacity="0.9"/>
<path d="M373.3,214.9 C375.9,212.2 382.0,210.2 382.8,213.9" fill="none" stroke="#f4f0e8" stroke-width="0.95" opacity="0.9"/>
<path d="M386.1,222.9 C381.6,230.7 382.0,220.2 387.7,216.1" fill="none" stroke="#c4beb2" stroke-width="0.95" opacity="0.9"/>
<path d="M389.0,227.8 C396.8,231.9 375.3,226.4 380.8,221.9" fill="none" stroke="#f4f0e8" stroke-width="0.95" opacity="0.9"/>
<path d="M386.0,230.6 C391.2,229.0 388.7,239.5 384.0,235.9" fill="none" stroke="#ece6da" stroke-width="0.95" opacity="0.9"/>
<path d="M398.7,241.4 C406.1,238.0 387.7,244.9 389.3,244.6" fill="none" stroke="#c4beb2" stroke-width="0.95" opacity="0.9"/>
<path d="M394.5,259.7 C401.3,262.6 394.1,268.4 390.5,268.0" fill="none" stroke="#c4beb2" stroke-width="0.95" opacity="0.9"/>
<path d="M404.6,213.1 C408.9,207.6 409.8,223.5 410.6,217.6" fill="none" stroke="#c4beb2" stroke-width="0.95" opacity="0.9"/>
<path d="M416.7,224.4 C424.5,221.6 410.0,224.9 411.4,219.0" fill="none" stroke="#c4beb2" stroke-width="0.95" opacity="0.9"/>
<path d="M414.7,235.3 C408.7,228.5 409.4,245.8 411.5,241.5" fill="none" stroke="#c4beb2" stroke-width="0.95" opacity="0.9"/>
<path d="M404.5,239.5 C410.0,231.7 401.0,248.8 401.7,244.3" fill="none" stroke="#f4f0e8" stroke-width="0.95" opacity="0.9"/>
<path d="M412.6,250.3 C413.8,245.1 410.1,253.1 407.3,257.7" fill="none" stroke="#d8d2c6" stroke-width="0.95" opacity="0.9"/>
<path d="M415.6,263.1 C411.4,259.1 412.1,268.3 415.2,272.0" fill="none" stroke="#d8d2c6" stroke-width="0.95" opacity="0.9"/>
<path d="M372.9,301.9 C370.0,304.8 373.7,296.0 374.8,293.0" fill="none" stroke="#ece6da" stroke-width="0.95" opacity="0.9"/>
<path d="M370.0,308.4 C365.0,312.0 360.3,317.1 365.5,315.1" fill="none" stroke="#ece6da" stroke-width="0.95" opacity="0.9"/>
<path d="M371.1,310.0 C375.0,305.3 374.0,323.0 378.3,318.3" fill="none" stroke="#f4f0e8" stroke-width="0.95" opacity="0.9"/>
<path d="M374.9,320.8 C371.9,314.8 380.2,315.9 381.1,321.4" fill="none" stroke="#c4beb2" stroke-width="0.95" opacity="0.9"/>
<path d="M385.8,331.4 C378.9,327.3 382.0,339.0 381.8,338.8" fill="none" stroke="#d8d2c6" stroke-width="0.95" opacity="0.9"/>
<path d="M384.3,333.6 C391.3,330.1 393.9,332.4 394.4,334.5" fill="none" stroke="#ece6da" stroke-width="0.95" opacity="0.9"/>
<path d="M384.7,271.4 C386.0,276.0 388.8,267.5 383.6,264.4" fill="none" stroke="#d8d2c6" stroke-width="0.95" opacity="0.9"/>
<path d="M388.5,276.7 C390.7,274.1 375.8,276.6 381.4,281.1" fill="none" stroke="#d8d2c6" stroke-width="0.95" opacity="0.9"/>
<path d="M390.6,281.3 C392.3,282.7 388.3,280.5 388.9,276.0" fill="none" stroke="#f4f0e8" stroke-width="0.95" opacity="0.9"/>
<path d="M387.7,293.5 C381.5,290.2 392.2,293.6 392.2,292.4" fill="none" stroke="#f4f0e8" stroke-width="0.95" opacity="0.9"/>
<path d="M385.6,301.4 C388.0,299.1 393.0,295.0 388.4,297.4" fill="none" stroke="#ece6da" stroke-width="0.95" opacity="0.9"/>
<path d="M391.2,315.7 C389.7,310.2 389.3,304.7 387.4,306.9" fill="none" stroke="#d8d2c6" stroke-width="0.95" opacity="0.9"/>
<path d="M395.3,322.1 C387.6,315.6 386.7,336.2 390.5,330.9" fill="none" stroke="#c4beb2" stroke-width="0.95" opacity="0.9"/>
<path d="M402.0,288.5 C403.1,285.6 402.4,291.0 405.2,291.6" fill="none" stroke="#ece6da" stroke-width="0.95" opacity="0.9"/>
<path d="M405.3,296.3 C405.8,293.2 406.8,301.4 404.7,300.7" fill="none" stroke="#f4f0e8" stroke-width="0.95" opacity="0.9"/>
<path d="M419.2,267.3 C414.5,260.5 412.3,256.9 409.9,261.6" fill="none" stroke="#d8d2c6" stroke-width="0.95" opacity="0.9"/>
<path d="M422.8,276.5 C430.5,274.5 415.4,274.7 419.8,270.3" fill="none" stroke="#c4beb2" stroke-width="0.95" opacity="0.9"/>
<path d="M425.5,279.5 C431.2,279.6 416.3,283.2 416.3,282.8" fill="none" stroke="#d8d2c6" stroke-width="0.95" opacity="0.9"/>
<path d="M424.1,288.2 C431.0,283.5 425.8,289.2 421.0,283.9" fill="none" stroke="#f4f0e8" stroke-width="0.95" opacity="0.9"/>
<path d="M418.6,297.0 C418.0,298.1 426.3,293.6 423.1,289.2" fill="none" stroke="#c4beb2" stroke-width="0.95" opacity="0.9"/>
<path d="M422.9,304.8 C426.0,305.1 422.1,302.8 419.7,297.2" fill="none" stroke="#d8d2c6" stroke-width="0.95" opacity="0.9"/>
<path d="M423.2,330.6 C418.4,322.7 419.9,334.2 422.8,337.3" fill="none" stroke="#f4f0e8" stroke-width="0.95" opacity="0.9"/>
<path d="M419.1,333.0 C424.5,332.8 406.3,339.9 410.7,334.5" fill="none" stroke="#c4beb2" stroke-width="0.95" opacity="0.9"/>
<path d="M479.6,217.5 C486.1,210.7 488.1,205.0 484.8,208.9" fill="none" stroke="#f4f0e8" stroke-width="0.95" opacity="0.9"/>
<path d="M480.8,221.2 C475.0,217.7 484.0,217.8 482.3,216.1" fill="none" stroke="#d8d2c6" stroke-width="0.95" opacity="0.9"/>
<path d="M486.9,224.1 C487.3,216.5 483.6,232.8 488.4,232.0" fill="none" stroke="#ece6da" stroke-width="0.95" opacity="0.9"/>
<path d="M493.0,231.6 C488.7,236.1 483.2,231.2 486.6,228.6" fill="none" stroke="#c4beb2" stroke-width="0.95" opacity="0.9"/>
<path d="M491.8,242.8 C488.3,240.5 479.6,241.8 481.8,238.9" fill="none" stroke="#c4beb2" stroke-width="0.95" opacity="0.9"/>
<path d="M481.8,252.9 C485.7,253.6 482.0,253.0 476.6,253.4" fill="none" stroke="#ece6da" stroke-width="0.95" opacity="0.9"/>
<path d="M492.6,257.6 C486.4,253.8 490.5,261.2 485.4,258.5" fill="none" stroke="#f4f0e8" stroke-width="0.95" opacity="0.9"/>
<path d="M492.7,268.9 C488.4,265.0 485.6,278.9 489.7,275.5" fill="none" stroke="#ece6da" stroke-width="0.95" opacity="0.9"/>
<path d="M494.7,270.1 C499.0,269.9 496.0,263.2 501.2,268.2" fill="none" stroke="#d8d2c6" stroke-width="0.95" opacity="0.9"/>
<path d="M493.8,277.5 C489.6,279.0 489.4,275.8 488.7,281.2" fill="none" stroke="#f4f0e8" stroke-width="0.95" opacity="0.9"/>
<path d="M495.1,283.9 C497.1,289.7 494.9,284.1 500.8,289.9" fill="none" stroke="#d8d2c6" stroke-width="0.95" opacity="0.9"/>
<path d="M489.5,286.7 C489.6,279.3 487.1,289.4 491.9,293.3" fill="none" stroke="#ece6da" stroke-width="0.95" opacity="0.9"/>
<path d="M494.3,289.4 C492.2,288.4 486.1,291.3 485.2,285.5" fill="none" stroke="#c4beb2" stroke-width="0.95" opacity="0.9"/>
<path d="M495.2,298.5 C492.1,301.4 491.3,300.6 492.9,302.9" fill="none" stroke="#ece6da" stroke-width="0.95" opacity="0.9"/>
<path d="M491.7,310.5 C489.4,306.5 495.4,310.1 499.4,311.4" fill="none" stroke="#f4f0e8" stroke-width="0.95" opacity="0.9"/>
<path d="M499.1,331.4 C506.8,332.0 502.4,326.3 497.6,326.4" fill="none" stroke="#f4f0e8" stroke-width="0.95" opacity="0.9"/>
<path d="M496.2,210.0 C493.4,217.9 508.1,217.9 502.7,218.8" fill="none" stroke="#d8d2c6" stroke-width="0.95" opacity="0.9"/>
<path d="M506.4,220.2 C507.3,224.4 513.8,217.8 513.0,220.6" fill="none" stroke="#c4beb2" stroke-width="0.95" opacity="0.9"/>
<path d="M506.2,246.0 C513.4,243.7 502.7,254.2 504.0,250.0" fill="none" stroke="#d8d2c6" stroke-width="0.95" opacity="0.9"/>
<path d="M511.8,252.3 C510.8,251.0 502.5,257.0 503.6,256.7" fill="none" stroke="#f4f0e8" stroke-width="0.95" opacity="0.9"/>
<path d="M503.7,262.0 C506.6,263.3 502.8,270.3 505.8,266.6" fill="none" stroke="#c4beb2" stroke-width="0.95" opacity="0.9"/>
<path d="M498.7,275.9 C500.0,278.6 496.7,276.9 496.7,280.5" fill="none" stroke="#f4f0e8" stroke-width="0.95" opacity="0.9"/>
<path d="M498.9,280.8 C492.2,284.1 496.1,273.0 496.1,277.6" fill="none" stroke="#c4beb2" stroke-width="0.95" opacity="0.9"/>
<path d="M510.3,291.4 C516.0,284.0 521.4,289.1 517.4,289.4" fill="none" stroke="#d8d2c6" stroke-width="0.95" opacity="0.9"/>
<path d="M508.0,307.0 C506.6,308.6 508.9,303.7 508.2,298.3" fill="none" stroke="#ece6da" stroke-width="0.95" opacity="0.9"/>
<path d="M500.9,314.8 C500.9,307.0 491.3,324.3 492.5,319.8" fill="none" stroke="#c4beb2" stroke-width="0.95" opacity="0.9"/>
<path d="M500.9,318.5 C506.5,318.8 496.8,320.7 502.3,323.4" fill="none" stroke="#f4f0e8" stroke-width="0.95" opacity="0.9"/>
<path d="M499.5,333.3 C493.5,331.0 494.6,328.9 499.6,329.3" fill="none" stroke="#f4f0e8" stroke-width="0.95" opacity="0.9"/>
<path d="M510.1,227.2 C512.8,223.9 507.6,227.8 502.7,226.4" fill="none" stroke="#ece6da" stroke-width="0.95" opacity="0.9"/>
<path d="M517.2,230.5 C515.5,237.6 517.0,234.7 512.0,229.1" fill="none" stroke="#f4f0e8" stroke-width="0.95" opacity="0.9"/>
<path d="M518.9,264.0 C518.2,264.6 514.7,264.4 513.6,259.7" fill="none" stroke="#f4f0e8" stroke-width="0.95" opacity="0.9"/>
<path d="M522.8,270.3 C516.2,264.2 522.5,278.3 527.3,274.7" fill="none" stroke="#ece6da" stroke-width="0.95" opacity="0.9"/>
<path d="M522.4,277.3 C525.5,279.2 523.0,275.8 528.2,271.2" fill="none" stroke="#d8d2c6" stroke-width="0.95" opacity="0.9"/>
<path d="M517.8,283.1 C521.2,276.1 513.9,287.0 509.0,281.5" fill="none" stroke="#c4beb2" stroke-width="0.95" opacity="0.9"/>
<path d="M525.4,214.0 C533.1,208.3 525.0,215.8 523.9,220.8" fill="none" stroke="#d8d2c6" stroke-width="0.95" opacity="0.9"/>
<path d="M533.2,215.6 C527.7,208.7 539.8,210.4 537.8,215.3" fill="none" stroke="#f4f0e8" stroke-width="0.95" opacity="0.9"/>
<path d="M535.6,223.8 C533.4,223.0 531.4,234.7 535.5,231.1" fill="none" stroke="#f4f0e8" stroke-width="0.95" opacity="0.9"/>
<path d="M532.4,234.2 C538.8,233.4 538.3,241.2 533.3,238.7" fill="none" stroke="#c4beb2" stroke-width="0.95" opacity="0.9"/>
<path d="M524.9,271.0 C526.1,267.5 531.3,271.1 532.5,277.0" fill="none" stroke="#ece6da" stroke-width="0.95" opacity="0.9"/>
<path d="M521.5,281.0 C524.5,275.8 514.2,285.4 513.4,279.8" fill="none" stroke="#f4f0e8" stroke-width="0.95" opacity="0.9"/>
<path d="M520.0,307.3 C517.8,314.9 525.6,312.5 520.9,313.5" fill="none" stroke="#ece6da" stroke-width="0.95" opacity="0.9"/>
<path d="M593.1,207.5 C601.1,201.7 592.9,217.9 595.7,214.4" fill="none" stroke="#f4f0e8" stroke-width="0.95" opacity="0.9"/>
<path d="M601.3,217.4 C608.6,222.3 601.6,220.0 607.3,224.1" fill="none" stroke="#c4beb2" stroke-width="0.95" opacity="0.9"/>
<path d="M590.5,218.7 C583.3,218.5 580.9,212.4 585.3,209.5" fill="none" stroke="#c4beb2" stroke-width="0.95" opacity="0.9"/>
<path d="M600.6,222.4 C603.9,215.4 598.9,229.1 596.4,229.0" fill="none" stroke="#d8d2c6" stroke-width="0.95" opacity="0.9"/>
<path d="M591.0,229.6 C595.3,232.3 593.6,228.2 597.2,232.1" fill="none" stroke="#f4f0e8" stroke-width="0.95" opacity="0.9"/>
<path d="M590.7,234.6 C593.2,229.0 599.4,228.7 599.2,233.4" fill="none" stroke="#ece6da" stroke-width="0.95" opacity="0.9"/>
<path d="M591.0,249.8 C589.1,252.7 588.7,242.6 583.9,244.2" fill="none" stroke="#c4beb2" stroke-width="0.95" opacity="0.9"/>
<path d="M594.7,256.4 C589.0,252.1 586.3,251.6 590.6,246.6" fill="none" stroke="#f4f0e8" stroke-width="0.95" opacity="0.9"/>
<path d="M595.6,265.0 C592.9,261.7 588.9,267.7 590.2,266.2" fill="none" stroke="#c4beb2" stroke-width="0.95" opacity="0.9"/>
<path d="M595.2,276.4 C599.4,269.5 603.9,265.5 602.5,271.3" fill="none" stroke="#f4f0e8" stroke-width="0.95" opacity="0.9"/>
<path d="M589.4,316.1 C591.7,321.4 600.2,310.1 595.5,311.4" fill="none" stroke="#c4beb2" stroke-width="0.95" opacity="0.9"/>
<path d="M595.1,318.9 C596.0,326.0 592.8,315.3 597.1,311.6" fill="none" stroke="#c4beb2" stroke-width="0.95" opacity="0.9"/>
<path d="M601.9,228.8 C597.8,230.8 609.9,230.9 608.2,234.0" fill="none" stroke="#d8d2c6" stroke-width="0.95" opacity="0.9"/>
<path d="M601.9,239.0 C609.5,239.0 602.1,233.9 597.4,233.9" fill="none" stroke="#f4f0e8" stroke-width="0.95" opacity="0.9"/>
<path d="M606.8,244.5 C614.1,248.5 597.4,244.2 597.9,238.4" fill="none" stroke="#ece6da" stroke-width="0.95" opacity="0.9"/>
<path d="M601.2,259.7 C600.7,251.9 594.6,255.0 594.3,257.9" fill="none" stroke="#ece6da" stroke-width="0.95" opacity="0.9"/>
<path d="M601.7,264.0 C595.1,266.4 614.5,268.5 611.4,268.7" fill="none" stroke="#d8d2c6" stroke-width="0.95" opacity="0.9"/>
<path d="M604.7,267.8 C611.7,262.5 600.9,277.3 604.4,275.4" fill="none" stroke="#d8d2c6" stroke-width="0.95" opacity="0.9"/>
<path d="M598.1,273.5 C602.7,275.0 599.2,274.8 601.8,270.8" fill="none" stroke="#c4beb2" stroke-width="0.95" opacity="0.9"/>
<path d="M625.4,207.8 C620.5,201.3 616.6,199.7 621.8,199.1" fill="none" stroke="#ece6da" stroke-width="0.95" opacity="0.9"/>
<path d="M632.9,214.6 C640.4,211.4 623.9,213.8 629.4,212.0" fill="none" stroke="#d8d2c6" stroke-width="0.95" opacity="0.9"/>
<path d="M622.2,219.0 C629.7,213.5 611.8,220.1 617.7,221.3" fill="none" stroke="#ece6da" stroke-width="0.95" opacity="0.9"/>
<path d="M627.4,225.7 C629.9,233.4 640.2,219.4 636.6,219.7" fill="none" stroke="#c4beb2" stroke-width="0.95" opacity="0.9"/>
<path d="M620.5,225.8 C627.4,219.5 621.2,222.1 619.7,220.3" fill="none" stroke="#d8d2c6" stroke-width="0.95" opacity="0.9"/>
<path d="M614.6,232.7 C618.7,227.8 620.9,232.4 623.1,237.4" fill="none" stroke="#f4f0e8" stroke-width="0.95" opacity="0.9"/>
<path d="M608.2,250.1 C602.3,245.0 606.5,264.7 607.5,260.4" fill="none" stroke="#d8d2c6" stroke-width="0.95" opacity="0.9"/>
<path d="M612.2,263.8 C605.0,256.0 602.2,271.9 604.8,267.4" fill="none" stroke="#f4f0e8" stroke-width="0.95" opacity="0.9"/>
<path d="M610.5,268.5 C616.1,268.0 608.6,261.7 614.2,266.3" fill="none" stroke="#d8d2c6" stroke-width="0.95" opacity="0.9"/>
<path d="M614.3,272.1 C617.9,267.9 604.2,272.7 606.5,273.9" fill="none" stroke="#c4beb2" stroke-width="0.95" opacity="0.9"/>
<path d="M614.9,286.0 C611.5,280.8 611.6,292.5 609.6,291.0" fill="none" stroke="#ece6da" stroke-width="0.95" opacity="0.9"/>
<path d="M608.3,288.4 C601.9,284.7 598.3,291.5 601.8,294.8" fill="none" stroke="#f4f0e8" stroke-width="0.95" opacity="0.9"/>
<path d="M616.9,299.2 C620.0,304.4 607.7,297.3 606.9,295.9" fill="none" stroke="#d8d2c6" stroke-width="0.95" opacity="0.9"/>
<path d="M609.9,307.9 C608.8,309.7 596.7,311.8 599.2,309.7" fill="none" stroke="#c4beb2" stroke-width="0.95" opacity="0.9"/>
<path d="M617.2,318.3 C617.4,312.0 601.9,315.6 606.9,320.7" fill="none" stroke="#f4f0e8" stroke-width="0.95" opacity="0.9"/>
<path d="M617.9,322.9 C618.5,320.2 603.3,325.1 609.1,322.6" fill="none" stroke="#d8d2c6" stroke-width="0.95" opacity="0.9"/>
<path d="M638.1,269.7 C642.6,277.3 644.9,266.5 642.3,268.8" fill="none" stroke="#c4beb2" stroke-width="0.95" opacity="0.9"/>
<path d="M630.7,272.9 C634.5,273.7 643.2,279.9 637.7,274.0" fill="none" stroke="#f4f0e8" stroke-width="0.95" opacity="0.9"/>
<path d="M629.0,276.4 C629.2,280.6 628.8,288.2 633.2,282.7" fill="none" stroke="#ece6da" stroke-width="0.95" opacity="0.9"/>
<path d="M621.5,298.1 C626.7,293.0 616.6,293.4 616.5,294.5" fill="none" stroke="#d8d2c6" stroke-width="0.95" opacity="0.9"/>
<path d="M642.0,282.6 C640.9,289.4 658.0,278.5 652.1,280.3" fill="none" stroke="#d8d2c6" stroke-width="0.95" opacity="0.9"/>
<path d="M641.5,290.1 C644.6,286.4 649.2,299.4 650.2,294.2" fill="none" stroke="#d8d2c6" stroke-width="0.95" opacity="0.9"/>
<path d="M641.2,293.3 C634.1,294.8 629.0,289.9 631.1,290.4" fill="none" stroke="#ece6da" stroke-width="0.95" opacity="0.9"/>
<path d="M636.1,296.9 C630.1,291.9 642.7,291.4 640.1,290.9" fill="none" stroke="#c4beb2" stroke-width="0.95" opacity="0.9"/>
<path d="M638.8,302.2 C638.8,302.4 641.8,291.6 639.1,296.3" fill="none" stroke="#c4beb2" stroke-width="0.95" opacity="0.9"/>
<path d="M636.4,310.8 C634.5,316.4 636.8,300.1 634.2,300.1" fill="none" stroke="#f4f0e8" stroke-width="0.95" opacity="0.9"/>
<path d="M626.1,324.9 C627.6,332.0 626.4,317.6 628.1,316.7" fill="none" stroke="#f4f0e8" stroke-width="0.95" opacity="0.9"/>
<path d="M627.8,332.6 C634.3,324.7 637.2,328.9 632.2,326.8" fill="none" stroke="#c4beb2" stroke-width="0.95" opacity="0.9"/>
<path d="M97.8,260.0 Q105.8,264.2 109.3,273.8" fill="none" stroke="#a4c46a" stroke-width="0.95" stroke-linecap="round"/>
<path d="M102.8,288.0 Q110.2,290.1 114.9,297.7" fill="none" stroke="#a4c46a" stroke-width="0.95" stroke-linecap="round"/>
<path d="M99.2,309.4 Q108.4,314.3 112.4,325.5" fill="none" stroke="#b8d086" stroke-width="0.95" stroke-linecap="round"/>
<path d="M122.4,247.5 Q127.9,250.7 130.0,257.6" fill="none" stroke="#b8d086" stroke-width="0.95" stroke-linecap="round"/>
<path d="M128.4,255.1 Q140.2,255.8 149.5,265.4" fill="none" stroke="#b8d086" stroke-width="0.95" stroke-linecap="round"/>
<path d="M119.5,256.0 Q127.0,257.4 132.2,264.4" fill="none" stroke="#b8d086" stroke-width="0.95" stroke-linecap="round"/>
<path d="M120.9,271.9 Q128.4,270.7 135.7,275.7" fill="none" stroke="#8cae52" stroke-width="0.95" stroke-linecap="round"/>
<path d="M118.4,274.2 Q127.7,271.6 137.6,276.6" fill="none" stroke="#b8d086" stroke-width="0.95" stroke-linecap="round"/>
<path d="M106.9,315.7 Q113.9,316.6 119.1,322.8" fill="none" stroke="#a4c46a" stroke-width="0.95" stroke-linecap="round"/>
<path d="M129.2,330.7 Q138.6,333.7 144.2,343.7" fill="none" stroke="#a4c46a" stroke-width="0.95" stroke-linecap="round"/>
<path d="M203.2,214.3 Q209.4,214.4 214.5,219.4" fill="none" stroke="#a4c46a" stroke-width="0.95" stroke-linecap="round"/>
<path d="M197.6,222.8 Q208.1,226.5 214.1,237.8" fill="none" stroke="#b8d086" stroke-width="0.95" stroke-linecap="round"/>
<path d="M196.1,227.0 Q205.2,220.9 217.6,222.7" fill="none" stroke="#7fa046" stroke-width="0.95" stroke-linecap="round"/>
<path d="M194.3,239.5 Q205.9,242.1 213.6,253.2" fill="none" stroke="#7fa046" stroke-width="0.95" stroke-linecap="round"/>
<path d="M199.7,248.7 Q208.7,247.4 217.3,253.2" fill="none" stroke="#a4c46a" stroke-width="0.95" stroke-linecap="round"/>
<path d="M200.6,254.5 Q210.8,255.6 218.5,264.6" fill="none" stroke="#7fa046" stroke-width="0.95" stroke-linecap="round"/>
<path d="M193.3,259.1 Q199.9,263.1 202.3,271.5" fill="none" stroke="#b8d086" stroke-width="0.95" stroke-linecap="round"/>
<path d="M194.4,272.5 Q204.4,273.6 212.0,282.3" fill="none" stroke="#b8d086" stroke-width="0.95" stroke-linecap="round"/>
<path d="M198.6,277.0 Q205.9,279.5 210.1,287.4" fill="none" stroke="#8cae52" stroke-width="0.95" stroke-linecap="round"/>
<path d="M199.3,284.4 Q206.0,285.2 211.0,291.0" fill="none" stroke="#b8d086" stroke-width="0.95" stroke-linecap="round"/>
<path d="M201.2,302.5 Q207.3,304.6 210.8,311.1" fill="none" stroke="#8cae52" stroke-width="0.95" stroke-linecap="round"/>
<path d="M199.1,311.0 Q207.1,315.2 210.5,324.8" fill="none" stroke="#8cae52" stroke-width="0.95" stroke-linecap="round"/>
<path d="M200.6,334.8 Q210.8,338.1 216.8,348.8" fill="none" stroke="#b8d086" stroke-width="0.95" stroke-linecap="round"/>
<path d="M213.1,210.5 Q224.4,208.8 235.2,216.2" fill="none" stroke="#a4c46a" stroke-width="0.95" stroke-linecap="round"/>
<path d="M207.0,219.8 Q214.5,214.3 225.1,215.5" fill="none" stroke="#a4c46a" stroke-width="0.95" stroke-linecap="round"/>
<path d="M207.5,223.6 Q215.9,218.6 226.9,220.9" fill="none" stroke="#7fa046" stroke-width="0.95" stroke-linecap="round"/>
<path d="M213.1,230.7 Q224.7,229.1 235.8,236.8" fill="none" stroke="#8cae52" stroke-width="0.95" stroke-linecap="round"/>
<path d="M207.4,237.4 Q216.3,238.1 223.3,245.6" fill="none" stroke="#a4c46a" stroke-width="0.95" stroke-linecap="round"/>
<path d="M213.1,242.5 Q221.0,234.0 234.3,232.9" fill="none" stroke="#b8d086" stroke-width="0.95" stroke-linecap="round"/>
<path d="M214.7,247.9 Q223.3,252.9 226.6,263.8" fill="none" stroke="#7fa046" stroke-width="0.95" stroke-linecap="round"/>
<path d="M205.8,254.0 Q211.9,255.8 215.6,262.1" fill="none" stroke="#b8d086" stroke-width="0.95" stroke-linecap="round"/>
<path d="M213.1,260.2 Q223.0,256.1 234.6,260.4" fill="none" stroke="#7fa046" stroke-width="0.95" stroke-linecap="round"/>
<path d="M213.2,275.4 Q221.1,274.3 228.7,279.5" fill="none" stroke="#8cae52" stroke-width="0.95" stroke-linecap="round"/>
<path d="M212.5,279.7 Q218.8,272.7 229.6,271.8" fill="none" stroke="#8cae52" stroke-width="0.95" stroke-linecap="round"/>
<path d="M205.0,289.0 Q214.4,293.2 219.1,304.0" fill="none" stroke="#b8d086" stroke-width="0.95" stroke-linecap="round"/>
<path d="M211.1,299.1 Q222.0,298.5 231.7,306.4" fill="none" stroke="#b8d086" stroke-width="0.95" stroke-linecap="round"/>
<path d="M207.0,310.8 Q213.6,310.9 219.1,316.2" fill="none" stroke="#8cae52" stroke-width="0.95" stroke-linecap="round"/>
<path d="M212.0,312.7 Q217.2,309.6 224.0,310.9" fill="none" stroke="#b8d086" stroke-width="0.95" stroke-linecap="round"/>
<path d="M213.7,323.3 Q220.1,325.4 223.9,332.1" fill="none" stroke="#a4c46a" stroke-width="0.95" stroke-linecap="round"/>
<path d="M210.3,334.7 Q220.4,338.1 226.4,348.9" fill="none" stroke="#7fa046" stroke-width="0.95" stroke-linecap="round"/>
<path d="M226.3,210.9 Q236.4,205.4 249.1,208.7" fill="none" stroke="#7fa046" stroke-width="0.95" stroke-linecap="round"/>
<path d="M225.7,219.9 Q234.9,213.1 247.9,214.5" fill="none" stroke="#7fa046" stroke-width="0.95" stroke-linecap="round"/>
<path d="M225.2,222.9 Q234.3,215.2 247.9,215.7" fill="none" stroke="#a4c46a" stroke-width="0.95" stroke-linecap="round"/>
<path d="M223.4,227.6 Q228.3,224.1 235.3,224.9" fill="none" stroke="#a4c46a" stroke-width="0.95" stroke-linecap="round"/>
<path d="M224.0,259.5 Q233.8,264.1 238.5,275.6" fill="none" stroke="#a4c46a" stroke-width="0.95" stroke-linecap="round"/>
<path d="M216.5,262.7 Q224.0,258.7 233.4,261.2" fill="none" stroke="#a4c46a" stroke-width="0.95" stroke-linecap="round"/>
<path d="M214.4,268.2 Q224.2,267.3 233.3,274.2" fill="none" stroke="#8cae52" stroke-width="0.95" stroke-linecap="round"/>
<path d="M214.5,275.9 Q223.6,271.2 235.0,274.4" fill="none" stroke="#8cae52" stroke-width="0.95" stroke-linecap="round"/>
<path d="M223.1,284.2 Q229.1,279.2 238.1,279.7" fill="none" stroke="#7fa046" stroke-width="0.95" stroke-linecap="round"/>
<path d="M221.2,299.4 Q228.4,301.3 233.0,308.6" fill="none" stroke="#b8d086" stroke-width="0.95" stroke-linecap="round"/>
<path d="M224.6,302.3 Q232.4,299.8 240.9,303.8" fill="none" stroke="#b8d086" stroke-width="0.95" stroke-linecap="round"/>
<path d="M223.5,317.5 Q228.6,314.2 235.5,315.3" fill="none" stroke="#a4c46a" stroke-width="0.95" stroke-linecap="round"/>
<path d="M223.8,324.1 Q231.8,316.3 244.5,315.8" fill="none" stroke="#8cae52" stroke-width="0.95" stroke-linecap="round"/>
<path d="M224.2,329.3 Q230.8,326.5 238.6,329.3" fill="none" stroke="#a4c46a" stroke-width="0.95" stroke-linecap="round"/>
<path d="M228.8,216.7 Q239.1,219.9 245.2,230.6" fill="none" stroke="#b8d086" stroke-width="0.95" stroke-linecap="round"/>
<path d="M234.7,230.5 Q242.7,235.1 245.9,245.2" fill="none" stroke="#7fa046" stroke-width="0.95" stroke-linecap="round"/>
<path d="M233.8,236.0 Q245.1,234.6 255.6,242.1" fill="none" stroke="#7fa046" stroke-width="0.95" stroke-linecap="round"/>
<path d="M228.1,310.4 Q234.4,307.1 242.2,309.1" fill="none" stroke="#8cae52" stroke-width="0.95" stroke-linecap="round"/>
<path d="M232.6,313.7 Q242.8,314.1 251.1,322.3" fill="none" stroke="#b8d086" stroke-width="0.95" stroke-linecap="round"/>
<path d="M230.6,317.7 Q236.2,315.2 242.8,317.4" fill="none" stroke="#b8d086" stroke-width="0.95" stroke-linecap="round"/>
<path d="M231.9,335.2 Q241.9,340.2 246.5,352.3" fill="none" stroke="#7fa046" stroke-width="0.95" stroke-linecap="round"/>
<path d="M363.7,231.9 Q357.1,233.1 350.5,229.0" fill="none" stroke="#7fa046" stroke-width="0.95" stroke-linecap="round"/>
<path d="M373.5,250.1 Q363.7,253.2 353.1,248.2" fill="none" stroke="#b8d086" stroke-width="0.95" stroke-linecap="round"/>
<path d="M407.7,224.9 Q398.4,220.2 394.3,209.0" fill="none" stroke="#a4c46a" stroke-width="0.95" stroke-linecap="round"/>
<path d="M416.7,224.4 Q407.6,224.8 399.6,218.2" fill="none" stroke="#a4c46a" stroke-width="0.95" stroke-linecap="round"/>
<path d="M415.2,272.8 Q406.3,273.4 398.4,266.9" fill="none" stroke="#8cae52" stroke-width="0.95" stroke-linecap="round"/>
<path d="M390.1,335.2 Q381.3,332.7 375.8,323.8" fill="none" stroke="#8cae52" stroke-width="0.95" stroke-linecap="round"/>
<path d="M397.7,285.8 Q388.1,282.1 382.9,271.5" fill="none" stroke="#7fa046" stroke-width="0.95" stroke-linecap="round"/>
<path d="M418.6,297.0 Q410.7,298.7 402.7,294.0" fill="none" stroke="#a4c46a" stroke-width="0.95" stroke-linecap="round"/>
<path d="M511.8,252.3 Q520.0,246.2 531.6,247.3" fill="none" stroke="#b8d086" stroke-width="0.95" stroke-linecap="round"/>
<path d="M503.8,311.7 Q508.1,303.5 518.0,299.9" fill="none" stroke="#8cae52" stroke-width="0.95" stroke-linecap="round"/>
<path d="M511.0,327.7 Q521.4,326.0 531.5,332.7" fill="none" stroke="#a4c46a" stroke-width="0.95" stroke-linecap="round"/>
<path d="M518.9,218.5 Q526.9,213.9 537.3,216.3" fill="none" stroke="#a4c46a" stroke-width="0.95" stroke-linecap="round"/>
<path d="M518.2,296.9 Q525.1,288.3 537.6,286.4" fill="none" stroke="#8cae52" stroke-width="0.95" stroke-linecap="round"/>
<path d="M533.2,215.6 Q541.9,212.3 551.7,216.3" fill="none" stroke="#b8d086" stroke-width="0.95" stroke-linecap="round"/>
<path d="M527.7,274.1 Q535.7,265.5 549.1,264.6" fill="none" stroke="#a4c46a" stroke-width="0.95" stroke-linecap="round"/>
<path d="M606.3,219.3 Q610.5,212.4 619.5,209.8" fill="none" stroke="#a4c46a" stroke-width="0.95" stroke-linecap="round"/>
<path d="M629.5,219.0 Q636.6,213.4 646.9,214.1" fill="none" stroke="#a4c46a" stroke-width="0.95" stroke-linecap="round"/>
<path d="M621.7,241.6 Q627.6,231.2 640.7,227.1" fill="none" stroke="#7fa046" stroke-width="0.95" stroke-linecap="round"/>
<path d="M610.3,242.1 Q616.9,237.7 625.8,239.3" fill="none" stroke="#7fa046" stroke-width="0.95" stroke-linecap="round"/>
<path d="M608.2,250.1 Q613.3,240.5 625.0,236.4" fill="none" stroke="#7fa046" stroke-width="0.95" stroke-linecap="round"/>
<path d="M610.5,268.5 Q616.7,266.5 623.6,269.7" fill="none" stroke="#8cae52" stroke-width="0.95" stroke-linecap="round"/>
<path d="M614.9,286.0 Q623.6,278.3 636.9,278.5" fill="none" stroke="#a4c46a" stroke-width="0.95" stroke-linecap="round"/>
<path d="M616.9,299.2 Q625.4,294.2 636.5,296.5" fill="none" stroke="#a4c46a" stroke-width="0.95" stroke-linecap="round"/>
<path d="M608.4,324.9 Q612.3,318.6 620.4,316.3" fill="none" stroke="#7fa046" stroke-width="0.95" stroke-linecap="round"/>
<path d="M614.2,333.3 Q619.7,326.8 629.5,325.6" fill="none" stroke="#a4c46a" stroke-width="0.95" stroke-linecap="round"/>
<path d="M627.2,281.3 Q633.1,274.9 643.0,274.2" fill="none" stroke="#a4c46a" stroke-width="0.95" stroke-linecap="round"/>
<path d="M621.5,298.1 Q628.7,293.7 638.2,295.7" fill="none" stroke="#b8d086" stroke-width="0.95" stroke-linecap="round"/>
<path d="M641.5,290.1 Q647.0,281.8 658.0,279.1" fill="none" stroke="#b8d086" stroke-width="0.95" stroke-linecap="round"/>
<path d="M638.8,302.2 Q644.8,298.5 652.7,300.2" fill="none" stroke="#7fa046" stroke-width="0.95" stroke-linecap="round"/>
</g>
<text x="84.50" y="352.60" font-size="10.2" text-anchor="middle" font-weight="normal" fill="#1a1a1a">WT</text>
<text x="196.00" y="352.60" font-size="10.2" text-anchor="middle" font-weight="normal" fill="#1a1a1a" font-style="italic">slrl2-1</text>
<text x="307.30" y="352.60" font-size="10.2" text-anchor="middle" font-weight="normal" fill="#1a1a1a" font-style="italic">nf-yb1-1</text>
<text x="400.00" y="352.60" font-size="10.2" text-anchor="middle" font-weight="normal" fill="#1a1a1a" font-style="italic">slrl2 nf-yb1</text>
<text x="506.50" y="352.60" font-size="10.2" text-anchor="middle" font-weight="normal" fill="#1a1a1a" font-style="italic">bhlh144-1</text>
<text x="605.50" y="352.60" font-size="10.2" text-anchor="middle" font-weight="normal" fill="#1a1a1a" font-style="italic">slrl2 bhlh144</text>
<line x1="663.40" y1="291.00" x2="663.40" y2="307.50" stroke="#fff" stroke-width="1.5"/>
<text x="1.00" y="379.20" font-size="15" text-anchor="start" font-weight="bold" fill="#000">e</text>
<text transform="translate(43.00,481.88) rotate(-90)" font-size="9.5" text-anchor="middle" font-weight="normal" fill="#1a1a1a">Pre-harvest sprouting rate (%)</text>
<line x1="75.90" y1="541.90" x2="78.10" y2="541.90" stroke="#404040" stroke-width="1"/>
<text transform="translate(70.10,546.00) scale(1.18,1)" font-size="10.1" text-anchor="end" font-weight="normal" fill="#1a1a1a">0</text>
<line x1="75.90" y1="528.77" x2="77.50" y2="528.77" stroke="#404040" stroke-width="1"/>
<line x1="75.90" y1="515.65" x2="78.10" y2="515.65" stroke="#404040" stroke-width="1"/>
<text transform="translate(70.10,519.75) scale(1.18,1)" font-size="10.1" text-anchor="end" font-weight="normal" fill="#1a1a1a">20</text>
<line x1="75.90" y1="502.52" x2="77.50" y2="502.52" stroke="#404040" stroke-width="1"/>
<line x1="75.90" y1="489.40" x2="78.10" y2="489.40" stroke="#404040" stroke-width="1"/>
<text transform="translate(70.10,493.50) scale(1.18,1)" font-size="10.1" text-anchor="end" font-weight="normal" fill="#1a1a1a">40</text>
<line x1="75.90" y1="476.27" x2="77.50" y2="476.27" stroke="#404040" stroke-width="1"/>
<line x1="75.90" y1="463.15" x2="78.10" y2="463.15" stroke="#404040" stroke-width="1"/>
<text transform="translate(70.10,467.25) scale(1.18,1)" font-size="10.1" text-anchor="end" font-weight="normal" fill="#1a1a1a">60</text>
<line x1="75.90" y1="450.02" x2="77.50" y2="450.02" stroke="#404040" stroke-width="1"/>
<line x1="75.90" y1="436.90" x2="78.10" y2="436.90" stroke="#404040" stroke-width="1"/>
<text transform="translate(70.10,441.00) scale(1.18,1)" font-size="10.1" text-anchor="end" font-weight="normal" fill="#1a1a1a">80</text>
<line x1="75.90" y1="423.77" x2="77.50" y2="423.77" stroke="#404040" stroke-width="1"/>
<line x1="75.90" y1="410.65" x2="78.10" y2="410.65" stroke="#404040" stroke-width="1"/>
<text transform="translate(70.10,414.75) scale(1.18,1)" font-size="10.1" text-anchor="end" font-weight="normal" fill="#1a1a1a">100</text>
<line x1="75.90" y1="410.15" x2="75.90" y2="541.90" stroke="#404040" stroke-width="1.1"/>
<line x1="75.90" y1="541.90" x2="302.00" y2="541.90" stroke="#9a9a9a" stroke-width="1.8"/>
<line x1="99.20" y1="541.90" x2="99.20" y2="543.70" stroke="#333" stroke-width="0.9"/>
<line x1="134.92" y1="541.90" x2="134.92" y2="543.70" stroke="#333" stroke-width="0.9"/>
<line x1="170.64" y1="541.90" x2="170.64" y2="543.70" stroke="#333" stroke-width="0.9"/>
<line x1="206.36" y1="541.90" x2="206.36" y2="543.70" stroke="#333" stroke-width="0.9"/>
<line x1="242.08" y1="541.90" x2="242.08" y2="543.70" stroke="#333" stroke-width="0.9"/>
<line x1="277.80" y1="541.90" x2="277.80" y2="543.70" stroke="#333" stroke-width="0.9"/>
<text transform="translate(132.92,556.20) scale(1.15,1)" font-size="10.3" text-anchor="middle" font-weight="normal" fill="#1a1a1a">2 d</text>
<text transform="translate(204.36,556.20) scale(1.15,1)" font-size="10.3" text-anchor="middle" font-weight="normal" fill="#1a1a1a">4 d</text>
<text transform="translate(275.80,556.20) scale(1.15,1)" font-size="10.3" text-anchor="middle" font-weight="normal" fill="#1a1a1a">6 d</text>
<polyline points="99.20,541.90 134.92,541.90 170.64,540.59 206.36,519.19 242.08,488.22 277.80,457.64" fill="none" stroke="#f0845a" stroke-width="1.1"/>
<polyline points="99.20,541.90 134.92,541.90 170.64,539.27 206.36,499.38 242.08,471.55 277.80,444.12" fill="none" stroke="#a33060" stroke-width="1.1"/>
<polyline points="99.20,541.90 134.92,537.96 170.64,506.46 206.36,450.55 242.08,429.94 277.80,413.80" fill="none" stroke="#6b7fcf" stroke-width="1.1"/>
<polyline points="99.20,541.90 134.92,541.24 170.64,517.23 206.36,460.00 242.08,442.67 277.80,426.53" fill="none" stroke="#111" stroke-width="1.1"/>
<circle cx="99.20" cy="541.90" r="1.4" fill="#f0845a"/>
<circle cx="134.92" cy="541.90" r="1.4" fill="#f0845a"/>
<circle cx="170.64" cy="540.59" r="1.4" fill="#f0845a"/>
<line x1="206.36" y1="510.66" x2="206.36" y2="527.73" stroke="#333" stroke-width="0.9"/>
<line x1="204.96" y1="510.66" x2="207.76" y2="510.66" stroke="#333" stroke-width="0.9"/>
<line x1="204.96" y1="527.73" x2="207.76" y2="527.73" stroke="#333" stroke-width="0.9"/>
<circle cx="206.36" cy="519.19" r="1.4" fill="#f0845a"/>
<line x1="242.08" y1="482.97" x2="242.08" y2="493.47" stroke="#333" stroke-width="0.9"/>
<line x1="240.68" y1="482.97" x2="243.48" y2="482.97" stroke="#333" stroke-width="0.9"/>
<line x1="240.68" y1="493.47" x2="243.48" y2="493.47" stroke="#333" stroke-width="0.9"/>
<circle cx="242.08" cy="488.22" r="1.4" fill="#f0845a"/>
<line x1="277.80" y1="452.39" x2="277.80" y2="462.89" stroke="#333" stroke-width="0.9"/>
<line x1="276.40" y1="452.39" x2="279.20" y2="452.39" stroke="#333" stroke-width="0.9"/>
<line x1="276.40" y1="462.89" x2="279.20" y2="462.89" stroke="#333" stroke-width="0.9"/>
<circle cx="277.80" cy="457.64" r="1.4" fill="#f0845a"/>
<circle cx="99.20" cy="541.90" r="1.4" fill="#a33060"/>
<circle cx="134.92" cy="541.90" r="1.4" fill="#a33060"/>
<circle cx="170.64" cy="539.27" r="1.4" fill="#a33060"/>
<line x1="206.36" y1="488.22" x2="206.36" y2="510.53" stroke="#333" stroke-width="0.9"/>
<line x1="204.96" y1="488.22" x2="207.76" y2="488.22" stroke="#333" stroke-width="0.9"/>
<line x1="204.96" y1="510.53" x2="207.76" y2="510.53" stroke="#333" stroke-width="0.9"/>
<circle cx="206.36" cy="499.38" r="1.4" fill="#a33060"/>
<line x1="242.08" y1="462.36" x2="242.08" y2="480.74" stroke="#333" stroke-width="0.9"/>
<line x1="240.68" y1="462.36" x2="243.48" y2="462.36" stroke="#333" stroke-width="0.9"/>
<line x1="240.68" y1="480.74" x2="243.48" y2="480.74" stroke="#333" stroke-width="0.9"/>
<circle cx="242.08" cy="471.55" r="1.4" fill="#a33060"/>
<circle cx="277.80" cy="444.12" r="1.4" fill="#a33060"/>
<circle cx="99.20" cy="541.90" r="1.4" fill="#6b7fcf"/>
<line x1="134.92" y1="536.65" x2="134.92" y2="539.27" stroke="#333" stroke-width="0.9"/>
<line x1="133.52" y1="536.65" x2="136.32" y2="536.65" stroke="#333" stroke-width="0.9"/>
<line x1="133.52" y1="539.27" x2="136.32" y2="539.27" stroke="#333" stroke-width="0.9"/>
<circle cx="134.92" cy="537.96" r="1.4" fill="#6b7fcf"/>
<line x1="170.64" y1="501.21" x2="170.64" y2="511.71" stroke="#333" stroke-width="0.9"/>
<line x1="169.24" y1="501.21" x2="172.04" y2="501.21" stroke="#333" stroke-width="0.9"/>
<line x1="169.24" y1="511.71" x2="172.04" y2="511.71" stroke="#333" stroke-width="0.9"/>
<circle cx="170.64" cy="506.46" r="1.4" fill="#6b7fcf"/>
<line x1="206.36" y1="442.02" x2="206.36" y2="459.08" stroke="#333" stroke-width="0.9"/>
<line x1="204.96" y1="442.02" x2="207.76" y2="442.02" stroke="#333" stroke-width="0.9"/>
<line x1="204.96" y1="459.08" x2="207.76" y2="459.08" stroke="#333" stroke-width="0.9"/>
<circle cx="206.36" cy="450.55" r="1.4" fill="#6b7fcf"/>
<line x1="242.08" y1="427.97" x2="242.08" y2="431.91" stroke="#333" stroke-width="0.9"/>
<line x1="240.68" y1="427.97" x2="243.48" y2="427.97" stroke="#333" stroke-width="0.9"/>
<line x1="240.68" y1="431.91" x2="243.48" y2="431.91" stroke="#333" stroke-width="0.9"/>
<circle cx="242.08" cy="429.94" r="1.4" fill="#6b7fcf"/>
<line x1="277.80" y1="412.23" x2="277.80" y2="415.38" stroke="#333" stroke-width="0.9"/>
<line x1="276.40" y1="412.23" x2="279.20" y2="412.23" stroke="#333" stroke-width="0.9"/>
<line x1="276.40" y1="415.38" x2="279.20" y2="415.38" stroke="#333" stroke-width="0.9"/>
<circle cx="277.80" cy="413.80" r="1.4" fill="#6b7fcf"/>
<circle cx="99.20" cy="541.90" r="1.4" fill="#111"/>
<circle cx="134.92" cy="541.24" r="1.4" fill="#111"/>
<line x1="170.64" y1="509.35" x2="170.64" y2="525.10" stroke="#333" stroke-width="0.9"/>
<line x1="169.24" y1="509.35" x2="172.04" y2="509.35" stroke="#333" stroke-width="0.9"/>
<line x1="169.24" y1="525.10" x2="172.04" y2="525.10" stroke="#333" stroke-width="0.9"/>
<circle cx="170.64" cy="517.23" r="1.4" fill="#111"/>
<line x1="206.36" y1="457.38" x2="206.36" y2="462.62" stroke="#333" stroke-width="0.9"/>
<line x1="204.96" y1="457.38" x2="207.76" y2="457.38" stroke="#333" stroke-width="0.9"/>
<line x1="204.96" y1="462.62" x2="207.76" y2="462.62" stroke="#333" stroke-width="0.9"/>
<circle cx="206.36" cy="460.00" r="1.4" fill="#111"/>
<line x1="242.08" y1="441.36" x2="242.08" y2="443.99" stroke="#333" stroke-width="0.9"/>
<line x1="240.68" y1="441.36" x2="243.48" y2="441.36" stroke="#333" stroke-width="0.9"/>
<line x1="240.68" y1="443.99" x2="243.48" y2="443.99" stroke="#333" stroke-width="0.9"/>
<circle cx="242.08" cy="442.67" r="1.4" fill="#111"/>
<circle cx="277.80" cy="426.53" r="1.4" fill="#111"/>
<line x1="83.50" y1="384.80" x2="99.90" y2="384.80" stroke="#111" stroke-width="0.9"/>
<circle cx="91.70" cy="384.80" r="1.2" fill="#111"/>
<text transform="translate(108.60,388.40) scale(1.08,1)" font-size="10.9" text-anchor="start" font-weight="normal" fill="#1a1a1a">WT</text>
<line x1="83.50" y1="398.80" x2="99.90" y2="398.80" stroke="#f0845a" stroke-width="0.9"/>
<circle cx="91.70" cy="398.80" r="1.2" fill="#f0845a"/>
<text transform="translate(108.60,402.40) scale(1.08,1)" font-size="10.9" text-anchor="start" font-weight="normal" fill="#1a1a1a" font-style="italic">nf-yb1-1</text>
<line x1="180.70" y1="384.80" x2="197.40" y2="384.80" stroke="#6b7fcf" stroke-width="0.9"/>
<circle cx="189.05" cy="384.80" r="1.2" fill="#6b7fcf"/>
<text transform="translate(201.20,388.40) scale(1.08,1)" font-size="10.9" text-anchor="start" font-weight="normal" fill="#1a1a1a" font-style="italic">slrl2-1</text>
<line x1="180.70" y1="398.80" x2="197.40" y2="398.80" stroke="#a33060" stroke-width="0.9"/>
<circle cx="189.05" cy="398.80" r="1.2" fill="#a33060"/>
<text transform="translate(201.20,402.40) scale(1.08,1)" font-size="10.9" text-anchor="start" font-weight="normal" fill="#1a1a1a" font-style="italic">slrl2 nf-yb1</text>
<text x="373.30" y="383.40" font-size="15" text-anchor="start" font-weight="bold" fill="#000">f</text>
<text transform="translate(388.40,480.05) rotate(-90)" font-size="9.25" text-anchor="middle" font-weight="normal" fill="#1a1a1a">Pre-harvest sprouting rate (%)</text>
<line x1="422.80" y1="542.50" x2="425.00" y2="542.50" stroke="#383838" stroke-width="1"/>
<text transform="translate(417.00,546.60) scale(1.18,1)" font-size="10.1" text-anchor="end" font-weight="normal" fill="#1a1a1a">0</text>
<line x1="422.80" y1="529.31" x2="424.40" y2="529.31" stroke="#383838" stroke-width="1"/>
<line x1="422.80" y1="516.12" x2="425.00" y2="516.12" stroke="#383838" stroke-width="1"/>
<text transform="translate(417.00,520.22) scale(1.18,1)" font-size="10.1" text-anchor="end" font-weight="normal" fill="#1a1a1a">20</text>
<line x1="422.80" y1="502.93" x2="424.40" y2="502.93" stroke="#383838" stroke-width="1"/>
<line x1="422.80" y1="489.74" x2="425.00" y2="489.74" stroke="#383838" stroke-width="1"/>
<text transform="translate(417.00,493.84) scale(1.18,1)" font-size="10.1" text-anchor="end" font-weight="normal" fill="#1a1a1a">40</text>
<line x1="422.80" y1="476.55" x2="424.40" y2="476.55" stroke="#383838" stroke-width="1"/>
<line x1="422.80" y1="463.36" x2="425.00" y2="463.36" stroke="#383838" stroke-width="1"/>
<text transform="translate(417.00,467.46) scale(1.18,1)" font-size="10.1" text-anchor="end" font-weight="normal" fill="#1a1a1a">60</text>
<line x1="422.80" y1="450.17" x2="424.40" y2="450.17" stroke="#383838" stroke-width="1"/>
<line x1="422.80" y1="436.98" x2="425.00" y2="436.98" stroke="#383838" stroke-width="1"/>
<text transform="translate(417.00,441.08) scale(1.18,1)" font-size="10.1" text-anchor="end" font-weight="normal" fill="#1a1a1a">80</text>
<line x1="422.80" y1="423.79" x2="424.40" y2="423.79" stroke="#383838" stroke-width="1"/>
<line x1="422.80" y1="410.60" x2="425.00" y2="410.60" stroke="#383838" stroke-width="1"/>
<text transform="translate(417.00,414.70) scale(1.18,1)" font-size="10.1" text-anchor="end" font-weight="normal" fill="#1a1a1a">100</text>
<line x1="422.80" y1="410.10" x2="422.80" y2="542.50" stroke="#383838" stroke-width="1.1"/>
<line x1="422.80" y1="542.50" x2="649.00" y2="542.50" stroke="#333" stroke-width="1.2"/>
<line x1="446.00" y1="542.50" x2="446.00" y2="544.30" stroke="#333" stroke-width="0.9"/>
<line x1="481.72" y1="542.50" x2="481.72" y2="544.30" stroke="#333" stroke-width="0.9"/>
<line x1="517.44" y1="542.50" x2="517.44" y2="544.30" stroke="#333" stroke-width="0.9"/>
<line x1="553.16" y1="542.50" x2="553.16" y2="544.30" stroke="#333" stroke-width="0.9"/>
<line x1="588.88" y1="542.50" x2="588.88" y2="544.30" stroke="#333" stroke-width="0.9"/>
<line x1="624.60" y1="542.50" x2="624.60" y2="544.30" stroke="#333" stroke-width="0.9"/>
<text transform="translate(479.72,556.80) scale(1.15,1)" font-size="10.3" text-anchor="middle" font-weight="normal" fill="#1a1a1a">2 d</text>
<text transform="translate(551.16,556.80) scale(1.15,1)" font-size="10.3" text-anchor="middle" font-weight="normal" fill="#1a1a1a">4 d</text>
<text transform="translate(622.60,556.80) scale(1.15,1)" font-size="10.3" text-anchor="middle" font-weight="normal" fill="#1a1a1a">6 d</text>
<polyline points="446.00,542.50 481.72,542.50 517.44,541.18 553.16,519.55 588.88,486.71 624.60,453.73" fill="none" stroke="#f0845a" stroke-width="1.1"/>
<polyline points="446.00,542.50 481.72,539.20 517.44,521.13 553.16,482.49 588.88,459.53 624.60,436.32" fill="none" stroke="#a33060" stroke-width="1.1"/>
<polyline points="446.00,542.50 481.72,538.54 517.44,507.15 553.16,450.96 588.88,430.25 624.60,414.69" fill="none" stroke="#6b7fcf" stroke-width="1.1"/>
<polyline points="446.00,542.50 481.72,541.84 517.44,518.23 553.16,460.06 588.88,443.05 624.60,426.96" fill="none" stroke="#111" stroke-width="1.1"/>
<circle cx="446.00" cy="542.50" r="1.4" fill="#f0845a"/>
<circle cx="481.72" cy="542.50" r="1.4" fill="#f0845a"/>
<line x1="517.44" y1="540.13" x2="517.44" y2="542.24" stroke="#333" stroke-width="0.9"/>
<line x1="516.04" y1="540.13" x2="518.84" y2="540.13" stroke="#333" stroke-width="0.9"/>
<line x1="516.04" y1="542.24" x2="518.84" y2="542.24" stroke="#333" stroke-width="0.9"/>
<circle cx="517.44" cy="541.18" r="1.4" fill="#f0845a"/>
<line x1="553.16" y1="512.29" x2="553.16" y2="526.80" stroke="#333" stroke-width="0.9"/>
<line x1="551.76" y1="512.29" x2="554.56" y2="512.29" stroke="#333" stroke-width="0.9"/>
<line x1="551.76" y1="526.80" x2="554.56" y2="526.80" stroke="#333" stroke-width="0.9"/>
<circle cx="553.16" cy="519.55" r="1.4" fill="#f0845a"/>
<line x1="588.88" y1="478.13" x2="588.88" y2="495.28" stroke="#333" stroke-width="0.9"/>
<line x1="587.48" y1="478.13" x2="590.28" y2="478.13" stroke="#333" stroke-width="0.9"/>
<line x1="587.48" y1="495.28" x2="590.28" y2="495.28" stroke="#333" stroke-width="0.9"/>
<circle cx="588.88" cy="486.71" r="1.4" fill="#f0845a"/>
<line x1="624.60" y1="444.10" x2="624.60" y2="463.36" stroke="#333" stroke-width="0.9"/>
<line x1="623.20" y1="444.10" x2="626.00" y2="444.10" stroke="#333" stroke-width="0.9"/>
<line x1="623.20" y1="463.36" x2="626.00" y2="463.36" stroke="#333" stroke-width="0.9"/>
<circle cx="624.60" cy="453.73" r="1.4" fill="#f0845a"/>
<circle cx="446.00" cy="542.50" r="1.4" fill="#a33060"/>
<circle cx="481.72" cy="539.20" r="1.4" fill="#a33060"/>
<line x1="517.44" y1="513.88" x2="517.44" y2="528.39" stroke="#333" stroke-width="0.9"/>
<line x1="516.04" y1="513.88" x2="518.84" y2="513.88" stroke="#333" stroke-width="0.9"/>
<line x1="516.04" y1="528.39" x2="518.84" y2="528.39" stroke="#333" stroke-width="0.9"/>
<circle cx="517.44" cy="521.13" r="1.4" fill="#a33060"/>
<line x1="553.16" y1="477.87" x2="553.16" y2="487.10" stroke="#333" stroke-width="0.9"/>
<line x1="551.76" y1="477.87" x2="554.56" y2="477.87" stroke="#333" stroke-width="0.9"/>
<line x1="551.76" y1="487.10" x2="554.56" y2="487.10" stroke="#333" stroke-width="0.9"/>
<circle cx="553.16" cy="482.49" r="1.4" fill="#a33060"/>
<line x1="588.88" y1="448.98" x2="588.88" y2="470.09" stroke="#333" stroke-width="0.9"/>
<line x1="587.48" y1="448.98" x2="590.28" y2="448.98" stroke="#333" stroke-width="0.9"/>
<line x1="587.48" y1="470.09" x2="590.28" y2="470.09" stroke="#333" stroke-width="0.9"/>
<circle cx="588.88" cy="459.53" r="1.4" fill="#a33060"/>
<line x1="624.60" y1="433.15" x2="624.60" y2="439.49" stroke="#333" stroke-width="0.9"/>
<line x1="623.20" y1="433.15" x2="626.00" y2="433.15" stroke="#333" stroke-width="0.9"/>
<line x1="623.20" y1="439.49" x2="626.00" y2="439.49" stroke="#333" stroke-width="0.9"/>
<circle cx="624.60" cy="436.32" r="1.4" fill="#a33060"/>
<circle cx="446.00" cy="542.50" r="1.4" fill="#6b7fcf"/>
<line x1="481.72" y1="536.56" x2="481.72" y2="540.52" stroke="#333" stroke-width="0.9"/>
<line x1="480.32" y1="536.56" x2="483.12" y2="536.56" stroke="#333" stroke-width="0.9"/>
<line x1="480.32" y1="540.52" x2="483.12" y2="540.52" stroke="#333" stroke-width="0.9"/>
<circle cx="481.72" cy="538.54" r="1.4" fill="#6b7fcf"/>
<line x1="517.44" y1="502.53" x2="517.44" y2="511.77" stroke="#333" stroke-width="0.9"/>
<line x1="516.04" y1="502.53" x2="518.84" y2="502.53" stroke="#333" stroke-width="0.9"/>
<line x1="516.04" y1="511.77" x2="518.84" y2="511.77" stroke="#333" stroke-width="0.9"/>
<circle cx="517.44" cy="507.15" r="1.4" fill="#6b7fcf"/>
<line x1="553.16" y1="442.39" x2="553.16" y2="459.53" stroke="#333" stroke-width="0.9"/>
<line x1="551.76" y1="442.39" x2="554.56" y2="442.39" stroke="#333" stroke-width="0.9"/>
<line x1="551.76" y1="459.53" x2="554.56" y2="459.53" stroke="#333" stroke-width="0.9"/>
<circle cx="553.16" cy="450.96" r="1.4" fill="#6b7fcf"/>
<line x1="588.88" y1="428.14" x2="588.88" y2="432.36" stroke="#333" stroke-width="0.9"/>
<line x1="587.48" y1="428.14" x2="590.28" y2="428.14" stroke="#333" stroke-width="0.9"/>
<line x1="587.48" y1="432.36" x2="590.28" y2="432.36" stroke="#333" stroke-width="0.9"/>
<circle cx="588.88" cy="430.25" r="1.4" fill="#6b7fcf"/>
<line x1="624.60" y1="412.84" x2="624.60" y2="416.54" stroke="#333" stroke-width="0.9"/>
<line x1="623.20" y1="412.84" x2="626.00" y2="412.84" stroke="#333" stroke-width="0.9"/>
<line x1="623.20" y1="416.54" x2="626.00" y2="416.54" stroke="#333" stroke-width="0.9"/>
<circle cx="624.60" cy="414.69" r="1.4" fill="#6b7fcf"/>
<circle cx="446.00" cy="542.50" r="1.4" fill="#111"/>
<circle cx="481.72" cy="541.84" r="1.4" fill="#111"/>
<line x1="517.44" y1="510.32" x2="517.44" y2="526.14" stroke="#333" stroke-width="0.9"/>
<line x1="516.04" y1="510.32" x2="518.84" y2="510.32" stroke="#333" stroke-width="0.9"/>
<line x1="516.04" y1="526.14" x2="518.84" y2="526.14" stroke="#333" stroke-width="0.9"/>
<circle cx="517.44" cy="518.23" r="1.4" fill="#111"/>
<line x1="553.16" y1="458.08" x2="553.16" y2="462.04" stroke="#333" stroke-width="0.9"/>
<line x1="551.76" y1="458.08" x2="554.56" y2="458.08" stroke="#333" stroke-width="0.9"/>
<line x1="551.76" y1="462.04" x2="554.56" y2="462.04" stroke="#333" stroke-width="0.9"/>
<circle cx="553.16" cy="460.06" r="1.4" fill="#111"/>
<line x1="588.88" y1="441.73" x2="588.88" y2="444.37" stroke="#333" stroke-width="0.9"/>
<line x1="587.48" y1="441.73" x2="590.28" y2="441.73" stroke="#333" stroke-width="0.9"/>
<line x1="587.48" y1="444.37" x2="590.28" y2="444.37" stroke="#333" stroke-width="0.9"/>
<circle cx="588.88" cy="443.05" r="1.4" fill="#111"/>
<circle cx="624.60" cy="426.96" r="1.4" fill="#111"/>
<line x1="426.40" y1="384.30" x2="442.50" y2="384.30" stroke="#111" stroke-width="0.9"/>
<circle cx="434.45" cy="384.30" r="1.2" fill="#111"/>
<text transform="translate(451.30,387.90) scale(1.08,1)" font-size="10.9" text-anchor="start" font-weight="normal" fill="#1a1a1a">WT</text>
<line x1="426.40" y1="398.50" x2="442.50" y2="398.50" stroke="#f0845a" stroke-width="0.9"/>
<circle cx="434.45" cy="398.50" r="1.2" fill="#f0845a"/>
<text transform="translate(451.30,402.10) scale(1.08,1)" font-size="10.9" text-anchor="start" font-weight="normal" fill="#1a1a1a" font-style="italic">bhlh144-1</text>
<line x1="534.00" y1="384.30" x2="550.50" y2="384.30" stroke="#6b7fcf" stroke-width="0.9"/>
<circle cx="542.25" cy="384.30" r="1.2" fill="#6b7fcf"/>
<text transform="translate(558.60,387.90) scale(1.08,1)" font-size="10.9" text-anchor="start" font-weight="normal" fill="#1a1a1a" font-style="italic">slrl2-1</text>
<line x1="534.00" y1="398.50" x2="550.50" y2="398.50" stroke="#a33060" stroke-width="0.9"/>
<circle cx="542.25" cy="398.50" r="1.2" fill="#a33060"/>
<text transform="translate(558.60,402.10) scale(1.08,1)" font-size="10.9" text-anchor="start" font-weight="normal" fill="#1a1a1a" font-style="italic">slrl2 bhlh144</text>
</svg>
</body></html>
